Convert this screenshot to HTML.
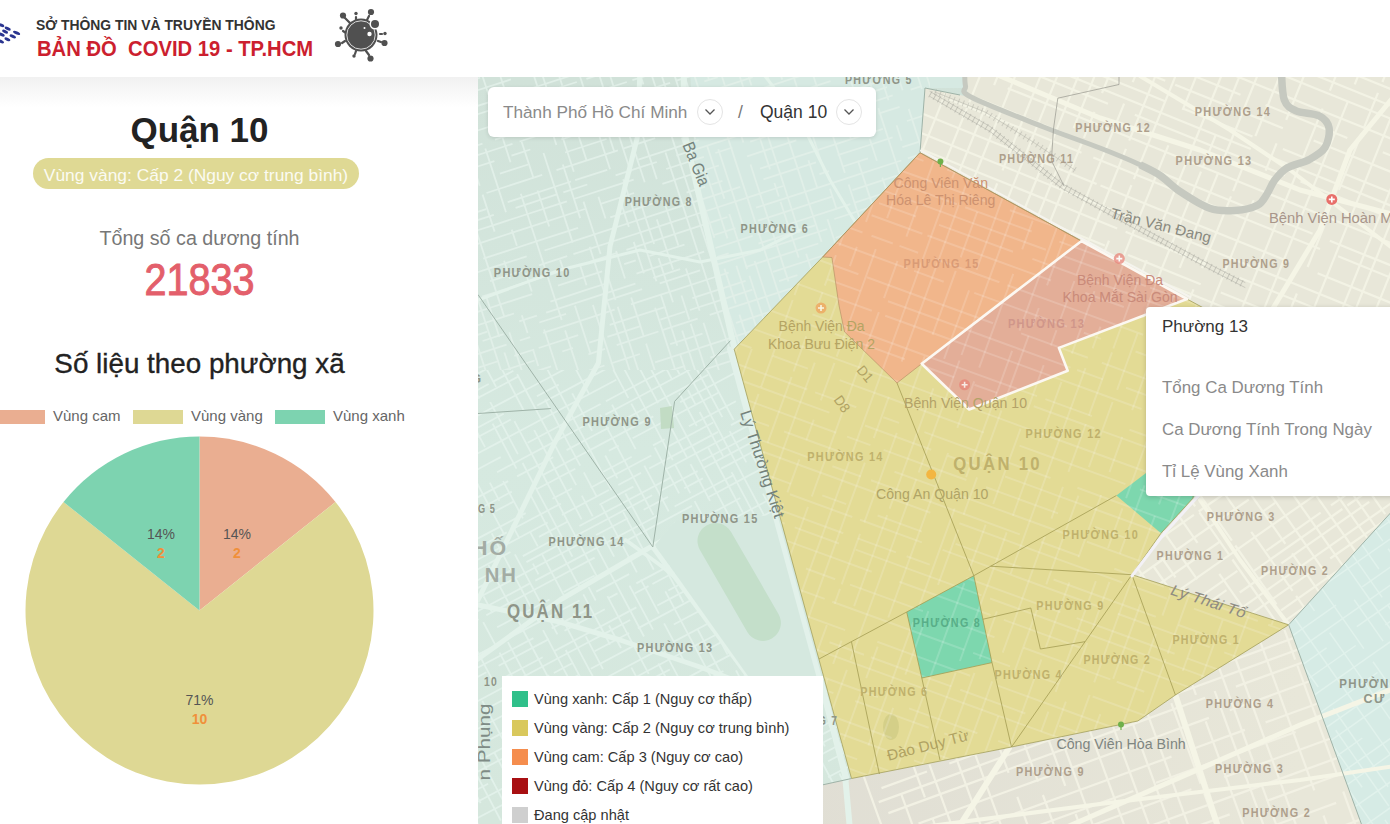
<!DOCTYPE html>
<html lang="vi">
<head>
<meta charset="utf-8">
<title>Bản đồ COVID 19 - TP.HCM</title>
<style>
*{box-sizing:border-box;margin:0;padding:0}
html,body{width:1390px;height:824px;overflow:hidden;background:#fff;font-family:"Liberation Sans",Arial,sans-serif}
.abs{position:absolute;white-space:nowrap}
#header{position:absolute;left:0;top:0;width:1390px;height:77px;background:#fff;z-index:5}
#shade{position:absolute;left:0;top:77px;width:478px;height:30px;background:linear-gradient(#f1f1f1,#fff)}
.t1{left:36px;top:17px;font-size:14.5px;transform:scaleX(.958);transform-origin:0 0;font-weight:bold;color:#333;letter-spacing:0}
.t2{left:37px;top:36px;font-size:21.6px;transform:scaleX(.937);transform-origin:0 0;font-weight:bold;color:#cc1f2f}
.c{left:0;width:399px;text-align:center}
#q10{top:110px;font-size:35px;font-weight:bold;color:#222;line-height:40px}
#pill{position:absolute;left:33px;top:158px;width:326px;height:31px;border-radius:16px;background:#dfd994;color:#fbfbf2;font-size:17.4px;line-height:35px;text-align:center}
#tong{top:226px;font-size:19.7px;color:#777;line-height:24px}
#num{top:255px;font-size:41px;color:#e35f6b;line-height:44px;font-weight:normal;-webkit-text-stroke:.9px #e35f6b;transform:scale(.965,1.1);transform-origin:50% 0}
#sl{top:348px;font-size:27.8px;color:#222;line-height:32px;-webkit-text-stroke:.35px #222}
.lg{position:absolute;top:410px;height:14px;width:50px}
.lgt{top:407px;font-size:15px;color:#666;line-height:18px}
#search{position:absolute;left:488px;top:87px;width:388px;height:50px;background:#fff;border-radius:6px;box-shadow:0 1px 4px rgba(0,0,0,.12)}
#s1{left:15px;top:15.4px;font-size:17.2px;color:#8a8a8a;line-height:20px}
#s2{left:272px;top:15px;font-size:17.5px;color:#333;line-height:20px}
#slash{left:250px;top:15px;font-size:17.5px;color:#777;line-height:20px}
.circ{position:absolute;top:12px;width:26px;height:26px;border:1px solid #e4e4e4;border-radius:50%;display:flex;align-items:center;justify-content:center}
#popup{position:absolute;left:1146px;top:307px;width:260px;height:189px;background:#fff;border-radius:4px;box-shadow:0 1px 5px rgba(0,0,0,.18)}
#p1{left:16px;top:10px;font-size:17px;color:#333;line-height:20px}
.pg{left:16px;font-size:16.9px;color:#8a8a8a;line-height:20px}
#legend{position:absolute;left:502px;top:676px;width:321px;height:160px;background:#fff}
.lr{position:absolute;left:10px;height:16px;font-size:14.6px;color:#333;line-height:16px;white-space:nowrap}
.lr i{display:inline-block;width:16px;height:16px;vertical-align:top;margin-right:6px}
</style>
</head>
<body>
<div id="header">
  <svg class="abs" style="left:0;top:0" width="24" height="50" viewBox="0 0 24 50"><g fill="#2b3590"><ellipse cx="1.3" cy="25.2" rx="3.2" ry="1.55" transform="rotate(24 1.3 25.2)"/><ellipse cx="7.7" cy="28.6" rx="3.3" ry="1.55" transform="rotate(24 7.7 28.6)"/><ellipse cx="16.6" cy="32.9" rx="3.8" ry="1.55" transform="rotate(24 16.6 32.9)"/><ellipse cx="5.1" cy="31.6" rx="3.2" ry="1.55" transform="rotate(24 5.1 31.6)"/><ellipse cx="12.8" cy="36.3" rx="3.4" ry="1.55" transform="rotate(24 12.8 36.3)"/><ellipse cx="1.7" cy="34.6" rx="3.2" ry="1.55" transform="rotate(24 1.7 34.6)"/><ellipse cx="7.4" cy="39.3" rx="3.2" ry="1.55" transform="rotate(24 7.4 39.3)"/><ellipse cx="0.9" cy="41.4" rx="3.3" ry="1.55" transform="rotate(24 0.9 41.4)"/><ellipse cx="-4" cy="29" rx="3.2" ry="1.55" transform="rotate(24 -4 29)"/><ellipse cx="-4" cy="37" rx="3.2" ry="1.55" transform="rotate(24 -4 37)"/></g></svg>
  <div class="abs t1">SỞ THÔNG TIN VÀ TRUYỀN THÔNG</div>
  <div class="abs t2">BẢN ĐỒ&nbsp; COVID 19 - TP.HCM</div>
  <svg class="abs" style="left:331px;top:6px" width="60" height="58" viewBox="331 6 60 58">
    <g stroke="#505050" stroke-width="2.2" stroke-linecap="round" fill="#505050">
      <line x1="352" y1="25" x2="343" y2="16"/><circle cx="343" cy="15.5" r="3.1" stroke="none"/>
      <line x1="356" y1="21" x2="356" y2="17"/><circle cx="356" cy="13.5" r="1.7" stroke="none"/>
      <line x1="367" y1="20" x2="369" y2="16"/><circle cx="371" cy="12" r="3.1" stroke="none"/>
      <line x1="346" y1="33" x2="343" y2="31"/><circle cx="341" cy="28" r="1.7" stroke="none"/>
      <line x1="345" y1="41" x2="342" y2="43"/><circle cx="338" cy="44" r="3.1" stroke="none"/>
      <line x1="356" y1="51" x2="355" y2="54"/><circle cx="354" cy="56" r="1.7" stroke="none"/>
      <line x1="366" y1="51" x2="369" y2="55"/><circle cx="370.5" cy="58.5" r="3.1" stroke="none"/>
      <line x1="378" y1="41" x2="381" y2="42"/><circle cx="384.5" cy="43" r="3.1" stroke="none"/>
      <line x1="380" y1="34" x2="382" y2="34"/><circle cx="385" cy="33.5" r="1.7" stroke="none"/>
    </g>
    <circle cx="361" cy="35" r="16.5" fill="#505050"/>
    <circle cx="361" cy="35" r="14.2" fill="none" stroke="#d8d8d8" stroke-width="1"/>
    <circle cx="375" cy="24" r="5.5" fill="#fff"/>
    <circle cx="375" cy="24" r="4" fill="#505050"/>
    <circle cx="369.5" cy="34" r="2.2" fill="#fff"/>
    <circle cx="364.5" cy="28" r="1" fill="#fff"/>
  </svg>
</div>
<div id="shade"></div>

<div class="abs c" id="q10">Quận 10</div>
<div id="pill">Vùng vàng: Cấp 2 (Nguy cơ trung bình)</div>
<div class="abs c" id="tong">Tổng số ca dương tính</div>
<div class="abs c" id="num">21833</div>
<div class="abs c" id="sl">Số liệu theo phường xã</div>

<div class="lg" style="left:-5px;background:#eaae91"></div>
<div class="abs lgt" style="left:53px">Vùng cam</div>
<div class="lg" style="left:133px;background:#ded894"></div>
<div class="abs lgt" style="left:191px">Vùng vàng</div>
<div class="lg" style="left:275px;background:#7dd3b0"></div>
<div class="abs lgt" style="left:333px">Vùng xanh</div>

<svg class="abs" style="left:0;top:430px" width="400" height="370" viewBox="0 428.5 400 370">
  <!-- pie center (199.5,609) r=174 -->
  <path d="M199.5 609 L199.5 435 A174 174 0 0 1 335.5 500.5 Z" fill="#eaae91"/>
  <path d="M199.5 609 L335.5 500.5 A174 174 0 1 1 63.5 500.5 Z" fill="#ded894"/>
  <path d="M199.5 609 L63.5 500.5 A174 174 0 0 1 199.5 435 Z" fill="#7dd3b0"/>
  <g font-family="Liberation Sans, Arial, sans-serif" font-size="14" text-anchor="middle">
    <text x="161" y="537" fill="#555">14%</text>
    <text x="161" y="556" fill="#f0903a" font-weight="bold">2</text>
    <text x="237" y="537" fill="#555">14%</text>
    <text x="237" y="556" fill="#f0903a" font-weight="bold">2</text>
    <text x="199.5" y="703" fill="#555">71%</text>
    <text x="199.5" y="722" fill="#f0903a" font-weight="bold">10</text>
  </g>
</svg>

<svg id="mapsvg" class="abs" style="left:478px;top:77px" width="912" height="747" viewBox="478 77 912 747">
<defs>
<clipPath id="cT"><path d="M470.0,70.0 L964.0,70.0 L966.0,88.0 L969.0,97.0 L960.0,95.0 L925.0,88.0 L920.0,152.7 L822.7,257.0 L734.2,349.2 L851.5,778.5 L822.9,784.8 L760.0,830.0 L470.0,830.0 Z"/><path d="M1288.7,624.8 L1395.0,508.0 L1395.0,830.0 L1363.6,830.0 Z"/></clipPath>
<clipPath id="cQ"><path d="M920.0,152.7 L1081.5,241.0 L1187.0,299.0 L1210.0,311.5 L1203.0,420.0 L1192.9,498.3 L1161.0,533.2 L1131.9,574.7 L1288.7,624.8 L1175.4,695.0 L1137.8,721.0 L1011.5,747.0 L851.5,778.5 L734.2,349.2 L822.7,257.0 Z"/></clipPath>
</defs>
<rect x="470" y="70" width="930" height="760" fill="#e8e7d9"/>
<linearGradient id="gB" x1="800" y1="0" x2="1300" y2="0" gradientUnits="userSpaceOnUse"><stop offset="0" stop-color="#e0ded4"/><stop offset="1" stop-color="#e8e7d9"/></linearGradient>
<path d="M851.5,778.5 L1011.5,747.0 L1137.8,721.0 L1175.4,695.0 L1288.7,624.8 L1363.6,830.0 L760.0,830.0 L822.9,784.8 Z" fill="url(#gB)"/>
<linearGradient id="gT" x1="0" y1="80" x2="0" y2="820" gradientUnits="userSpaceOnUse"><stop offset="0" stop-color="#d1e2d9"/><stop offset="0.5" stop-color="#d6e9e0"/><stop offset="1" stop-color="#d5e7dd"/></linearGradient>
<path d="M470.0,70.0 L964.0,70.0 L966.0,88.0 L969.0,97.0 L960.0,95.0 L925.0,88.0 L920.0,152.7 L822.7,257.0 L734.2,349.2 L851.5,778.5 L822.9,784.8 L760.0,830.0 L470.0,830.0 Z" fill="url(#gT)"/>
<path d="M1288.7,624.8 L1395.0,508.0 L1395.0,830.0 L1363.6,830.0 Z" fill="#d6ebe5"/>
<path d="M690.0,70.0 L964.0,70.0 L966.0,88.0 L925.0,88.0 L920.0,152.7 L822.7,257.0 L734.2,349.2 L715.0,280.0 L695.0,160.0 Z" fill="#d7ebe4" fill-opacity="0.75"/>
<clipPath id="cB"><rect x="470" y="70" width="930" height="760"/></clipPath>
<clipPath id="cBe"><path clip-rule="evenodd" d="M470,70 H1400 V830 H470 Z M470.0,70.0 L964.0,70.0 L966.0,88.0 L969.0,97.0 L960.0,95.0 L925.0,88.0 L920.0,152.7 L822.7,257.0 L734.2,349.2 L851.5,778.5 L822.9,784.8 L760.0,830.0 L470.0,830.0 Z M1288.7,624.8 L1395.0,508.0 L1395.0,830.0 L1363.6,830.0 Z"/></clipPath>
<clipPath id="cTN"><path d="M470.0,70.0 L964.0,70.0 L966.0,88.0 L969.0,97.0 L960.0,95.0 L925.0,88.0 L920.0,152.7 L822.7,257.0 L734.2,349.2 L851.5,778.5 L822.9,784.8 L760.0,830.0 L470.0,830.0 Z"/></clipPath>
<clipPath id="cTNW"><rect x="470" y="70" width="460" height="300"/></clipPath>
<clipPath id="cTSW"><rect x="470" y="370" width="400" height="460"/></clipPath>
<g clip-path="url(#cTN)">
<path d="M258.9,11.7L312.4,-5.6M333.5,-12.5L371.0,-24.7M392.3,-31.6L431.8,-44.4M431.8,-44.4L445.8,-49.0M452.7,-51.2L500.7,-66.8M500.7,-66.8L512.2,-70.6M512.2,-70.6L567.6,-88.6M567.6,-88.6L606.4,-101.2M610.7,-102.6L645.3,-113.8M655.6,-117.2L676.6,-124.0M696.3,-130.4L726.8,-140.3M726.8,-140.3L761.0,-151.4M761.0,-151.4L794.3,-162.2M794.3,-162.2L825.5,-172.4M863.5,-184.7L920.3,-203.2M253.7,27.5L274.2,20.8M280.4,18.8L326.3,3.9M359.1,-6.8L387.0,-15.8M387.0,-15.8L436.8,-32.0M447.8,-35.6L500.6,-52.7M537.9,-64.9L566.4,-74.1M591.7,-82.3L638.2,-97.5M645.0,-99.7L670.4,-107.9M670.4,-107.9L715.9,-122.7M728.2,-126.7L742.5,-131.3M773.6,-141.4L791.5,-147.3M810.6,-153.5L829.2,-159.5M829.2,-159.5L845.0,-164.6M845.0,-164.6L860.0,-169.5M281.6,28.3L329.3,12.8M363.4,1.8L382.9,-4.6M416.0,-15.3L456.0,-28.3M493.7,-40.6L513.3,-47.0M543.6,-56.8L568.8,-65.0M575.1,-67.0L588.9,-71.5M601.0,-75.4L639.1,-87.8M658.4,-94.1L713.5,-112.0M737.0,-119.6L787.7,-136.1M796.8,-139.1L849.5,-156.2M849.5,-156.2L870.9,-163.1M256.9,52.6L311.6,34.8M311.6,34.8L349.8,22.4M357.2,20.0L368.5,16.4M368.5,16.4L389.4,9.6M389.4,9.6L411.1,2.5M411.1,2.5L449.0,-9.8M458.8,-13.0L502.5,-27.2M514.2,-31.0L550.3,-42.7M550.3,-42.7L589.0,-55.3M624.2,-66.7L643.4,-73.0M656.4,-77.2L687.1,-87.2M697.0,-90.4L724.0,-99.2M732.3,-101.9L759.1,-110.6M759.1,-110.6L815.2,-128.8M815.2,-128.8L857.6,-142.6M866.2,-145.4L877.4,-149.0M290.2,55.8L300.7,52.4M300.7,52.4L333.1,41.8M333.1,41.8L357.8,33.8M357.8,33.8L370.9,29.6M399.9,20.1L452.2,3.1M452.2,3.1L495.2,-10.8M495.2,-10.8L548.2,-28.1M575.5,-36.9L627.8,-53.9M627.8,-53.9L657.2,-63.5M657.2,-63.5L707.8,-79.9M733.0,-88.1L760.7,-97.1M785.3,-105.1L798.6,-109.4M798.6,-109.4L855.4,-127.8M855.4,-127.8L899.5,-142.2M274.1,73.9L323.4,57.8M352.9,48.3L363.9,44.7M363.9,44.7L396.2,34.2M424.0,25.2L457.1,14.4M457.1,14.4L510.4,-2.9M514.6,-4.3L538.4,-12.0M538.4,-12.0L557.6,-18.2M592.4,-29.5L633.3,-42.8M667.6,-54.0L692.7,-62.1M692.7,-62.1L711.6,-68.3M743.0,-78.5L796.0,-95.7M796.0,-95.7L823.8,-104.7M838.4,-109.5L854.4,-114.7M288.9,84.5L343.6,66.7M353.2,63.6L384.1,53.5M395.2,49.9L424.4,40.4M424.4,40.4L457.4,29.7M490.0,19.1L546.2,0.9M552.5,-1.2L563.6,-4.8M563.6,-4.8L575.0,-8.5M575.0,-8.5L611.7,-20.4M642.6,-30.5L653.0,-33.8M672.4,-40.1L683.1,-43.6M683.1,-43.6L703.9,-50.4M709.3,-52.1L748.7,-64.9M774.1,-73.2L814.7,-86.4M814.7,-86.4L869.8,-104.3M869.8,-104.3L888.8,-110.5M282.0,94.2L325.5,80.0M338.6,75.8L364.5,67.3M364.5,67.3L398.8,56.2M398.8,56.2L444.3,41.4M475.2,31.4L527.8,14.3M563.5,2.7L607.4,-11.6M626.7,-17.8L666.0,-30.6M666.0,-30.6L693.4,-39.5M727.3,-50.5L774.7,-65.9M774.7,-65.9L806.3,-76.2M806.3,-76.2L825.5,-82.4M825.5,-82.4L874.0,-98.2M874.0,-98.2L917.6,-112.4M306.1,103.0L341.1,91.6M341.1,91.6L365.9,83.5M365.9,83.5L416.1,67.2M422.7,65.1L453.2,55.2M483.3,45.4L516.0,34.8M547.5,24.5L560.1,20.5M560.1,20.5L577.8,14.7M608.6,4.7L624.8,-0.6M646.3,-7.6L690.2,-21.8M690.2,-21.8L732.5,-35.6M732.5,-35.6L765.4,-46.3M765.4,-46.3L779.0,-50.7M800.8,-57.8L824.2,-65.4M824.2,-65.4L864.0,-78.3M284.5,122.7L312.1,113.7M312.1,113.7L364.5,96.7M397.4,86.0L453.0,67.9M476.4,60.3L495.5,54.1M516.5,47.3L554.8,34.8M591.8,22.8L625.8,11.8M657.1,1.6L693.3,-10.2M720.8,-19.1L733.4,-23.2M751.4,-29.1L806.4,-46.9M806.4,-46.9L828.7,-54.2M836.9,-56.8L867.0,-66.6M867.0,-66.6L919.3,-83.6M298.8,127.2L352.4,109.8M382.8,99.9L393.4,96.4M405.0,92.7L447.2,79.0M463.2,73.8L502.1,61.1M531.0,51.7L546.3,46.8M558.7,42.7L577.6,36.6M596.4,30.5L623.8,21.6M645.7,14.5L662.8,8.9M688.2,0.6L728.1,-12.3M761.0,-23.0L799.6,-35.6M799.6,-35.6L820.2,-42.2M820.2,-42.2L868.3,-57.9M868.3,-57.9L892.8,-65.8M316.1,131.0L367.8,114.2M379.8,110.3L423.9,96.0M431.0,93.7L480.1,77.7M510.9,67.7L526.4,62.6M553.7,53.8L564.0,50.4M591.2,41.6L644.1,24.4M644.1,24.4L659.1,19.5M688.8,9.9L722.2,-1.0M722.2,-1.0L740.7,-7.0M748.2,-9.4L759.5,-13.1M780.9,-20.0L817.5,-31.9M827.6,-35.2L846.8,-41.4M846.8,-41.4L903.4,-59.8M903.4,-59.8L917.4,-64.4M310.6,144.5L335.7,136.3M357.1,129.4L387.1,119.6M387.1,119.6L397.2,116.3M397.2,116.3L446.9,100.2M466.3,93.9L510.9,79.4M521.4,76.0L538.8,70.4M543.1,69.0L595.1,52.1M595.1,52.1L638.1,38.1M638.1,38.1L677.5,25.3M701.9,17.4L735.4,6.5M735.4,6.5L783.1,-9.0M818.2,-20.4L863.1,-35.0M863.1,-35.0L911.3,-50.7M312.6,159.5L358.6,144.6M358.6,144.6L387.4,135.2M387.4,135.2L400.3,131.1M420.1,124.6L430.1,121.3M455.8,113.0L495.0,100.3M531.1,88.5L572.3,75.1M598.7,66.6L635.3,54.7M652.5,49.1L709.5,30.6M709.5,30.6L752.4,16.6M752.4,16.6L808.5,-1.6M833.4,-9.7L878.0,-24.2M895.6,-29.9L907.5,-33.7M298.1,172.5L350.7,155.4M371.9,148.6L427.4,130.5M465.3,118.2L505.1,105.3M505.1,105.3L518.3,101.0M548.1,91.3L559.7,87.5M559.7,87.5L576.8,82.0M586.4,78.9L619.5,68.1M619.5,68.1L631.8,64.1M631.8,64.1L661.3,54.5M685.6,46.6L712.5,37.9M738.7,29.4L774.9,17.6M803.2,8.4L826.8,0.7M839.0,-3.2L850.6,-7.0M880.2,-16.6L908.3,-25.7M908.3,-25.7L953.4,-40.4M296.2,189.5L348.8,172.4M368.9,165.8L424.7,147.7M446.4,140.6L500.5,123.1M500.5,123.1L532.3,112.7M532.3,112.7L580.6,97.0M580.6,97.0L595.6,92.2M595.6,92.2L626.8,82.0M632.4,80.2L667.0,69.0M686.0,62.8L727.2,49.4M740.0,45.2L777.2,33.2M807.7,23.3L842.4,12.0M842.4,12.0L897.2,-5.8M897.2,-5.8L918.1,-12.6M321.5,196.0L348.1,187.4M375.4,178.5L411.7,166.7M437.2,158.4L482.5,143.7M494.9,139.7L551.0,121.5M551.0,121.5L602.3,104.8M608.2,102.9L630.6,95.6M655.7,87.4L670.1,82.8M676.4,80.7L690.0,76.3M690.0,76.3L725.7,64.7M725.7,64.7L752.9,55.8M764.0,52.3L789.8,43.9M789.8,43.9L839.2,27.8M847.1,25.2L895.1,9.6M895.1,9.6L941.2,-5.3M331.4,202.6L358.5,193.8M358.5,193.8L415.0,175.4M437.6,168.1L482.6,153.5M482.6,153.5L512.5,143.8M519.6,141.5L570.7,124.8M577.4,122.7L613.7,110.9M641.0,102.0L664.7,94.3M664.7,94.3L677.8,90.0M704.3,81.4L717.7,77.1M746.3,67.8L788.8,54.0M797.5,51.2L824.0,42.5M824.0,42.5L851.0,33.8M879.1,24.7L915.6,12.8M915.6,12.8L969.9,-4.8M334.5,213.1L358.5,205.3M376.0,199.6L430.0,182.1M430.0,182.1L451.3,175.1M467.6,169.8L494.4,161.1M511.5,155.6L530.3,149.5M561.4,139.4L596.6,127.9M596.6,127.9L632.9,116.2M662.6,106.5L714.0,89.8M718.6,88.3L752.6,77.2M775.9,69.7L831.3,51.7M831.3,51.7L879.1,36.2M901.6,28.8L948.6,13.6M342.4,224.9L356.0,220.5M356.0,220.5L372.3,215.2M372.3,215.2L412.7,202.0M424.0,198.3L469.9,183.4M499.9,173.7L528.2,164.5M565.1,152.5L606.6,139.0M628.8,131.8L672.6,117.6M672.6,117.6L725.6,100.3M757.7,89.9L798.9,76.5M798.9,76.5L846.8,61.0M846.8,61.0L898.5,44.2M898.5,44.2L938.5,31.2M328.6,244.3L358.1,234.7M387.3,225.2L444.0,206.8M453.5,203.7L472.7,197.5M486.5,193.0L542.2,174.9M556.5,170.2L571.5,165.4M571.5,165.4L617.9,150.3M623.8,148.4L655.2,138.2M690.1,126.8L701.4,123.2M711.5,119.9L731.3,113.5M759.7,104.2L797.5,92.0M807.6,88.7L830.5,81.2M860.2,71.6L884.6,63.7M916.3,53.3L948.7,42.8M330.3,259.8L365.9,248.2M365.9,248.2L398.3,237.7M403.8,235.9L458.4,218.1M458.4,218.1L486.2,209.1M507.7,202.1L530.2,194.8M530.2,194.8L571.0,181.5M575.2,180.2L607.2,169.8M638.3,159.7L681.7,145.6M681.7,145.6L698.7,140.1M713.5,135.3L735.4,128.2M735.4,128.2L769.4,117.1M769.4,117.1L826.1,98.7M848.3,91.5L864.9,86.1M864.9,86.1L874.5,82.9M874.5,82.9L924.3,66.8M924.3,66.8L937.7,62.4M338.0,265.5L369.8,255.2M369.8,255.2L407.2,243.1M407.2,243.1L431.2,235.3M431.2,235.3L460.5,225.7M460.5,225.7L474.3,221.2M474.3,221.2L493.8,214.9M515.6,207.9L532.6,202.3M532.6,202.3L556.9,194.4M563.3,192.3L587.3,184.5M615.6,175.3L642.2,166.7M642.2,166.7L656.8,162.0M676.4,155.6L731.9,137.6M731.9,137.6L772.5,124.4M789.2,118.9L832.5,104.9M855.6,97.4L886.9,87.2M924.6,74.9L972.2,59.5M337.0,276.0L372.2,264.5M387.6,259.6L415.7,250.4M415.7,250.4L437.4,243.3M466.3,234.0L491.4,225.8M491.4,225.8L527.7,214.0M527.7,214.0L553.0,205.8M553.0,205.8L566.9,201.3M573.9,199.0L615.7,185.4M615.7,185.4L633.7,179.6M666.2,169.0L703.9,156.8M715.4,153.0L732.4,147.5M750.2,141.7L763.1,137.5M763.1,137.5L792.9,127.8M818.9,119.4L864.9,104.5M864.9,104.5L892.7,95.4M910.7,89.6L920.9,86.3M948.7,77.2L1004.9,59.0M349.9,285.4L360.3,282.0M375.8,277.0L416.2,263.8M433.0,258.4L466.7,247.4M466.7,247.4L515.4,231.6M515.4,231.6L532.5,226.1M532.5,226.1L584.9,209.0M600.8,203.9L634.1,193.0M662.4,183.9L718.8,165.5M747.1,156.3L796.3,140.3M832.5,128.6L871.8,115.8M878.5,113.7L899.6,106.8M927.3,97.8L952.4,89.6M952.4,89.6L979.1,80.9M336.7,306.2L389.2,289.2M412.2,281.7L448.4,270.0M483.3,258.6L540.0,240.2M540.0,240.2L578.1,227.8M610.2,217.4L633.4,209.8M633.4,209.8L654.4,203.0M686.6,192.6L705.0,186.6M711.4,184.5L722.4,180.9M760.0,168.7L814.2,151.1M814.2,151.1L838.3,143.3M838.3,143.3L882.9,128.8M907.0,121.0L954.7,105.4M340.5,316.8L368.4,307.8M378.1,304.6L412.3,293.5M435.6,285.9L460.9,277.7M460.9,277.7L472.2,274.0M472.2,274.0L488.6,268.7M488.6,268.7L526.7,256.3M544.5,250.5L583.7,237.8M583.7,237.8L629.3,223.0M629.3,223.0L661.9,212.4M661.9,212.4L711.3,196.3M711.3,196.3L740.2,186.9M763.4,179.4L816.0,162.3M837.7,155.2L867.8,145.5M867.8,145.5L892.6,137.4M921.2,128.1L973.5,111.1M367.5,321.1L391.5,313.3M397.7,311.2L413.1,306.2M434.1,299.4L462.5,290.2M490.1,281.2L524.6,270.0M538.9,265.4L567.2,256.2M573.4,254.2L626.2,237.0M626.2,237.0L667.4,223.6M667.4,223.6L696.9,214.0M696.9,214.0L717.0,207.5M717.0,207.5L753.5,195.6M753.5,195.6L767.7,191.0M767.7,191.0L783.1,186.0M819.4,174.2L829.0,171.1M843.0,166.5L868.0,158.4M902.4,147.2L950.7,131.6M344.4,341.5L355.4,337.9M355.4,337.9L379.6,330.0M415.3,318.4L471.3,300.2M482.2,296.7L505.7,289.0M505.7,289.0L557.9,272.1M590.4,261.5L616.7,253.0M626.4,249.8L677.8,233.1M677.8,233.1L696.9,226.9M696.9,226.9L715.5,220.9M715.5,220.9L727.4,217.0M756.1,207.7L780.4,199.8M780.4,199.8L831.3,183.3M831.3,183.3L847.2,178.1M847.2,178.1L901.3,160.5M907.8,158.4L928.0,151.8M956.1,142.7L975.0,136.6M376.7,344.6L404.0,335.8M404.0,335.8L455.5,319.0M467.2,315.2L491.0,307.5M491.0,307.5L532.2,294.1M558.0,285.7L571.7,281.2M571.7,281.2L602.2,271.3M624.2,264.2L635.8,260.4M649.4,256.0L670.8,249.0M670.8,249.0L684.5,244.6M714.2,235.0L735.4,228.1M757.9,220.7L776.3,214.8M776.3,214.8L832.8,196.4M852.4,190.1L897.6,175.4M933.2,163.8L966.5,153.0M364.3,362.1L405.1,348.8M405.1,348.8L439.2,337.8M472.0,327.1L514.0,313.5M550.4,301.6L568.2,295.9M568.2,295.9L585.5,290.2M585.5,290.2L606.2,283.5M636.5,273.7L683.4,258.4M683.4,258.4L704.2,251.7M715.5,248.0L752.6,235.9M757.6,234.3L795.5,222.0M795.5,222.0L832.3,210.1M832.3,210.1L850.3,204.2M854.8,202.7L887.9,192.0M906.8,185.8L928.8,178.7M928.8,178.7L941.8,174.5M941.8,174.5L978.3,162.6M359.0,373.4L383.3,365.5M397.9,360.8L436.9,348.1M449.8,343.9L487.3,331.7M519.2,321.4L536.9,315.6M546.2,312.6L588.5,298.9M588.5,298.9L635.4,283.6M653.3,277.8L680.1,269.1M717.2,257.1L728.7,253.3M758.5,243.6L815.0,225.3M834.3,219.0L879.3,204.4M891.3,200.5L943.2,183.6M960.4,178.0L984.1,170.3M393.6,369.9L439.4,355.0M439.4,355.0L459.9,348.4M482.6,341.0L503.6,334.2M539.3,322.5L566.1,313.8M603.5,301.7L642.1,289.1M659.7,283.4L700.1,270.3M715.6,265.2L758.2,251.4M758.2,251.4L795.8,239.2M795.8,239.2L827.3,229.0M860.0,218.4L887.6,209.4M887.6,209.4L907.3,203.0M917.4,199.7L953.1,188.1M963.9,184.6L983.6,178.2M396.9,380.4L438.7,366.8M438.7,366.8L458.0,360.6M464.3,358.5L506.6,344.7M519.8,340.5L530.2,337.1M543.0,332.9L571.2,323.8M571.2,323.8L614.7,309.6M630.9,304.4L647.7,298.9M647.7,298.9L674.3,290.3M674.3,290.3L718.2,276.0M718.2,276.0L728.7,272.6M745.7,267.1L759.2,262.7M759.2,262.7L784.1,254.6M784.1,254.6L818.3,243.5M835.6,237.8L856.5,231.1M865.4,228.2L903.3,215.9M917.8,211.2L947.4,201.5M955.9,198.8L999.0,184.8M368.7,403.2L388.0,397.0M416.2,387.8L445.0,378.4M478.4,367.6L498.7,361.0M514.3,355.9L534.1,349.5M538.7,348.0L578.2,335.2M609.7,324.9L665.6,306.8M692.4,298.1L745.6,280.8M773.0,271.9L814.2,258.5M814.2,258.5L865.0,242.0M890.5,233.7L904.2,229.2M921.5,223.6L933.9,219.6M948.9,214.7L982.0,203.9M384.5,409.3L401.9,403.6M401.9,403.6L422.9,396.8M438.4,391.8L468.0,382.1M491.7,374.4L534.6,360.5M562.3,351.5L573.0,348.0M589.2,342.7L601.7,338.7M607.4,336.8L640.5,326.1M660.3,319.6L685.3,311.5M689.9,310.0L716.0,301.6M716.0,301.6L752.4,289.7M779.0,281.1L797.4,275.1M822.3,267.0L877.2,249.2M900.7,241.5L955.0,223.9M955.0,223.9L994.4,211.1M385.5,420.2L408.2,412.8M408.2,412.8L459.5,396.1M494.5,384.8L505.8,381.1M527.0,374.2L551.1,366.4M588.4,354.3L605.0,348.9M616.7,345.1L658.5,331.5M662.4,330.2L697.7,318.7M709.7,314.8L742.7,304.1M742.7,304.1L778.3,292.6M778.3,292.6L814.5,280.8M814.5,280.8L870.0,262.7M885.7,257.7L937.4,240.9M965.7,231.7L1008.3,217.8M405.9,430.0L423.0,424.5M423.0,424.5L455.9,413.8M472.3,408.5L495.4,401.0M495.4,401.0L530.3,389.6M542.7,385.6L567.6,377.5M589.0,370.5L604.5,365.5M610.7,363.5L625.1,358.8M625.1,358.8L639.9,354.0M670.2,344.2L702.5,333.7M736.0,322.8L786.9,306.3M799.4,302.2L833.0,291.3M833.0,291.3L861.2,282.1M861.2,282.1L882.7,275.1M882.7,275.1L907.7,267.0M937.5,257.3L987.1,241.2M987.1,241.2L1023.6,229.3M410.1,441.9L457.7,426.5M474.4,421.0L515.7,407.6M525.9,404.3L536.0,401.0M572.1,389.3L627.7,371.2M655.1,362.3L684.5,352.8M684.5,352.8L712.9,343.6M712.9,343.6L769.4,325.2M797.6,316.0L812.8,311.1M826.4,306.7L870.7,292.3M870.7,292.3L885.9,287.3M890.6,285.8L925.9,274.3M942.5,268.9L966.7,261.1M966.7,261.1L1016.1,245.0M411.5,454.7L467.6,436.4M495.2,427.5L530.7,416.0M530.7,416.0L547.2,410.6M554.6,408.2L608.5,390.7M629.1,384.0L644.3,379.0M648.8,377.6L685.2,365.8M710.4,357.6L732.9,350.2M753.2,343.6L780.1,334.9M785.7,333.1L798.3,329.0M798.3,329.0L822.5,321.1M832.6,317.9L865.1,307.3M865.1,307.3L884.2,301.1M884.2,301.1L916.7,290.5M948.2,280.3L976.5,271.1M999.1,263.7L1039.9,250.5M421.0,461.6L471.6,445.1M471.6,445.1L502.2,435.2M502.2,435.2L546.2,420.9M550.9,419.4L568.5,413.7M574.8,411.6L601.4,403.0M601.4,403.0L625.6,395.1M629.8,393.7L649.3,387.4M649.3,387.4L659.3,384.1M690.9,373.9L738.1,358.6M738.1,358.6L766.6,349.3M766.6,349.3L815.4,333.4M815.4,333.4L871.8,315.1M908.2,303.3L936.8,294.0M936.8,294.0L958.2,287.0M958.2,287.0L968.9,283.6M980.5,279.8L1008.4,270.7M403.6,482.3L443.4,469.3M456.8,465.0L509.3,447.9M516.4,445.6L541.8,437.4M541.8,437.4L561.4,431.0M561.4,431.0L596.8,419.5M596.8,419.5L614.8,413.6M623.5,410.8L649.7,402.3M653.8,401.0L687.2,390.1M702.0,385.3L737.1,373.9M737.1,373.9L756.3,367.7M756.3,367.7L781.1,359.6M781.1,359.6L795.7,354.9M795.7,354.9L825.7,345.1M825.7,345.1L845.7,338.6M873.6,329.5L891.6,323.7M918.6,314.9L973.2,297.2M983.2,293.9L1009.7,285.3M1009.7,285.3L1026.3,279.9M417.4,488.7L437.0,482.3M437.0,482.3L488.7,465.5M488.7,465.5L528.1,452.7M551.4,445.2L566.3,440.3M566.3,440.3L608.6,426.6M635.2,417.9L664.7,408.4M676.4,404.6L714.4,392.2M735.9,385.2L746.9,381.7M746.9,381.7L777.7,371.7M801.8,363.8L855.6,346.3M875.5,339.9L932.2,321.4M932.2,321.4L956.6,313.5M956.6,313.5L1013.2,295.1M433.1,492.2L466.0,481.5M498.5,470.9L538.9,457.8M538.9,457.8L587.9,441.9M587.9,441.9L621.7,430.9M621.7,430.9L634.3,426.8M634.3,426.8L677.6,412.7M709.1,402.5L740.2,392.4M773.6,381.5L792.5,375.4M818.3,367.0L831.3,362.8M862.1,352.8L894.9,342.1M926.1,332.0L976.3,315.7M976.3,315.7L1011.9,304.1M1011.9,304.1L1059.3,288.7M399.3,511.5L425.2,503.0M425.2,503.0L474.4,487.1M484.4,483.8L512.4,474.7M512.4,474.7L551.3,462.1M551.3,462.1L564.2,457.9M564.2,457.9L583.5,451.6M583.5,451.6L634.7,435.0M634.7,435.0L653.6,428.8M653.6,428.8L683.6,419.1M699.0,414.1L723.5,406.1M723.5,406.1L746.3,398.7M746.3,398.7L788.8,384.9M797.0,382.2L839.5,368.4M847.8,365.8L862.8,360.9M862.8,360.9L901.3,348.4M911.8,344.9L968.6,326.5M968.6,326.5L1013.2,312.0M406.7,520.3L446.3,507.4M478.1,497.1L507.1,487.7M528.3,480.8L582.5,463.2M610.4,454.1L631.1,447.4M644.7,443.0L695.7,426.4M728.7,415.6L770.4,402.1M806.2,390.5L834.2,381.4M834.2,381.4L872.3,369.0M878.3,367.1L907.7,357.5M926.6,351.4L981.5,333.5M1009.1,324.6L1050.6,311.1M437.8,518.8L459.2,511.8M474.7,506.8L523.3,491.0M523.3,491.0L560.9,478.8M568.1,476.5L620.2,459.5M636.5,454.2L663.8,445.4M663.8,445.4L705.1,431.9M739.7,420.7L794.3,402.9M819.8,394.7L851.6,384.3M871.4,377.9L895.9,369.9M895.9,369.9L934.2,357.5M934.2,357.5L990.1,339.3M990.1,339.3L1018.4,330.1M1018.4,330.1L1058.9,317.0M411.2,544.2L442.7,534.0M468.9,525.5L488.8,519.0M488.8,519.0L508.3,512.7M517.0,509.9L545.3,500.7M545.3,500.7L558.7,496.3M584.8,487.8L623.9,475.1M623.9,475.1L645.5,468.1M645.5,468.1L689.7,453.7M689.7,453.7L704.9,448.8M709.3,447.4L759.7,431.0M759.7,431.0L811.8,414.1M827.6,408.9L862.6,397.6M870.2,395.1L917.2,379.8M938.4,372.9L953.9,367.9M962.1,365.2L975.8,360.8M989.7,356.3L1036.2,341.2M419.2,549.5L450.2,539.4M469.8,533.1L519.7,516.9M552.6,506.2L569.5,500.7M569.5,500.7L604.0,489.5M628.7,481.4L679.3,465.0M679.3,465.0L708.5,455.5M717.6,452.6L766.0,436.8M766.0,436.8L809.4,422.7M831.4,415.6L842.3,412.1M856.4,407.5L911.8,389.5M911.8,389.5L961.6,373.3M979.7,367.4L992.9,363.1M1000.5,360.6L1053.7,343.3M448.7,553.5L503.2,535.8M524.1,529.0L576.6,511.9M590.7,507.3L635.4,492.8M651.8,487.5L681.7,477.8M697.8,472.6L727.7,462.8M733.2,461.0L782.5,445.0M804.4,437.9L839.9,426.4M851.3,422.7L865.6,418.0M880.1,413.3L912.7,402.7M942.1,393.2L974.8,382.5M992.5,376.8L1048.0,358.8M433.7,574.8L471.6,562.5M485.7,557.9L524.2,545.4M538.8,540.6L572.0,529.9M601.6,520.2L613.6,516.3M626.1,512.3L648.4,505.0M648.4,505.0L678.2,495.4M678.2,495.4L706.8,486.1M733.9,477.3L747.5,472.9M747.5,472.9L796.5,456.9M811.2,452.1L859.7,436.4M859.7,436.4L899.7,423.4M929.7,413.7L941.5,409.8M941.5,409.8L977.2,398.2M977.2,398.2L1017.1,385.2M446.1,585.3L455.9,582.1M455.9,582.1L485.3,572.5M485.3,572.5L541.6,554.2M541.6,554.2L554.6,550.0M554.6,550.0L585.1,540.1M585.1,540.1L612.6,531.2M631.3,525.1L646.4,520.2M675.4,510.8L688.3,506.6M720.7,496.0L761.9,482.7M769.5,480.2L784.7,475.2M821.2,463.4L857.3,451.7M857.3,451.7L876.9,445.3M899.0,438.1L948.4,422.0M982.2,411.1L1014.1,400.7M1032.7,394.7L1060.2,385.7M447.6,600.9L489.9,587.2M520.3,577.3L534.8,572.6M534.8,572.6L552.3,566.9M563.0,563.4L589.0,555.0M604.7,549.9L642.4,537.6M659.5,532.1L696.3,520.1M696.3,520.1L722.8,511.5M743.1,504.9L799.2,486.7M826.9,477.7L847.5,471.0M876.4,461.6L913.2,449.6M919.2,447.7L967.9,431.8M996.3,422.6L1026.4,412.9M1026.4,412.9L1062.5,401.1M450.8,615.8L483.5,605.2M513.1,595.6L527.4,590.9M560.2,580.3L571.4,576.6M571.4,576.6L607.9,564.8M623.2,559.8L639.9,554.4M639.9,554.4L685.7,539.5M685.7,539.5L699.9,534.9M699.9,534.9L719.8,528.4M741.9,521.3L780.4,508.7M810.4,499.0L847.6,486.9M847.6,486.9L901.1,469.5M901.1,469.5L927.9,460.8M927.9,460.8L971.6,446.6M1004.7,435.9L1048.8,421.5M1061.2,417.5L1071.6,414.1M446.1,627.5L461.8,622.4M475.0,618.1L498.0,610.6M519.3,603.7L570.3,587.1M603.6,576.3L653.7,560.0M653.7,560.0L689.1,548.5M689.1,548.5L724.0,537.2M724.0,537.2L777.2,519.9M777.2,519.9L799.1,512.8M835.0,501.1L861.7,492.5M861.7,492.5L882.4,485.8M898.8,480.4L943.0,466.0M943.0,466.0L976.6,455.1M992.3,450.0L1012.9,443.3M1012.9,443.3L1027.6,438.5M1027.6,438.5L1068.4,425.3M460.4,631.2L475.6,626.2M475.6,626.2L499.8,618.4M499.8,618.4L512.3,614.3M512.3,614.3L525.0,610.2M548.3,602.6L604.6,584.3M604.6,584.3L654.8,568.0M654.8,568.0L689.1,556.9M710.9,549.8L729.2,543.8M745.1,538.7L778.4,527.9M806.3,518.8L835.7,509.2M842.2,507.1L874.8,496.5M911.9,484.5L948.1,472.7M962.2,468.1L987.7,459.9M987.7,459.9L1041.9,442.3M1041.9,442.3L1096.5,424.5" stroke="#e1efe8" stroke-width="1.8" fill="none" clip-path="url(#cTNW)"/>
<path d="M857.0,-166.6L870.4,-125.4M871.7,-121.2L880.6,-93.9M890.9,-62.3L904.6,-20.0M904.6,-20.0L916.3,16.1M916.3,16.1L921.7,32.5M924.7,41.9L941.8,94.5M952.1,126.3L956.4,139.3M956.4,139.3L964.7,164.9M975.3,197.5L978.7,207.9M990.1,243.1L1001.0,276.8M1013.2,314.4L1031.0,368.9M1036.9,387.2L1042.1,403.1M1050.2,428.2L1055.9,445.5M842.8,-182.4L858.5,-134.1M864.4,-116.0L876.7,-78.1M882.2,-61.2L885.7,-50.2M885.7,-50.2L903.8,5.3M903.8,5.3L917.1,46.4M922.4,62.6L936.1,105.0M936.1,105.0L941.0,119.9M946.3,136.1L957.3,170.0M957.3,170.0L968.1,203.2M978.5,235.2L988.2,265.2M991.9,276.6L1001.6,306.4M1011.4,336.6L1016.1,351.0M1019.3,360.9L1033.2,403.5M1037.5,416.8L1045.9,442.7M838.1,-168.8L844.4,-149.4M851.0,-129.2L868.9,-74.1M880.8,-37.6L886.4,-20.1M886.4,-20.1L895.1,6.7M904.7,36.1L921.9,89.0M926.1,102.0L941.1,148.2M945.0,160.2L948.3,170.2M956.4,195.2L974.7,251.4M974.7,251.4L985.5,284.9M990.4,299.8L1005.6,346.7M1005.6,346.7L1018.6,386.6M1025.7,408.5L1036.2,440.7M1036.2,440.7L1043.3,462.7M816.6,-174.3L824.2,-150.9M824.2,-150.9L831.6,-128.2M831.6,-128.2L842.7,-94.2M842.7,-94.2L856.7,-51.2M861.1,-37.6L868.1,-16.0M868.1,-16.0L881.9,26.5M893.0,60.7L902.6,90.2M908.7,108.9L926.9,165.0M935.1,190.2L952.4,243.4M952.4,243.4L967.2,289.1M975.0,313.1L992.0,365.4M992.0,365.4L1004.1,402.5M1009.4,418.9L1023.9,463.4M810.1,-141.0L825.5,-93.5M825.5,-93.5L842.7,-40.7M852.7,-9.9L861.6,17.6M866.8,33.5L874.7,57.9M874.7,57.9L888.5,100.2M896.6,125.3L901.6,140.7M910.7,168.5L919.8,196.8M925.6,214.5L933.7,239.4M933.7,239.4L939.0,255.6M943.7,270.2L957.5,312.7M957.5,312.7L970.8,353.6M970.8,353.6L979.5,380.5M986.2,401.0L996.1,431.6M790.4,-162.6L798.5,-137.5M798.5,-137.5L801.7,-127.6M806.1,-114.2L812.3,-95.1M816.0,-83.8L833.2,-30.6M842.3,-2.9L847.8,14.3M855.8,38.9L871.9,88.5M878.3,108.1L894.6,158.2M894.6,158.2L901.2,178.5M910.9,208.4L920.1,236.7M920.1,236.7L933.4,277.8M933.4,277.8L945.1,313.6M945.1,313.6L953.6,339.8M953.6,339.8L961.7,364.6M966.9,380.8L974.7,404.9M978.5,416.4L990.0,451.8M774.2,-155.3L791.7,-101.3M797.3,-84.2L813.9,-33.1M813.9,-33.1L821.9,-8.4M830.3,17.4L846.4,67.0M846.4,67.0L861.6,113.8M869.7,138.7L876.9,160.8M882.3,177.6L891.4,205.4M901.6,236.8L907.3,254.4M911.4,266.9L929.5,322.6M931.3,328.2L947.3,377.5M947.3,377.5L963.1,426.0M972.5,455.0L980.3,479.0M756.1,-152.6L772.8,-101.2M777.5,-86.9L780.8,-76.7M783.8,-67.4L798.0,-23.8M801.3,-13.5L807.3,4.8M818.1,38.1L830.6,76.5M839.4,103.7L850.8,138.7M857.9,160.6L871.1,201.1M871.1,201.1L881.9,234.6M881.9,234.6L892.3,266.4M892.3,266.4L901.4,294.3M908.3,315.8L922.5,359.3M934.0,394.8L944.7,427.7M944.7,427.7L958.4,470.0M743.4,-139.4L752.8,-110.6M752.8,-110.6L767.5,-65.2M767.5,-65.2L772.6,-49.5M775.0,-42.0L779.4,-28.5M780.8,-24.4L787.7,-3.1M796.6,24.2L809.2,63.0M809.2,63.0L827.1,118.2M827.1,118.2L844.9,172.9M848.6,184.5L866.0,238.0M869.6,248.9L884.3,294.4M891.6,316.8L899.6,341.3M901.8,348.1L914.3,386.5M914.3,386.5L932.6,442.9M932.6,442.9L950.1,496.8M727.4,-126.9L740.8,-85.6M744.6,-73.9L755.1,-41.5M755.1,-41.5L771.0,7.3M771.0,7.3L779.3,33.0M790.2,66.3L808.5,122.9M811.9,133.3L824.7,172.5M829.9,188.7L836.6,209.2M844.6,234.0L849.7,249.5M861.5,285.9L876.1,330.9M882.0,349.0L886.7,363.4M886.7,363.4L899.5,402.9M906.9,425.5L919.2,463.3M713.2,-132.6L731.7,-75.7M738.6,-54.6L748.7,-23.3M754.4,-5.8L760.7,13.5M766.0,29.9L774.5,56.0M774.5,56.0L782.2,79.6M790.7,106.0L800.0,134.4M808.4,160.3L812.6,173.3M812.6,173.3L817.3,187.7M827.5,219.2L845.9,275.8M845.9,275.8L851.6,293.4M856.0,306.9L872.1,356.4M875.5,366.9L888.5,406.8M888.5,406.8L900.7,444.4M912.6,481.0L922.8,512.3M702.5,-124.5L711.2,-97.9M711.2,-97.9L725.9,-52.6M732.9,-30.8L747.3,13.2M755.9,39.7L768.5,78.5M768.5,78.5L777.1,104.9M778.6,109.6L795.4,161.4M795.4,161.4L804.5,189.5M804.5,189.5L821.6,241.9M832.1,274.4L841.7,303.9M845.8,316.6L855.3,345.8M857.1,351.3L862.0,366.4M865.0,375.6L870.0,390.9M870.0,390.9L878.9,418.5M886.8,442.9L904.4,496.7M690.6,-101.9L708.1,-48.1M713.4,-31.7L719.4,-13.2M719.4,-13.2L734.3,32.7M744.3,63.6L751.5,85.5M762.8,120.3L767.5,135.0M767.5,135.0L773.5,153.3M773.5,153.3L789.6,202.7M789.6,202.7L799.4,233.0M806.1,253.7L814.8,280.3M816.9,286.8L834.2,340.0M841.7,363.1L857.8,412.6M857.8,412.6L869.3,448.3M880.0,481.1L888.8,508.3M681.3,-103.7L692.5,-69.1M692.5,-69.1L710.9,-12.4M716.7,5.3L732.1,52.8M732.1,52.8L743.3,87.3M743.3,87.3L756.9,129.0M756.9,129.0L770.0,169.4M774.4,183.0L778.8,196.5M780.5,201.7L798.7,257.6M806.6,282.1L811.8,298.0M811.8,298.0L823.1,332.8M833.5,364.9L849.9,415.3M849.9,415.3L856.4,435.4M865.0,461.9L872.5,484.8M665.4,-97.3L680.1,-52.1M689.8,-22.5L699.6,7.7M701.0,12.2L713.7,51.3M716.0,58.3L726.7,91.1M731.5,106.1L743.4,142.5M750.5,164.5L768.8,220.9M768.8,220.9L776.6,244.6M776.6,244.6L784.5,269.1M784.5,269.1L788.5,281.4M800.1,317.1L813.4,358.0M813.4,358.0L819.7,377.3M831.6,413.9L835.7,426.6M841.7,445.1L857.5,493.6M857.5,493.6L876.0,550.6M653.9,-89.9L661.9,-65.4M673.8,-28.7L690.5,22.7M690.5,22.7L701.0,55.0M704.7,66.4L708.8,79.1M715.4,99.3L732.3,151.4M732.3,151.4L743.4,185.4M743.4,185.4L753.7,217.1M753.7,217.1L767.7,260.2M767.7,260.2L783.9,310.0M783.9,310.0L796.1,347.6M802.5,367.5L812.6,398.3M816.0,409.0L825.5,438.1M833.7,463.3L841.8,488.4M841.8,488.4L855.5,530.4M633.1,-113.0L651.0,-57.8M651.0,-57.8L664.2,-17.3M664.2,-17.3L669.5,-1.0M672.6,8.6L680.7,33.5M683.8,43.1L690.5,63.7M690.5,63.7L701.1,96.3M701.1,96.3L706.6,113.4M718.3,149.3L730.8,187.8M730.8,187.8L742.5,223.7M754.6,261.0L765.3,294.1M765.3,294.1L770.7,310.5M778.0,333.1L784.9,354.4M784.9,354.4L792.1,376.3M795.1,385.7L802.4,408.2M802.4,408.2L819.1,459.4M819.1,459.4L828.7,489.2M624.0,-110.1L633.8,-79.9M633.8,-79.9L639.7,-61.7M651.1,-26.8L654.3,-16.9M654.3,-16.9L659.5,-0.7M663.1,10.2L673.0,40.6M673.0,40.6L689.0,90.0M691.2,96.8L697.0,114.7M707.1,145.7L724.4,198.7M729.3,214.0L747.2,269.1M749.4,275.7L756.6,297.8M756.6,297.8L763.7,319.9M763.7,319.9L768.6,335.0M768.6,335.0L774.3,352.6M783.8,381.8L800.5,433.1M812.7,470.6L822.1,499.4M822.1,499.4L839.3,552.4M616.1,-104.5L629.9,-61.9M629.9,-61.9L637.0,-40.1M637.0,-40.1L647.5,-7.9M649.6,-1.2L652.8,8.6M664.5,44.4L678.0,86.2M678.0,86.2L695.3,139.3M704.3,166.9L717.5,207.5M717.5,207.5L722.0,221.5M722.0,221.5L727.5,238.4M736.4,265.8L751.0,310.7M751.0,310.7L758.9,335.1M768.2,363.8L772.1,375.5M772.1,375.5L780.0,400.0M784.7,414.5L798.9,458.0M801.6,466.4L805.7,479.1M813.9,504.2L832.2,560.8M604.9,-99.3L613.3,-73.4M619.2,-55.1L626.4,-32.9M629.2,-24.5L646.6,29.1M646.6,29.1L664.9,85.4M664.9,85.4L679.4,130.0M681.8,137.5L700.1,193.8M700.1,193.8L714.4,237.7M724.4,268.6L735.8,303.6M739.4,314.6L757.4,370.1M757.4,370.1L761.9,384.0M771.5,413.5L780.0,439.7M782.8,448.2L788.6,466.2M794.6,484.6L800.6,503.0M592.9,-105.8L603.3,-73.8M612.7,-44.9L627.7,1.2M627.7,1.2L645.5,55.9M651.4,74.2L660.9,103.4M671.7,136.6L675.4,148.1M675.4,148.1L688.9,189.7M688.9,189.7L693.0,202.1M693.0,202.1L710.9,257.4M710.9,257.4L723.0,294.5M723.0,294.5L733.5,327.0M733.5,327.0L745.6,364.0M751.3,381.6L764.1,421.0M775.8,457.0L790.8,503.3M587.8,-86.5L599.0,-52.0M599.0,-52.0L603.3,-39.0M606.5,-29.0L619.2,10.0M626.7,33.0L643.4,84.4M647.1,95.9L659.4,133.8M665.5,152.5L671.3,170.5M671.3,170.5L679.8,196.4M679.8,196.4L690.5,229.5M690.5,229.5L707.9,283.0M707.9,283.0L711.3,293.5M711.3,293.5L716.0,308.0M716.0,308.0L731.3,355.0M740.5,383.3L752.3,419.6M760.5,444.8L770.6,476.1M770.6,476.1L784.5,518.6M576.9,-66.8L588.3,-31.8M591.2,-23.0L597.3,-4.2M597.3,-4.2L601.3,8.3M601.3,8.3L606.3,23.7M614.5,48.8L618.0,59.7M628.1,90.8L637.2,118.6M639.1,124.5L656.8,179.1M665.5,205.8L678.4,245.6M685.9,268.5L699.6,310.7M703.5,322.8L720.9,376.3M727.6,396.8L737.7,428.0M737.7,428.0L754.0,478.2M754.0,478.2L766.8,517.5M769.0,524.5L781.0,561.3M555.8,-91.2L564.8,-63.5M564.8,-63.5L575.6,-30.4M575.6,-30.4L579.6,-18.2M583.8,-5.3L594.3,27.3M606.1,63.4L614.3,88.7M618.2,100.7L629.0,134.1M629.0,134.1L644.7,182.3M656.8,219.4L673.1,269.6M681.5,295.5L689.3,319.6M690.7,323.8L708.6,379.0M708.6,379.0L718.6,409.7M718.6,409.7L729.1,441.9M729.1,441.9L733.7,456.1M733.7,456.1L739.5,474.0M747.6,499.1L763.8,548.9M554.8,-61.7L563.6,-34.4M573.8,-3.2L592.0,52.8M598.3,72.1L606.2,96.6M606.2,96.6L615.4,125.0M615.4,125.0L630.8,172.3M640.5,202.2L654.1,244.0M658.6,258.0L663.8,273.9M663.8,273.9L673.0,302.3M682.2,330.6L700.6,387.0M709.5,414.5L716.1,434.9M716.1,434.9L730.7,479.9M730.7,479.9L742.8,517.1M543.0,-67.8L560.9,-12.7M567.5,7.6L581.0,49.2M581.0,49.2L589.1,74.1M600.3,108.6L614.4,152.2M623.2,179.2L639.5,229.3M639.5,229.3L656.4,281.3M660.9,295.0L677.3,345.7M680.0,353.8L685.4,370.4M685.4,370.4L701.2,419.0M710.7,448.2L716.8,467.1M716.8,467.1L720.0,477.2M729.6,506.7L740.5,540.2M532.5,-69.6L547.7,-22.8M557.2,6.5L569.6,44.5M569.6,44.5L584.1,89.1M594.4,121.0L610.1,169.3M619.4,197.7L628.9,226.9M633.7,241.9L643.9,273.3M655.1,307.8L667.7,346.4M667.7,346.4L678.8,380.8M682.0,390.6L695.1,430.8M700.2,446.4L711.2,480.3M719.6,506.3L734.8,553.1M515.9,-57.3L523.9,-32.7M531.5,-9.2L538.0,10.7M538.0,10.7L552.1,54.3M557.9,72.0L562.3,85.7M569.8,108.6L586.5,160.1M598.4,196.8L605.5,218.5M616.1,251.1L625.0,278.5M631.2,297.5L643.7,336.1M646.1,343.6L658.4,381.5M658.4,381.5L670.2,417.7M681.0,450.9L690.7,480.9M701.8,515.0L707.0,530.9M496.1,-67.5L502.9,-46.5M510.3,-23.6L518.1,0.2M518.1,0.2L534.6,51.1M534.6,51.1L544.0,80.0M544.0,80.0L556.0,116.8M556.0,116.8L573.8,171.7M583.5,201.6L600.6,254.0M605.6,269.6L609.2,280.6M609.2,280.6L615.5,299.9M617.7,306.8L628.7,340.8M628.7,340.8L645.8,393.4M645.8,393.4L650.5,407.7M650.5,407.7L667.0,458.6M667.0,458.6L684.0,511.0M684.0,511.0L697.7,553.0M497.7,-35.9L500.8,-26.1M508.4,-2.8L519.4,31.0M526.3,52.2L534.2,76.7M534.2,76.7L537.8,87.6M546.3,113.7L556.4,145.0M562.8,164.5L580.2,218.1M589.6,246.9L598.6,274.7M598.6,274.7L609.8,309.1M609.8,309.1L622.5,348.4M622.5,348.4L631.7,376.6M631.7,376.6L650.0,433.1M650.0,433.1L667.2,485.8M672.2,501.2L689.0,553.1M689.0,553.1L701.3,590.7M472.2,-66.7L483.4,-32.2M491.4,-7.6L496.9,9.4M506.7,39.6L518.8,76.7M530.9,114.2L534.4,124.7M543.5,153.0L555.6,190.1M555.6,190.1L572.7,242.6M579.6,263.8L586.5,285.2M592.9,305.0L605.7,344.4M605.7,344.4L616.6,377.8M624.0,400.6L629.7,418.1M629.7,418.1L638.8,446.2M649.4,478.7L665.4,527.9M665.4,527.9L679.4,571.1M462.6,-40.0L465.9,-30.0M474.6,-3.3L483.2,23.3M483.2,23.3L497.7,68.1M497.7,68.1L505.3,91.5M505.3,91.5L517.1,127.7M521.6,141.7L526.1,155.4M526.1,155.4L533.5,178.0M537.5,190.5L549.2,226.5M560.1,259.9L564.4,273.2M574.9,305.6L590.3,352.9M596.5,372.0L614.9,428.7M614.9,428.7L622.9,453.4M622.9,453.4L631.1,478.6M642.3,513.1L647.4,528.6M647.4,528.6L657.4,559.6M657.4,559.6L667.9,591.8M441.0,-51.8L444.4,-41.1M452.4,-16.6L457.2,-1.8M462.7,15.0L466.6,27.1M474.8,52.5L481.4,72.8M481.4,72.8L488.6,94.7M494.3,112.3L510.5,162.2M520.8,193.8L525.3,207.8M525.3,207.8L537.0,243.8M537.0,243.8L548.0,277.7M548.0,277.7L561.7,319.9M565.1,330.4L582.3,383.1M586.2,395.2L590.1,407.2M590.1,407.2L605.4,454.2M616.2,487.5L621.0,502.5M628.0,523.9L635.0,545.4M641.7,566.0L656.9,612.8M423.3,-42.2L428.0,-27.8M428.0,-27.8L445.4,25.8M452.6,47.7L469.1,98.7M474.2,114.2L477.3,123.9M485.3,148.5L496.1,181.6M496.1,181.6L506.0,212.3M511.7,229.6L516.9,245.8M525.8,273.3L531.8,291.5M544.1,329.5L558.0,372.1M566.4,398.0L571.2,412.8M581.4,444.3L595.4,487.4M595.4,487.4L607.2,523.6M617.7,556.1L628.8,590.1M408.2,-34.4L423.9,13.9M432.0,38.8L448.1,88.4M448.1,88.4L460.8,127.5M463.8,136.8L479.7,185.8M482.6,194.6L494.6,231.6M504.1,260.7L510.0,278.8M521.8,315.3L527.6,333.0M533.2,350.3L538.3,366.0M543.0,380.6L554.6,416.2M562.9,441.7L571.8,469.0M582.5,502.0L597.0,546.7M601.2,559.4L612.1,593.2M396.0,-16.6L399.1,-7.0M411.4,30.9L422.9,66.4M425.4,74.1L440.7,121.0M440.7,121.0L448.6,145.3M450.6,151.6L458.4,175.6M464.7,194.7L467.9,204.7M471.7,216.5L487.7,265.6M487.7,265.6L504.1,316.1M509.3,332.3L526.3,384.4M526.3,384.4L539.3,424.6M539.3,424.6L556.9,478.7M561.0,491.2L575.4,535.7M575.4,535.7L582.0,555.9M591.7,585.8L607.2,633.4M379.0,-33.6L382.8,-21.8M389.1,-2.5L395.1,15.9M395.1,15.9L401.0,34.2M401.0,34.2L419.5,91.2M421.0,95.8L425.2,108.6M430.4,124.6L445.5,171.1M449.6,183.7L455.2,200.9M455.2,200.9L470.1,246.8M470.1,246.8L476.6,266.8M486.2,296.5L499.3,336.7M504.4,352.5L520.1,400.6M528.5,426.6L542.5,469.7M549.9,492.4L567.3,545.9M576.9,575.4L591.1,619.3M377.6,-9.3L386.5,18.0M397.8,52.9L405.0,75.1M409.7,89.4L414.5,104.2M422.6,129.0L435.5,168.9M435.5,168.9L441.0,185.7M451.4,217.9L462.6,252.4M462.6,252.4L472.9,283.8M474.5,288.8L490.6,338.3M490.6,338.3L504.7,381.8M512.9,407.2L526.5,449.0M532.0,465.7L548.8,517.5M556.8,542.2L560.6,554.0M562.4,559.3L570.2,583.3M570.2,583.3L582.2,620.3M356.7,-26.2L360.8,-13.5M364.9,-0.9L380.1,45.8M388.4,71.5L395.8,94.3M398.3,102.0L405.9,125.2M405.9,125.2L419.3,166.5M427.5,191.9L444.7,244.7M444.7,244.7L455.9,279.2M457.7,284.8L461.9,297.6M461.9,297.6L477.1,344.3M477.1,344.3L491.3,388.2M499.0,411.8L502.2,421.8M510.4,446.8L513.6,456.6M518.7,472.5L535.3,523.4M538.8,534.2L552.4,576.1M349.2,12.5L361.8,51.4M365.3,62.1L379.4,105.6M388.5,133.5L394.8,153.0M405.6,186.0L413.1,209.2M413.1,209.2L418.4,225.5M418.4,225.5L422.2,237.0M424.2,243.3L430.3,262.2M440.6,293.8L456.3,342.0M456.3,342.0L463.2,363.2M463.2,363.2L472.8,393.0M472.8,393.0L487.1,436.9M491.4,450.3L501.3,480.5M510.6,509.3L527.1,560.0M527.1,560.0L530.9,571.8M530.9,571.8L545.9,617.8M338.7,13.4L347.9,41.8M351.4,52.5L358.4,74.0M365.9,97.1L372.9,118.7M378.9,137.1L385.4,157.1M385.4,157.1L393.4,181.8M397.3,193.8L406.9,223.4M406.9,223.4L411.1,236.1M411.1,236.1L415.4,249.4M415.4,249.4L418.9,260.3M423.9,275.6L437.4,317.1M440.9,328.0L456.8,376.7M456.8,376.7L460.7,388.9M465.7,404.3L474.4,431.0M474.4,431.0L492.1,485.3M492.1,485.3L500.3,510.6M502.2,516.6L506.4,529.4M506.4,529.4L522.8,580.0M526.5,591.4L542.9,641.9M309.7,-15.4L318.3,10.9M324.5,30.1L342.0,84.0M342.0,84.0L356.8,129.4M356.8,129.4L365.7,156.8M365.7,156.8L380.1,201.0M380.1,201.0L388.8,227.9M388.8,227.9L394.8,246.4M406.6,282.7L421.2,327.6M421.2,327.6L427.0,345.6M434.5,368.7L450.1,416.5M457.3,438.7L471.9,483.7M471.9,483.7L478.9,505.4M484.2,521.5L490.3,540.2M497.4,562.0L501.2,573.8M501.2,573.8L518.4,626.8M291.3,-9.1L296.8,8.0M307.5,40.7L311.4,53.0M321.1,82.7L333.9,122.0M342.4,148.1L356.4,191.4M360.7,204.5L373.5,244.0M373.5,244.0L378.1,258.2M378.1,258.2L387.7,287.6M392.6,302.6L396.7,315.4M396.7,315.4L408.5,351.6M419.4,385.1L435.2,434.0M436.9,438.9L449.0,476.4M457.0,500.9L461.6,515.2M461.6,515.2L477.9,565.2M488.2,597.0L492.8,611.0M285.4,8.0L294.2,35.1M294.2,35.1L309.3,81.5M309.3,81.5L316.1,102.3M326.6,134.6L335.9,163.3M342.7,184.3L349.5,205.2M349.5,205.2L358.8,233.9M368.4,263.4L385.3,315.3M388.9,326.4L399.7,359.7M411.6,396.4L421.5,426.7M424.9,437.4L431.4,457.2M439.4,481.8L456.1,533.2M463.4,555.8L481.3,610.8M271.4,24.6L280.9,53.9M280.9,53.9L287.8,75.1M291.7,87.0L299.9,112.3M299.9,112.3L306.9,133.9M309.4,141.4L324.8,188.9M336.6,225.3L344.9,250.7M348.1,260.7L362.8,306.0M373.5,338.7L391.2,393.3M393.5,400.2L409.7,450.2M409.7,450.2L421.6,487.0M431.6,517.6L440.2,544.1M452.1,580.7L462.4,612.4M250.5,21.3L265.1,66.1M265.1,66.1L276.1,100.2M287.8,136.2L293.0,152.0M293.0,152.0L299.2,171.2M309.1,201.8L313.4,215.0M313.4,215.0L327.6,258.6M327.6,258.6L343.8,308.4M349.5,326.0L354.1,340.1M354.1,340.1L369.2,386.6M373.6,400.3L391.6,455.7M394.8,465.4L401.4,485.8M401.4,485.8L417.0,533.9M425.8,561.0L438.2,599.0M438.2,599.0L443.8,616.2M443.8,616.2L448.5,630.6M235.7,36.6L252.0,86.8M252.0,86.8L265.4,128.1M265.4,128.1L283.5,183.8M283.5,183.8L288.9,200.3M295.1,219.5L306.6,255.0M317.8,289.3L330.8,329.3M330.8,329.3L349.1,385.9M353.6,399.5L371.9,455.8M377.3,472.7L383.1,490.4M383.1,490.4L393.3,521.7M393.3,521.7L411.3,577.2M411.3,577.2L419.2,601.4M419.2,601.4L437.6,658.2" stroke="#e1efe8" stroke-width="1.8" fill="none" clip-path="url(#cTNW)"/>
<path d="M232.3,458.9L271.3,438.2M271.3,438.2L288.3,429.1M296.6,424.8L315.3,414.8M315.3,414.8L329.9,407.0M340.2,401.5L362.1,389.9M392.2,373.9L427.9,354.9M440.2,348.4L455.5,340.2M455.5,340.2L500.1,316.5M500.1,316.5L545.4,292.4M545.4,292.4L596.1,265.5M596.1,265.5L616.3,254.7M616.3,254.7L646.6,238.6M646.6,238.6L680.4,220.7M695.5,212.6L723.3,197.9M730.5,194.0L775.6,170.1M775.6,170.1L827.9,142.2M240.1,468.3L254.9,460.5M254.9,460.5L283.3,445.4M293.3,440.1L325.2,423.1M343.3,413.4L378.9,394.5M386.6,390.5L417.1,374.2M428.1,368.4L445.5,359.1M451.4,356.0L489.0,336.0M489.0,336.0L515.0,322.2M515.0,322.2L565.0,295.6M573.1,291.3L617.5,267.7M617.5,267.7L654.5,248.0M671.2,239.1L718.4,214.1M718.4,214.1L762.6,190.5M793.3,174.2L818.7,160.7M251.9,471.4L287.4,452.5M287.4,452.5L305.5,442.9M305.5,442.9L340.0,424.6M355.0,416.6L395.9,394.8M408.8,388.0L424.9,379.4M424.9,379.4L438.7,372.1M444.4,369.0L481.7,349.2M502.5,338.2L513.0,332.6M527.5,324.9L540.4,318.0M575.6,299.3L589.8,291.7M601.9,285.3L637.1,266.6M655.6,256.8L680.6,243.5M680.6,243.5L689.7,238.6M709.0,228.4L760.6,200.9M779.2,191.0L817.6,170.6M255.1,482.7L296.6,460.7M321.8,447.2L368.2,422.6M390.4,410.8L414.9,397.8M427.6,391.0L445.4,381.6M450.1,379.0L476.5,365.0M504.2,350.3L539.5,331.5M567.6,316.6L584.8,307.4M606.0,296.2L629.5,283.7M646.9,274.4L661.7,266.5M661.7,266.5L675.5,259.2M675.5,259.2L694.0,249.4M709.9,240.9L720.2,235.5M735.2,227.5L763.5,212.4M763.5,212.4L816.0,184.5M255.2,491.9L278.3,479.7M278.3,479.7L311.2,462.2M314.9,460.2L334.7,449.7M334.7,449.7L350.1,441.5M365.4,433.3L389.5,420.5M389.5,420.5L407.8,410.8M407.8,410.8L446.0,390.5M446.0,390.5L477.8,373.6M477.8,373.6L506.1,358.5M529.3,346.2L575.2,321.8M575.2,321.8L589.2,314.4M609.7,303.5L654.4,279.7M667.4,272.8L718.7,245.5M725.0,242.1L736.1,236.2M762.8,222.0L776.3,214.8M776.3,214.8L823.4,189.8M248.5,511.7L284.8,492.4M284.8,492.4L325.2,470.9M353.0,456.1L366.7,448.8M401.8,430.1L431.5,414.4M460.0,399.2L488.7,384.0M493.1,381.6L513.4,370.8M546.7,353.1L566.5,342.6M566.5,342.6L613.0,317.9M648.1,299.2L690.5,276.6M702.4,270.3L731.6,254.8M731.6,254.8L764.1,237.5M779.6,229.3L809.4,213.4M266.0,510.7L282.7,501.8M304.9,489.9L327.3,478.0M327.3,478.0L358.1,461.7M388.1,445.7L406.4,436.0M406.4,436.0L443.9,416.0M477.9,397.9L487.7,392.7M487.7,392.7L502.9,384.7M502.9,384.7L518.5,376.4M538.0,366.0L587.7,339.6M606.7,329.5L642.3,310.5M662.7,299.7L672.0,294.8M699.7,280.1L723.5,267.4M728.6,264.6L768.4,243.5M801.0,226.2L842.5,204.1M273.0,524.3L318.6,500.1M318.6,500.1L359.2,478.5M359.2,478.5L394.1,459.9M401.9,455.8L442.8,434.1M448.1,431.2L485.3,411.5M485.3,411.5L516.7,394.8M516.7,394.8L564.2,369.5M593.6,353.9L624.5,337.4M641.2,328.6L691.2,302.0M725.0,284.0L748.8,271.4M748.8,271.4L797.9,245.2M797.9,245.2L823.3,231.7M278.0,533.9L321.4,510.7M321.4,510.7L350.0,495.5M371.5,484.1L413.4,461.8M423.8,456.3L439.1,448.2M452.1,441.3L503.7,413.8M536.9,396.2L558.7,384.6M593.2,366.2L606.0,359.4M613.6,355.4L625.4,349.1M635.7,343.6L651.5,335.2M677.3,321.5L688.3,315.7M709.8,304.3L757.6,278.8M757.6,278.8L797.7,257.5M797.7,257.5L841.7,234.1M255.1,555.5L291.3,536.3M311.4,525.6L354.7,502.5M380.7,488.7L408.4,474.0M419.7,468.0L440.9,456.7M462.1,445.5L510.9,419.5M537.2,405.5L550.3,398.5M550.3,398.5L566.3,390.1M566.3,390.1L617.7,362.7M646.9,347.2L665.4,337.3M672.3,333.7L700.6,318.7M726.5,304.9L760.7,286.7M786.8,272.8L806.0,262.6M821.1,254.6L830.0,249.9M830.0,249.9L842.7,243.1M275.7,560.8L303.1,546.2M306.7,544.3L338.5,527.4M346.8,523.0L395.7,497.1M410.7,489.1L452.7,466.7M452.7,466.7L466.3,459.5M466.3,459.5L500.0,441.6M500.0,441.6L550.4,414.8M550.4,414.8L585.7,396.0M585.7,396.0L616.3,379.7M645.8,364.1L682.0,344.8M686.1,342.6L729.8,319.4M747.0,310.2L768.5,298.8M784.8,290.1L830.5,265.9M282.0,573.4L314.6,556.1M314.6,556.1L355.3,534.4M355.3,534.4L403.4,508.8M424.6,497.6L441.8,488.4M459.1,479.2L490.0,462.8M490.0,462.8L500.7,457.1M527.7,442.7L556.8,427.3M556.8,427.3L572.7,418.8M572.7,418.8L600.6,404.0M605.9,401.2L632.5,387.0M632.5,387.0L673.8,365.1M690.8,356.0L701.3,350.4M701.3,350.4L729.9,335.3M729.9,335.3L765.7,316.2M797.1,299.5L811.7,291.7M811.7,291.7L824.3,285.0M824.3,285.0L859.1,266.6M289.9,582.3L301.4,576.2M301.4,576.2L338.4,556.5M345.6,552.7L372.9,538.2M372.9,538.2L420.2,513.1M424.9,510.6L470.3,486.4M497.1,472.2L527.9,455.8M527.9,455.8L543.3,447.6M543.3,447.6L583.9,426.0M605.4,414.6L627.3,403.0M627.3,403.0L678.5,375.7M678.5,375.7L709.2,359.4M709.2,359.4L729.0,348.9M736.2,345.0L776.8,323.4M797.1,312.6L813.9,303.7M819.2,300.9L829.3,295.6M829.3,295.6L869.9,274.0M313.3,584.8L328.4,576.7M328.4,576.7L365.3,557.1M373.3,552.8L392.7,542.5M421.3,527.3L461.5,505.9M467.5,502.7L508.2,481.1M517.1,476.4L553.2,457.2M566.6,450.1L595.3,434.8M595.3,434.8L608.9,427.6M619.9,421.7L658.3,401.3M658.3,401.3L678.8,390.4M678.8,390.4L708.1,374.8M720.4,368.3L753.0,350.9M753.0,350.9L788.4,332.1M816.8,317.0L851.2,298.7M307.7,600.1L328.5,589.1M359.9,572.4L388.3,557.3M420.1,540.3L433.8,533.1M457.0,520.7L495.2,500.5M495.2,500.5L511.8,491.6M543.2,474.9L572.7,459.2M572.7,459.2L602.1,443.6M602.1,443.6L653.3,416.4M680.2,402.1L704.3,389.3M704.3,389.3L746.8,366.6M746.8,366.6L794.2,341.4M828.0,323.5L843.7,315.1M849.6,312.0L884.1,293.6M316.4,606.3L343.7,591.8M353.3,586.7L387.7,568.4M392.7,565.8L415.0,553.9M415.0,553.9L444.7,538.1M444.7,538.1L472.4,523.4M495.4,511.2L513.5,501.6M536.6,489.2L575.3,468.7M608.9,450.8L618.6,445.6M632.6,438.2L676.6,414.8M676.6,414.8L718.3,392.7M750.8,375.4L765.5,367.5M765.5,367.5L776.6,361.7M804.0,347.1L846.8,324.3M846.8,324.3L866.6,313.8M866.6,313.8L898.2,297.0M297.2,634.6L315.7,624.7M347.6,607.7L393.1,583.6M393.1,583.6L429.8,564.0M456.8,549.7L474.0,540.5M474.0,540.5L525.7,513.1M552.5,498.8L572.0,488.5M603.3,471.8L631.7,456.7M653.0,445.4L664.7,439.2M688.9,426.3L735.9,401.3M767.8,384.3L781.3,377.2M795.4,369.6L811.7,361.0M836.1,348.0L862.5,334.0M323.1,630.0L374.5,602.7M391.4,593.7L417.8,579.6M434.5,570.7L451.2,561.9M476.7,548.3L506.7,532.4M514.8,528.0L560.8,503.6M590.7,487.7L626.8,468.5M626.8,468.5L651.3,455.5M668.0,446.6L699.7,429.8M699.7,429.8L713.2,422.5M745.5,405.4L795.2,378.9M795.2,378.9L842.1,354.0M868.4,340.0L882.8,332.4M321.2,642.9L353.0,626.0M374.6,614.6L421.5,589.6M438.9,580.3L464.0,567.0M476.5,560.4L522.4,536.0M522.4,536.0L547.7,522.5M562.0,514.9L608.9,490.0M618.3,485.0L641.0,472.9M649.2,468.5L668.3,458.4M668.3,458.4L718.1,431.9M731.0,425.1L765.7,406.6M772.1,403.2L806.2,385.1M820.9,377.2L848.1,362.8M859.9,356.5L876.5,347.7M882.3,344.6L927.1,320.8M315.2,655.8L357.5,633.3M357.5,633.3L409.0,606.0M429.7,594.9L457.6,580.1M474.6,571.1L510.4,552.0M538.9,536.9L567.4,521.7M599.4,504.7L633.4,486.6M665.7,469.5L695.7,453.5M695.7,453.5L725.2,437.8M725.2,437.8L766.3,415.9M781.5,407.9L824.4,385.1M824.4,385.1L859.8,366.2M859.8,366.2L891.9,349.2M317.8,665.1L367.4,638.7M373.6,635.5L391.6,625.9M420.8,610.4L467.4,585.6M467.4,585.6L489.1,574.0M522.8,556.1L548.7,542.3M548.7,542.3L559.8,536.4M579.4,526.0L628.4,500.0M628.4,500.0L670.4,477.6M701.7,461.0L750.9,434.8M768.0,425.7L801.1,408.1M812.3,402.2L855.8,379.1M876.9,367.8L886.6,362.7M319.5,672.2L368.1,646.3M368.1,646.3L399.3,629.8M412.3,622.8L453.5,600.9M471.2,591.5L510.5,570.6M526.4,562.1L574.0,536.8M574.0,536.8L604.3,520.7M604.3,520.7L652.2,495.3M660.3,491.0L673.7,483.8M673.7,483.8L697.6,471.1M702.5,468.5L753.1,441.6M776.8,429.0L813.1,409.7M823.3,404.3L857.0,386.4M862.9,383.2L879.5,374.4M352.3,664.7L388.5,645.5M388.5,645.5L418.0,629.8M424.2,626.5L460.5,607.2M460.5,607.2L499.3,586.6M499.3,586.6L512.5,579.6M512.5,579.6L552.4,558.3M552.4,558.3L572.3,547.8M572.3,547.8L582.2,542.5M596.2,535.0L627.9,518.2M643.7,509.8L667.9,496.9M684.3,488.2L702.8,478.4M721.2,468.6L773.8,440.6M773.8,440.6L789.2,432.4M789.2,432.4L804.5,424.3M839.7,405.6L863.5,392.9M884.9,381.6L919.6,363.1M338.2,685.4L356.2,675.8M383.4,661.4L414.4,644.8M425.9,638.7L472.1,614.2M472.1,614.2L506.8,595.8M506.8,595.8L529.9,583.4M535.3,580.6L571.3,561.4M571.3,561.4L610.6,540.5M610.6,540.5L657.4,515.7M674.6,506.5L694.9,495.7M694.9,495.7L734.2,474.8M762.5,459.8L811.6,433.7M822.1,428.1L851.6,412.4M851.6,412.4L871.1,402.0M895.7,388.9L917.5,377.3M343.4,691.2L380.4,671.5M380.4,671.5L411.8,654.8M411.8,654.8L450.0,634.5M450.0,634.5L478.7,619.2M486.3,615.2L534.3,589.7M534.3,589.7L571.9,569.7M571.9,569.7L594.6,557.6M615.0,546.7L644.5,531.1M644.5,531.1L691.9,505.9M707.3,497.7L747.2,476.4M747.2,476.4L781.1,458.4M812.9,441.5L862.4,415.2M896.9,396.9L909.9,389.9M344.5,708.5L355.3,702.7M355.3,702.7L384.3,687.3M401.4,678.2L422.5,667.0M443.7,655.7L462.0,646.0M497.2,627.3L549.5,599.5M563.6,592.0L577.9,584.4M577.9,584.4L594.6,575.5M627.2,558.2L660.7,540.3M660.7,540.3L679.0,530.6M700.9,519.0L740.3,498.0M759.8,487.7L793.4,469.8M806.9,462.6L835.5,447.4M842.1,443.9L853.6,437.8M853.6,437.8L873.4,427.3M873.4,427.3L887.3,419.9M887.3,419.9L897.4,414.5M897.4,414.5L929.7,397.3M343.7,725.9L354.8,720.0M359.7,717.4L406.8,692.4M431.8,679.1L482.4,652.2M482.4,652.2L535.1,624.1M535.1,624.1L561.1,610.3M561.1,610.3L579.5,600.5M596.2,591.6L629.1,574.1M663.2,556.0L715.8,528.1M715.8,528.1L746.5,511.7M746.5,511.7L797.2,484.8M828.8,467.9L842.5,460.7M854.0,454.6L879.2,441.2M913.1,423.2L928.5,415.0M353.2,733.9L406.0,705.9M406.0,705.9L430.1,693.0M430.1,693.0L458.8,677.8M458.8,677.8L508.6,651.3M508.6,651.3L533.4,638.1M551.7,628.4L586.1,610.1M608.0,598.5L617.5,593.4M636.3,583.4L666.4,567.4M666.4,567.4L685.5,557.2M712.3,543.0L733.7,531.6M757.0,519.2L781.3,506.3M815.6,488.0L867.3,460.6M867.3,460.6L919.1,433.0M919.1,433.0L943.8,419.9M359.9,739.5L391.1,723.0M413.8,710.9L446.7,693.4M473.9,679.0L486.4,672.3M498.6,665.8L548.9,639.1M564.5,630.8L604.8,609.3M634.6,593.5L648.5,586.1M652.4,584.0L685.8,566.3M706.4,555.4L736.0,539.6M736.0,539.6L754.4,529.8M765.8,523.7L811.4,499.5M811.4,499.5L825.3,492.1M860.2,473.5L911.8,446.1M932.3,435.2L943.2,429.4M364.2,752.2L398.0,734.2M416.8,724.2L467.6,697.2M502.1,678.8L542.7,657.2M554.3,651.1L599.2,627.2M599.2,627.2L614.4,619.1M614.4,619.1L636.4,607.4M668.3,590.5L717.6,564.2M725.7,559.9L746.3,549.0M746.3,549.0L797.7,521.6M797.7,521.6L840.2,499.0M840.2,499.0L870.0,483.2M898.9,467.8L935.2,448.6M935.2,448.6L988.0,420.5M383.2,751.3L405.9,739.2M425.6,728.8L466.6,707.0M466.6,707.0L495.7,691.5M495.7,691.5L532.2,672.0M532.2,672.0L571.2,651.3M571.2,651.3L590.7,641.0M590.7,641.0L599.8,636.1M599.8,636.1L609.3,631.1M609.3,631.1L630.2,620.0M657.3,605.5L672.2,597.6M672.2,597.6L684.7,591.0M700.8,582.4L734.8,564.3M734.8,564.3L759.5,551.2M759.5,551.2L769.6,545.8M785.7,537.3L821.5,518.2M821.5,518.2L869.5,492.7M893.4,480.0L932.7,459.1M388.9,760.7L421.1,743.6M431.1,738.3L454.4,725.9M482.4,711.0L530.8,685.3M530.8,685.3L549.3,675.4M553.9,673.0L572.1,663.3M594.6,651.3L629.1,633.0M637.8,628.4L668.8,611.9M668.8,611.9L716.1,586.7M733.9,577.2L781.2,552.1M803.9,540.0L817.3,532.9M817.3,532.9L855.9,512.4M860.9,509.8L911.2,483.0M933.2,471.3L967.7,453.0M385.9,777.6L413.6,762.9M413.6,762.9L463.8,736.2M477.9,728.7L521.0,705.8M552.9,688.8L578.2,675.4M590.8,668.7L639.3,642.9M673.8,624.5L718.9,600.5M718.9,600.5L735.7,591.6M739.8,589.4L763.4,576.9M796.8,559.2L812.5,550.8M816.7,548.5L832.3,540.2M832.3,540.2L859.0,526.1M888.6,510.3L928.1,489.3M955.4,474.8L994.4,454.1M402.4,786.1L413.9,780.0M413.9,780.0L451.8,759.8M479.9,744.9L529.9,718.3M529.9,718.3L559.8,702.4M559.8,702.4L572.2,695.8M588.6,687.1L620.3,670.2M620.3,670.2L658.2,650.1M673.5,641.9L714.7,620.0M724.9,614.6L759.2,596.4M787.9,581.1L827.8,559.9M827.8,559.9L870.4,537.3M895.2,524.1L917.0,512.5M952.0,493.9L966.1,486.4M394.2,805.7L433.2,784.9M467.4,766.8L479.8,760.2M479.8,760.2L521.6,737.9M533.7,731.5L558.5,718.3M558.5,718.3L587.6,702.8M621.5,684.8L651.7,668.8M651.7,668.8L687.0,650.0M687.0,650.0L723.4,630.7M734.1,624.9L755.1,613.8M777.5,601.9L804.7,587.4M808.9,585.2L861.3,557.3M871.5,551.9L909.5,531.7M917.7,527.3L968.2,500.5M968.2,500.5L992.8,487.4M403.4,811.2L424.6,799.9M424.6,799.9L444.2,789.5M474.7,773.3L506.9,756.2M512.4,753.2L561.5,727.1M582.5,715.9L631.1,690.1M638.0,686.4L655.9,676.9M655.9,676.9L669.8,669.5M698.5,654.2L725.1,640.1M725.1,640.1L735.8,634.4M751.2,626.2L789.8,605.7M814.4,592.6L862.9,566.8M862.9,566.8L907.6,543.1M907.6,543.1L958.9,515.8M963.1,513.6L1007.5,490.0M413.2,823.5L427.9,815.7M427.9,815.7L436.9,810.9M462.7,797.2L479.1,788.5M479.1,788.5L488.1,783.7M504.2,775.2L540.7,755.7M540.7,755.7L579.5,735.1M610.1,718.8L621.3,712.9M626.5,710.2L669.3,687.4M686.8,678.1L736.9,651.4M761.2,638.5L800.8,617.4M828.9,602.5L852.7,589.8M852.7,589.8L894.8,567.5M910.9,558.9L937.9,544.6M959.4,533.1L1000.3,511.4M423.6,830.5L460.7,810.8M460.7,810.8L498.8,790.5M498.8,790.5L544.8,766.0M544.8,766.0L573.2,750.9M582.1,746.2L613.5,729.5M628.4,721.6L678.4,695.0M678.4,695.0L723.4,671.0M745.4,659.4L792.1,634.6M814.2,622.8L831.5,613.6M831.5,613.6L865.6,595.4M896.5,579.0L917.3,568.0M933.8,559.2L982.3,533.4M415.0,851.4L449.7,832.9M458.1,828.4L505.6,803.2M505.6,803.2L557.3,775.7M565.4,771.4L603.1,751.3M603.1,751.3L623.9,740.3M623.9,740.3L654.0,724.3M688.8,705.8L728.5,684.7M728.5,684.7L771.5,661.8M771.5,661.8L789.7,652.1M789.7,652.1L802.9,645.1M802.9,645.1L842.1,624.2M864.2,612.5L915.5,585.2M915.5,585.2L937.4,573.6M937.4,573.6L980.8,550.5M431.4,854.1L477.2,829.7M510.8,811.9L533.1,800.0M546.0,793.1L589.6,769.9M598.2,765.4L642.8,741.7M642.8,741.7L658.4,733.4M663.8,730.5L709.9,706.0M709.9,706.0L720.5,700.3M720.5,700.3L740.2,689.8M740.2,689.8L755.8,681.6M755.8,681.6L777.7,669.9M798.7,658.8L842.6,635.4M871.0,620.3L915.2,596.8M915.2,596.8L926.3,590.9M936.8,585.3L989.6,557.3M430.0,867.0L447.2,857.9M447.2,857.9L460.5,850.8M480.9,839.9L531.8,812.8M531.8,812.8L543.7,806.5M560.9,797.4L604.0,774.5M629.6,760.9L651.2,749.4M651.2,749.4L676.1,736.2M706.7,719.9L752.6,695.5M768.0,687.3L786.1,677.7M802.8,668.8L817.0,661.2M817.0,661.2L845.5,646.1M857.3,639.8L873.2,631.3M889.9,622.5L933.8,599.1M944.1,593.6L960.4,585.0M960.4,585.0L976.3,576.5M982.5,573.2L1015.3,555.8M455.5,865.1L475.0,854.7M503.1,839.7L550.3,814.7M550.3,814.7L589.2,794.0M606.2,784.9L656.0,758.5M672.6,749.6L711.8,728.8M744.1,711.6L767.6,699.1M767.6,699.1L809.4,676.9M842.0,659.6L881.7,638.5M881.7,638.5L913.7,621.5M913.7,621.5L946.1,604.2M946.1,604.2L990.3,580.7M447.6,878.9L471.6,866.1M484.2,859.4L506.4,847.6M506.4,847.6L532.9,833.5M541.2,829.1L557.1,820.7M557.1,820.7L583.9,806.4M616.3,789.1L629.1,782.4M659.4,766.2L698.6,745.4M698.6,745.4L714.2,737.1M744.8,720.8L796.4,693.4M796.4,693.4L848.0,666.0M872.7,652.8L922.7,626.2M945.7,614.0L968.4,601.9M999.9,585.2L1028.0,570.2M445.1,894.1L489.4,870.5M508.1,860.6L541.6,842.8M573.7,825.7L610.1,806.3M642.7,789.0L685.4,766.3M704.8,756.0L744.1,735.1M762.1,725.5L772.0,720.3M794.6,708.3L826.7,691.2M826.7,691.2L863.7,671.5M863.7,671.5L902.2,651.1M928.9,636.9L945.5,628.0M945.5,628.0L981.5,608.9M1006.5,595.6L1034.9,580.5M463.5,902.1L511.6,876.5M545.6,858.4L595.4,832.0M595.4,832.0L608.0,825.3M608.0,825.3L641.7,807.3M671.2,791.6L705.7,773.3M705.7,773.3L739.5,755.3M772.8,737.6L791.4,727.8M802.1,722.0L814.0,715.7M830.5,707.0L844.0,699.8M844.0,699.8L877.6,681.9M877.6,681.9L893.3,673.5M920.4,659.2L956.2,640.1M970.4,632.5L1019.2,606.6M471.5,912.6L511.6,891.3M529.7,881.7L553.8,868.8M572.6,858.9L609.7,839.1M642.0,821.9L664.2,810.2M664.2,810.2L709.2,786.2M709.2,786.2L725.0,777.8M725.0,777.8L741.9,768.8M764.3,756.9L786.1,745.3M794.5,740.9L838.9,717.3M852.6,710.0L905.2,682.0M931.0,668.3L967.7,648.8M991.1,636.3L1007.2,627.8M1007.2,627.8L1053.3,603.2M463.8,925.0L479.7,916.5M479.7,916.5L489.2,911.5M489.2,911.5L539.8,884.6M539.8,884.6L558.6,874.6M558.6,874.6L572.8,867.0M600.1,852.6L628.4,837.5M651.4,825.3L677.4,811.4M677.4,811.4L722.5,787.4M752.2,771.7L770.4,762.0M805.4,743.4L855.9,716.5M887.6,699.7L922.7,681.0M942.5,670.5L980.5,650.3M994.5,642.8L1037.0,620.3M460.7,935.3L512.6,907.8M544.1,891.0L585.6,868.9M597.7,862.5L623.6,848.7M633.1,843.7L685.6,815.7M715.8,799.7L759.8,776.3M787.1,761.8L831.7,738.0M846.5,730.2L872.6,716.3M893.9,705.0L922.9,689.6M922.9,689.6L974.9,661.9M1006.7,645.0L1026.0,634.8M1026.0,634.8L1036.8,629.0M1036.8,629.0L1071.5,610.5M483.4,934.2L512.5,918.8M529.8,909.5L568.0,889.2M568.0,889.2L615.4,864.0M615.4,864.0L644.9,848.3M644.9,848.3L664.2,838.1M693.8,822.3L717.0,810.0M722.2,807.3L732.4,801.8M732.4,801.8L743.6,795.8M743.6,795.8L772.1,780.7M787.5,772.5L829.4,750.2M829.4,750.2L867.1,730.2M879.2,723.8L912.5,706.0M932.2,695.6L983.9,668.1M1013.3,652.4L1043.2,636.6M491.9,940.1L532.7,918.4M541.9,913.5L589.2,888.4M589.2,888.4L618.1,873.0M628.3,867.6L662.0,849.7M667.3,846.8L704.8,826.9M704.8,826.9L717.0,820.4M717.0,820.4L727.4,814.9M735.2,810.7L764.6,795.1M783.5,785.0L802.0,775.2M828.1,761.3L853.1,748.1M879.1,734.2L919.3,712.9M919.3,712.9L972.0,684.8M994.4,672.9L1029.0,654.5M1046.9,645.0L1075.0,630.1M493.6,955.2L542.0,929.4M542.0,929.4L564.6,917.4M584.9,906.6L633.8,880.6M649.3,872.4L679.9,856.1M711.0,839.6L757.5,814.8M786.2,799.6L804.2,790.0M828.1,777.3L851.7,764.8M881.2,749.1L923.3,726.7M923.3,726.7L970.6,701.5M1001.1,685.3L1046.0,661.4M504.0,962.2L554.1,935.6M578.3,922.7L627.1,896.7M627.1,896.7L643.4,888.1M652.7,883.2L695.8,860.2M695.8,860.2L745.9,833.6M772.2,819.6L782.1,814.3M800.4,804.6L833.1,787.2M854.6,775.8L888.4,757.8M888.4,757.8L899.3,752.0M899.3,752.0L909.9,746.4M932.5,734.4L941.4,729.6M941.4,729.6L966.8,716.1M999.0,699.0L1036.7,678.9M1036.7,678.9L1054.8,669.3M496.6,976.3L521.3,963.2M525.4,961.0L556.6,944.4M567.8,938.4L614.5,913.6M614.5,913.6L633.6,903.5M633.6,903.5L677.7,880.0M683.8,876.8L696.0,870.3M696.0,870.3L736.7,848.6M760.4,836.0L812.2,808.5M816.9,806.0L834.8,796.5M857.7,784.3L878.6,773.2M878.6,773.2L889.7,767.3M889.7,767.3L904.2,759.6M931.9,744.9L941.3,739.8M963.9,727.8L1010.4,703.1M1018.4,698.9L1054.2,679.8M495.1,988.3L533.0,968.1M565.0,951.1L581.6,942.3M581.6,942.3L627.6,917.8M627.6,917.8L663.2,898.9M679.7,890.1L696.8,881.1M696.8,881.1L706.0,876.2M731.5,862.6L767.7,843.3M767.7,843.3L810.3,820.7M810.3,820.7L842.4,803.6M873.3,787.2L888.6,779.0M900.8,772.6L949.5,746.7M962.3,739.9L978.9,731.0M978.9,731.0L998.7,720.5M1024.7,706.7L1065.0,685.3M507.6,996.4L557.4,969.9M557.4,969.9L569.5,963.5M595.6,949.6L631.3,930.6M662.4,914.1L676.7,906.5M689.2,899.8L725.6,880.5M725.6,880.5L775.4,854.0M780.2,851.4L797.3,842.3M827.7,826.2L854.4,811.9M874.1,801.5L922.7,775.7M938.3,767.4L956.3,757.8M988.9,740.5L1002.2,733.4M1033.6,716.7L1083.1,690.4M514.0,1004.9L552.8,984.3M552.8,984.3L602.1,958.1M602.1,958.1L652.6,931.2M671.2,921.3L717.8,896.6M717.8,896.6L762.7,872.7M767.9,869.9L799.8,852.9M799.8,852.9L829.5,837.1M859.0,821.4L879.3,810.7M910.6,794.0L962.2,766.6M962.2,766.6L971.7,761.6M971.7,761.6L1011.2,740.5M1011.2,740.5L1058.8,715.2M1075.6,706.3L1088.6,699.4M533.3,1010.2L558.0,997.1M572.2,989.5L610.6,969.1M614.2,967.2L642.3,952.2M663.8,940.8L694.9,924.3M694.9,924.3L710.0,916.3M710.0,916.3L762.3,888.5M762.3,888.5L793.7,871.8M827.8,853.6L858.1,837.5M858.1,837.5L894.6,818.1M913.7,808.0L938.4,794.8M945.7,790.9L974.3,775.7M985.8,769.6L1030.2,746.0M1047.8,736.6L1062.4,728.9M527.9,1021.5L543.8,1013.0M571.9,998.1L606.8,979.5M606.8,979.5L638.6,962.6M638.6,962.6L667.0,947.5M680.0,940.6L728.7,914.7M728.7,914.7L770.5,892.5M770.5,892.5L808.5,872.3M840.7,855.2L886.9,830.6M886.9,830.6L938.7,803.1M938.7,803.1L954.2,794.8M954.2,794.8L993.3,774.1M993.3,774.1L1023.1,758.2M1036.7,750.9L1073.4,731.5M1078.2,728.9L1129.0,701.9M517.9,1037.0L561.9,1013.6M583.1,1002.4L611.8,987.1M641.9,971.1L694.2,943.3M694.2,943.3L718.0,930.6M746.4,915.5L796.1,889.1M796.1,889.1L807.5,883.0M807.5,883.0L822.8,874.9M850.9,859.9L893.3,837.4M916.4,825.1L949.7,807.4M982.6,789.9L1024.7,767.5M1030.0,764.7L1065.4,745.9M1087.5,734.1L1130.1,711.5M544.4,1040.4L572.7,1025.3M572.7,1025.3L625.2,997.4M653.8,982.2L686.0,965.1M712.5,951.0L727.8,942.8M727.8,942.8L773.7,918.5M773.7,918.5L825.0,891.2M853.5,876.0L903.3,849.5M919.3,841.0L930.6,835.0M930.6,835.0L940.3,829.8M940.3,829.8L972.4,812.8M972.4,812.8L1013.1,791.2M1013.1,791.2L1051.8,770.6M1051.8,770.6L1064.4,763.9M1089.1,750.7L1141.0,723.1" stroke="#e2f1ea" stroke-width="1.8" fill="none" clip-path="url(#cTSW)"/>
<path d="M791.4,182.9L811.4,220.5M811.4,220.5L822.5,241.3M836.8,268.2L856.9,306.1M870.4,331.3L884.4,357.7M884.4,357.7L891.9,371.7M909.0,403.9L922.1,428.6M937.5,457.6L957.1,494.4M968.3,515.4L988.5,553.6M1001.4,577.8L1009.0,592.1M1012.3,598.2L1021.8,616.1M1021.8,616.1L1036.0,642.8M1036.0,642.8L1051.0,670.9M1051.0,670.9L1076.1,718.3M1076.1,718.3L1083.4,732.1M771.0,166.2L796.3,213.6M801.4,223.3L816.7,252.1M832.1,281.0L848.6,312.0M864.3,341.5L871.1,354.3M873.4,358.7L895.5,400.2M906.2,420.5L913.1,433.4M926.6,458.7L943.8,491.2M953.9,510.1L968.9,538.2M972.3,544.8L988.2,574.5M1004.7,605.6L1031.4,655.9M1035.7,664.0L1056.9,703.8M1059.1,708.0L1080.4,747.9M764.2,181.2L782.3,215.2M782.3,215.2L793.2,235.7M798.3,245.2L817.7,281.8M823.9,293.5L837.7,319.4M844.9,332.9L872.6,385.1M879.3,397.6L906.0,447.8M912.1,459.3L917.6,469.7M922.8,479.5L932.9,498.5M932.9,498.5L943.8,519.0M955.9,541.8L982.2,591.1M996.9,618.8L1010.3,643.9M1022.2,666.4L1049.0,716.8M1049.0,716.8L1065.6,748.1M1065.6,748.1L1078.9,773.1M759.4,203.1L771.5,225.8M771.5,225.8L790.6,261.7M808.2,294.9L823.9,324.5M830.2,336.3L837.3,349.7M850.9,375.3L858.9,390.3M868.4,408.1L885.8,440.9M901.0,469.4L911.7,489.6M920.8,506.6L928.5,521.1M932.8,529.3L954.6,570.2M967.7,594.9L977.6,613.6M977.6,613.6L997.7,651.4M1015.4,684.6L1035.5,722.4M1038.2,727.4L1052.4,754.2M744.1,215.3L750.3,226.9M750.3,226.9L776.9,277.0M780.4,283.6L805.5,330.7M823.9,365.4L849.1,412.8M849.1,412.8L875.7,462.7M891.0,491.5L902.8,513.8M911.1,529.4L929.7,564.2M939.1,582.0L962.2,625.5M973.0,645.8L984.7,667.7M984.7,667.7L995.2,687.5M995.2,687.5L1015.1,724.9M1033.8,760.1L1044.0,779.3M727.9,225.6L752.7,272.2M762.1,289.9L774.9,314.0M774.9,314.0L780.3,324.1M798.4,358.0L822.0,402.5M822.0,402.5L849.4,454.0M865.4,484.1L880.5,512.5M880.5,512.5L886.8,524.4M898.4,546.3L921.8,590.2M935.2,615.3L962.6,666.9M967.8,676.8L973.2,686.9M973.2,686.9L989.1,716.8M999.8,736.8L1007.3,751.0M1013.1,762.0L1023.8,782.1M703.0,202.1L728.1,249.2M730.4,253.7L751.0,292.3M751.0,292.3L770.9,329.8M770.9,329.8L785.6,357.4M800.0,384.5L819.4,421.0M819.4,421.0L828.4,437.9M842.0,463.4L855.7,489.2M855.7,489.2L871.5,518.9M871.5,518.9L884.3,543.1M900.2,573.0L912.2,595.5M924.9,619.3L932.7,634.0M932.7,634.0L943.8,655.0M943.8,655.0L961.0,687.4M971.7,707.5L992.4,746.4M1005.1,770.1L1018.4,795.3M707.4,231.9L712.7,241.7M715.7,247.4L723.5,262.0M740.6,294.3L752.6,316.8M762.5,335.5L781.4,371.0M789.2,385.7L813.9,432.2M821.8,446.9L845.7,491.9M845.7,491.9L860.5,519.8M867.5,533.0L893.3,581.5M898.6,591.4L921.9,635.2M938.1,665.7L948.1,684.5M960.0,706.9L967.3,720.7M967.3,720.7L982.3,748.9M982.3,748.9L1005.0,791.5M681.2,220.6L699.8,255.5M710.8,276.2L733.1,318.2M744.0,338.7L751.8,353.3M751.8,353.3L771.2,389.8M771.2,389.8L777.8,402.2M777.8,402.2L784.6,415.0M790.4,425.9L816.2,474.5M826.1,493.1L841.8,522.7M844.8,528.3L865.1,566.5M865.1,566.5L878.3,591.3M878.3,591.3L890.9,615.1M900.5,633.1L928.0,684.8M928.0,684.8L947.6,721.6M957.1,739.5L962.1,748.9M970.4,764.4L980.8,784.0M678.7,252.9L704.9,302.2M709.8,311.4L737.1,362.8M744.8,377.2L768.8,422.4M786.8,456.2L808.0,496.0M808.0,496.0L816.2,511.6M816.2,511.6L833.7,544.3M833.7,544.3L845.4,566.5M852.3,579.4L861.0,595.8M861.0,595.8L868.5,609.9M881.1,633.5L890.6,651.4M896.7,663.0L906.9,682.1M921.3,709.2L941.5,747.1M958.5,779.2L976.4,812.7M667.0,253.9L690.9,298.8M707.1,329.2L721.7,356.6M739.5,390.2L754.8,419.0M757.5,424.1L783.0,472.0M796.9,498.1L816.6,535.3M816.6,535.3L843.3,585.4M843.3,585.4L859.8,616.5M859.8,616.5L871.7,638.9M884.4,662.7L889.8,672.8M889.8,672.8L902.1,696.0M908.9,708.8L921.2,731.9M936.6,760.9L941.6,770.3M947.7,781.7L974.9,832.8M642.1,248.0L655.8,273.8M661.7,284.8L682.9,324.8M693.4,344.5L711.5,378.5M711.5,378.5L733.6,420.0M751.5,453.8L778.4,504.3M778.4,504.3L799.9,544.7M807.8,559.7L832.7,606.5M847.2,633.8L861.0,659.7M863.2,663.8L885.0,704.9M895.3,724.1L917.0,765.0M917.0,765.0L943.9,815.5M943.9,815.5L954.0,834.7M634.9,253.0L661.3,302.6M661.3,302.6L680.0,337.7M680.0,337.7L688.8,354.3M695.7,367.3L722.3,417.2M729.7,431.1L746.3,462.3M762.9,493.6L770.1,507.1M788.8,542.4L793.8,551.7M802.6,568.2L827.9,615.9M839.4,637.6L863.0,681.9M863.0,681.9L887.2,727.4M898.3,748.2L903.4,757.9M903.4,757.9L908.7,767.9M917.9,785.1L937.1,821.3M625.1,254.1L630.8,264.8M630.8,264.8L655.0,310.3M655.0,310.3L667.3,333.4M685.4,367.5L709.3,412.4M709.3,412.4L723.7,439.6M723.7,439.6L744.3,478.3M744.3,478.3L761.0,509.7M761.0,509.7L777.4,540.6M787.4,559.3L793.0,569.9M793.0,569.9L805.6,593.5M820.9,622.3L837.9,654.3M855.4,687.2L882.1,737.4M893.2,758.3L897.9,767.2M916.5,802.1L933.1,833.5M612.0,247.2L618.1,258.8M632.8,286.3L660.7,338.8M660.7,338.8L679.6,374.3M687.9,390.0L695.6,404.6M699.6,412.0L723.3,456.6M731.5,472.1L756.2,518.5M772.8,549.8L794.4,590.3M794.4,590.3L813.0,625.4M813.0,625.4L838.9,674.0M838.9,674.0L856.7,707.5M856.7,707.5L867.2,727.2M867.2,727.2L892.6,775.0M892.6,775.0L899.9,788.7M899.9,788.7L913.5,814.3M615.8,273.7L625.8,292.5M625.8,292.5L635.6,310.9M645.7,329.9L661.1,358.9M661.1,358.9L672.4,380.1M679.2,393.0L696.8,426.1M708.2,447.5L732.2,492.5M732.2,492.5L742.9,512.7M746.3,519.2L762.1,548.8M762.1,548.8L766.8,557.7M766.8,557.7L793.1,607.2M800.4,620.9L821.1,659.8M827.5,671.8L846.7,707.9M851.4,716.8L860.7,734.4M877.3,765.5L886.7,783.2M886.7,783.2L903.9,815.4M912.7,832.1L936.7,877.2M593.6,261.2L608.0,288.4M616.7,304.7L622.1,314.9M637.6,344.0L662.8,391.4M662.8,391.4L673.4,411.3M673.4,411.3L686.5,436.0M686.5,436.0L702.3,465.6M702.3,465.6L716.4,492.1M716.4,492.1L732.0,521.5M732.0,521.5L740.9,538.3M740.9,538.3L750.6,556.4M758.8,572.0L779.2,610.2M785.7,622.5L812.3,672.5M822.2,691.2L830.0,705.8M835.6,716.3L862.4,766.8M876.5,793.2L894.7,827.6M894.7,827.6L919.4,873.9M585.2,266.1L595.5,285.5M595.5,285.5L613.7,319.7M613.7,319.7L623.4,338.0M630.8,351.9L658.1,403.2M671.8,429.0L687.0,457.6M690.5,464.2L700.5,483.0M700.5,483.0L710.0,500.8M717.6,515.1L725.4,529.8M735.6,548.9L761.8,598.3M761.8,598.3L776.7,626.3M782.6,637.4L795.6,661.8M813.9,696.1L820.3,708.3M828.9,724.4L846.9,758.2M849.1,762.4L866.8,795.7M882.6,825.4L903.0,863.8M588.5,301.7L598.4,320.3M607.3,337.0L624.4,369.3M624.4,369.3L632.1,383.7M632.1,383.7L643.7,405.4M643.7,405.4L667.1,449.4M667.1,449.4L672.8,460.2M675.2,464.8L690.3,493.2M694.6,501.2L700.7,512.6M700.7,512.6L716.3,542.0M720.7,550.3L732.0,571.5M747.3,600.4L773.7,650.0M773.7,650.0L780.2,662.1M780.2,662.1L804.9,708.7M820.0,737.0L824.9,746.4M839.4,773.5L854.2,801.3M872.4,835.7L896.2,880.4M573.5,294.8L594.9,335.1M604.2,352.5L628.3,397.8M631.3,403.6L639.6,419.2M654.7,447.5L660.9,459.1M660.9,459.1L679.1,493.4M697.0,527.0L724.9,579.5M736.3,600.9L746.4,620.0M749.6,625.9L775.1,673.9M780.4,683.9L789.2,700.4M807.0,734.0L816.7,752.1M819.5,757.5L840.8,797.5M856.5,827.1L883.3,877.4M555.5,298.6L567.7,321.4M567.7,321.4L595.8,374.3M612.0,404.7L617.5,415.2M617.5,415.2L630.3,439.2M630.3,439.2L635.6,449.2M644.3,465.6L660.9,496.7M660.9,496.7L668.7,511.3M674.6,522.5L681.7,535.8M681.7,535.8L698.5,567.4M705.8,581.1L716.7,601.6M724.0,615.4L743.4,651.9M756.9,677.2L783.0,726.4M783.0,726.4L789.6,738.8M805.4,768.4L811.7,780.3M811.7,780.3L819.0,794.0M821.0,797.8L845.9,844.6M855.7,863.1L874.2,897.9M533.1,288.6L547.1,314.9M564.0,346.8L574.0,365.7M574.0,365.7L589.1,394.1M600.1,414.7L610.8,434.8M610.8,434.8L629.5,470.1M629.5,470.1L653.4,514.9M669.1,544.5L681.4,567.5M681.4,567.5L699.5,601.6M710.2,621.7L727.6,654.6M736.0,670.4L754.5,705.0M769.8,733.9L782.5,757.8M784.6,761.7L806.8,803.5M823.5,834.8L840.3,866.5M521.9,298.8L530.3,314.6M537.2,327.6L553.8,358.7M572.2,393.4L592.1,430.9M605.2,455.5L617.4,478.4M625.4,493.5L651.1,541.8M651.1,541.8L666.6,570.9M666.6,570.9L683.4,602.5M697.2,628.5L722.2,675.5M722.2,675.5L733.8,697.3M737.8,704.9L748.3,724.6M766.5,758.8L788.1,799.5M801.6,824.7L822.6,864.3M828.7,875.8L845.0,906.4M521.6,321.0L541.5,358.5M545.6,366.1L568.0,408.3M568.0,408.3L589.8,449.3M589.8,449.3L611.5,490.2M623.2,512.2L638.7,541.3M638.7,541.3L646.0,555.0M646.0,555.0L653.8,569.6M665.3,591.3L692.1,641.7M692.1,641.7L714.7,684.1M714.7,684.1L737.1,726.2M739.7,731.2L758.2,766.0M767.8,784.0L790.5,826.8M790.5,826.8L798.2,841.3M798.2,841.3L808.4,860.4M503.5,321.4L529.2,369.6M545.0,399.4L572.8,451.8M572.8,451.8L580.2,465.7M583.8,472.3L596.6,496.4M601.1,505.0L616.7,534.2M616.7,534.2L636.9,572.3M640.8,579.6L648.2,593.4M648.2,593.4L658.9,613.7M664.1,623.4L685.2,663.1M695.0,681.6L710.0,709.8M715.5,720.0L736.2,759.0M736.2,759.0L745.8,777.1M752.4,789.5L765.1,813.3M765.1,813.3L770.5,823.6M781.4,844.1L797.1,873.5M503.3,348.1L513.1,366.5M517.1,374.1L524.2,387.5M524.2,387.5L549.7,435.4M549.7,435.4L566.2,466.4M566.2,466.4L576.2,485.2M581.8,495.7L592.7,516.4M603.1,535.9L614.1,556.6M629.5,585.6L653.0,629.7M664.4,651.1L671.6,664.7M671.6,664.7L690.9,700.9M707.0,731.2L726.0,767.0M726.0,767.0L737.0,787.7M752.0,815.9L774.3,857.9M783.7,875.5L792.5,892.0M482.0,331.8L507.0,378.9M507.0,378.9L523.8,410.5M534.2,430.1L555.4,470.0M555.4,470.0L581.6,519.3M591.3,537.4L616.0,583.9M616.0,583.9L644.0,636.5M658.3,663.5L681.8,707.6M683.8,711.4L696.4,735.1M696.4,735.1L718.9,777.5M735.2,808.0L741.9,820.6M741.9,820.6L759.6,853.9M759.6,853.9L771.2,875.7M779.0,890.5L794.0,918.7M464.5,327.3L483.8,363.8M483.8,363.8L496.1,386.9M514.4,421.2L538.7,467.0M538.7,467.0L557.0,501.3M557.0,501.3L572.8,531.1M572.8,531.1L598.2,578.9M607.4,596.1L627.6,634.1M627.6,634.1L648.7,673.8M655.3,686.2L678.0,729.0M678.0,729.0L694.9,760.8M698.0,766.6L714.9,798.3M714.9,798.3L739.9,845.4M739.9,845.4L754.6,872.9M754.6,872.9L779.9,920.6M456.2,338.1L472.4,368.5M490.2,402.2L517.9,454.2M522.6,463.0L531.9,480.6M531.9,480.6L544.3,503.9M544.3,503.9L572.4,556.7M588.6,587.1L595.7,600.5M609.0,625.5L621.0,648.0M631.4,667.6L654.7,711.5M665.9,732.5L688.4,774.8M698.9,794.5L704.4,805.0M708.4,812.5L717.3,829.2M717.3,829.2L722.4,838.9M725.6,844.8L730.5,854.1M730.5,854.1L747.0,885.1M747.0,885.1L766.5,921.8M449.3,342.4L470.0,381.2M470.0,381.2L479.2,398.6M492.6,423.7L510.7,457.8M510.7,457.8L516.5,468.7M529.8,493.7L551.9,535.3M551.9,535.3L575.5,579.7M575.5,579.7L580.2,588.5M583.3,594.3L590.9,608.6M590.9,608.6L604.7,634.5M604.7,634.5L610.0,644.6M628.4,679.1L641.6,704.1M641.6,704.1L666.7,751.3M666.7,751.3L679.0,774.4M693.9,802.5L711.1,834.7M729.0,868.3L739.6,888.4M739.6,888.4L752.7,912.9M752.7,912.9L775.1,955.1M439.3,361.0L457.6,395.5M457.6,395.5L479.9,437.6M479.9,437.6L485.0,447.1M503.1,481.2L522.9,518.3M529.8,531.4L537.8,546.4M542.1,554.4L563.8,595.3M573.4,613.3L579.4,624.6M585.7,636.4L603.0,669.1M608.6,679.5L621.5,703.8M621.5,703.8L649.5,756.4M663.9,783.5L669.9,794.8M684.9,823.1L706.7,864.1M706.7,864.1L723.0,894.7M725.7,899.8L745.9,937.8M421.6,354.3L432.3,374.6M432.3,374.6L439.1,387.4M454.0,415.3L476.3,457.3M489.8,482.6L499.4,500.8M512.1,524.6L519.4,538.4M532.9,563.7L538.5,574.3M554.1,603.6L577.5,647.6M577.5,647.6L584.8,661.3M584.8,661.3L602.8,695.2M607.7,704.4L620.9,729.3M623.1,733.4L644.3,773.3M647.7,779.6L670.8,823.0M670.8,823.0L677.8,836.3M682.3,844.7L695.0,868.6M701.7,881.2L714.4,905.0M728.4,931.4L737.8,949.1M413.1,362.9L421.4,378.5M421.4,378.5L445.0,422.9M457.9,447.2L472.9,475.5M476.1,481.4L504.2,534.4M514.9,554.4L536.1,594.2M536.1,594.2L557.4,634.3M565.7,650.0L573.0,663.7M573.0,663.7L596.3,707.5M608.1,729.6L618.6,749.4M623.6,758.9L636.0,782.2M638.1,786.2L652.1,812.5M652.1,812.5L671.6,849.1M671.6,849.1L687.2,878.5M693.4,890.1L700.4,903.2M700.4,903.2L708.9,919.2M708.9,919.2L714.2,929.3M714.2,929.3L724.7,949.0M414.0,387.4L434.1,425.1M445.0,445.6L467.7,488.3M467.7,488.3L482.4,516.0M491.7,533.4L511.2,570.2M511.2,570.2L534.0,613.0M534.0,613.0L539.2,622.9M543.0,630.1L570.0,680.8M580.3,700.0L595.5,728.7M608.7,753.6L628.1,789.9M638.2,809.0L662.8,855.3M672.5,873.4L683.9,895.0M692.4,910.9L701.5,928.0M701.5,928.0L707.8,939.8M391.7,383.0L405.3,408.7M405.3,408.7L427.6,450.7M440.2,474.3L451.3,495.3M454.9,502.0L471.6,533.4M471.6,533.4L482.3,553.5M488.4,564.9L509.1,603.9M509.1,603.9L533.9,650.5M533.9,650.5L557.4,694.7M564.5,708.1L590.1,756.2M590.1,756.2L611.6,796.7M614.6,802.2L634.2,839.3M650.5,869.9L659.4,886.7M663.2,893.7L686.1,936.9M690.9,945.8L704.0,970.4M374.6,391.3L385.1,411.1M399.4,438.1L404.9,448.3M414.1,465.8L431.5,498.4M448.8,531.0L454.8,542.2M454.8,542.2L463.0,557.7M466.6,564.5L477.7,585.4M483.6,596.4L492.4,612.9M507.9,642.1L533.7,690.7M548.5,718.4L568.8,756.7M568.8,756.7L595.0,806.0M600.9,817.0L615.0,843.6M618.0,849.3L629.7,871.2M643.8,897.6L654.0,916.9M660.7,929.4L679.8,965.4M363.0,396.0L368.5,406.4M381.1,430.1L398.7,463.3M398.7,463.3L416.3,496.3M416.3,496.3L441.3,543.3M457.6,574.0L466.2,590.1M483.2,622.2L495.6,645.4M499.5,652.7L517.7,687.0M517.7,687.0L524.2,699.2M526.9,704.3L541.6,731.9M553.4,754.1L574.1,793.0M584.3,812.2L611.8,864.0M611.8,864.0L618.9,877.3M618.9,877.3L634.4,906.5M634.4,906.5L642.5,921.6M660.8,956.2L684.1,999.9M355.4,422.0L375.7,460.4M390.1,487.3L406.4,518.0M410.5,525.8L437.1,575.8M442.7,586.4L466.4,630.8M466.4,630.8L476.6,650.0M476.6,650.0L495.6,685.8M505.8,705.0L521.3,734.1M525.2,741.5L549.2,786.7M557.2,801.7L566.4,818.9M578.2,841.1L604.4,890.5M619.0,917.8L644.0,964.9M334.6,423.0L357.5,466.0M361.4,473.4L376.1,501.0M382.0,512.1L391.6,530.3M409.8,564.4L437.8,617.1M453.9,647.4L465.5,669.2M482.3,700.8L502.8,739.4M502.8,739.4L510.0,752.9M515.6,763.4L537.6,804.9M546.8,822.1L568.1,862.1M568.1,862.1L586.3,896.5M586.3,896.5L595.2,913.2M600.3,922.7L611.5,943.8M611.5,943.8L630.1,978.7M320.9,426.4L340.8,463.9M340.8,463.9L352.0,484.9M365.2,509.6L376.8,531.6M376.8,531.6L385.1,547.1M385.1,547.1L412.3,598.2M412.3,598.2L417.2,607.6M420.7,614.0L442.3,654.7M456.4,681.3L478.0,721.8M494.3,752.5L521.3,803.3M521.3,803.3L532.4,824.2M532.4,824.2L549.8,856.9M549.8,856.9L568.9,892.9M568.9,892.9L586.2,925.4M588.4,929.4L595.7,943.2M602.7,956.3L628.8,1005.5M306.2,430.4L321.4,459.0M325.5,466.7L337.1,488.5M337.1,488.5L356.7,525.4M356.7,525.4L365.1,541.1M365.1,541.1L389.3,586.6M407.4,620.7L423.3,650.6M437.4,677.2L445.7,692.8M445.7,692.8L454.6,709.5M454.6,709.5L474.3,746.5M474.3,746.5L499.9,794.6M499.9,794.6L518.2,829.2M533.1,857.1L556.8,901.7M559.1,906.1L570.5,927.5M583.4,951.7L608.2,998.3M292.9,429.3L315.0,471.0M324.6,489.0L344.8,527.0M344.8,527.0L372.2,578.5M382.0,596.9L389.8,611.7M401.8,634.2L417.4,663.6M430.3,687.9L454.9,734.2M463.6,750.5L481.7,784.4M481.7,784.4L500.8,820.5M509.8,837.3L520.7,857.8M532.0,879.0L546.2,905.8M551.3,915.3L561.0,933.7M564.9,941.0L574.9,959.7M574.9,959.7L583.7,976.2M583.7,976.2L601.4,1009.7M293.6,451.3L304.6,472.0M320.5,501.9L339.0,536.8M352.5,562.1L377.3,608.8M386.8,626.6L404.9,660.6M420.0,689.0L438.5,723.9M443.0,732.4L466.6,776.7M466.6,776.7L480.6,803.1M498.9,837.5L504.5,848.1M504.5,848.1L521.2,879.3M521.2,879.3L530.7,897.2M541.9,918.4L567.2,966.0M567.2,966.0L575.0,980.5M575.0,980.5L581.8,993.4M581.8,993.4L609.3,1045.0M278.3,449.0L290.2,471.4M294.5,479.3L316.5,520.9M320.3,527.9L326.6,539.8M329.8,545.8L338.1,561.5M353.6,590.6L377.0,634.7M377.0,634.7L400.4,678.6M400.4,678.6L417.9,711.6M417.9,711.6L426.2,727.1M442.0,756.7L457.9,786.7M457.9,786.7L480.7,829.6M495.1,856.7L503.7,872.9M503.7,872.9L526.5,915.8M530.7,923.7L550.4,960.7M565.8,989.6L586.3,1028.2M259.9,436.9L285.4,484.6M285.4,484.6L296.4,505.3M300.3,512.7L319.4,548.7M326.0,561.2L343.6,594.1M343.6,594.1L359.2,623.6M375.9,654.8L395.0,690.8M395.0,690.8L416.5,731.3M432.7,761.8L443.3,781.7M456.2,805.9L484.2,858.6M484.2,858.6L503.0,894.0M509.7,906.5L528.6,942.1M528.6,942.1L553.5,989.0M553.5,989.0L580.4,1039.5M256.8,471.8L270.6,497.7M270.6,497.7L290.7,535.4M290.7,535.4L309.1,570.0M320.6,591.7L332.0,613.1M347.3,641.9L360.5,666.7M360.5,666.7L385.9,714.6M385.9,714.6L394.2,730.0M396.3,734.1L423.9,785.9M423.9,785.9L436.1,808.8M436.1,808.8L459.7,853.3M459.7,853.3L481.2,893.7M481.2,893.7L488.3,907.1M492.4,914.7L508.4,944.8M520.1,966.9L542.7,1009.4M228.3,456.7L242.6,483.6M242.6,483.6L248.4,494.5M251.4,500.1L269.2,533.7M278.9,551.8L284.4,562.1M299.3,590.3L310.2,610.8M320.5,630.2L334.9,657.2M338.8,664.5L352.1,689.6M352.1,689.6L364.4,712.6M368.9,721.2L388.9,758.7M388.9,758.7L415.4,808.7M420.5,818.1L430.4,836.7M443.7,861.9L459.8,892.2M459.8,892.2L468.0,907.4M472.6,916.2L487.2,943.5M495.3,958.8L510.9,988.1M519.2,1003.8L529.1,1022.4M232.5,488.4L250.2,521.5M250.2,521.5L260.2,540.3M270.4,559.5L288.3,593.2M292.8,601.8L297.7,611.0M297.7,611.0L320.1,653.1M333.7,678.7L359.1,726.5M377.4,760.8L404.1,811.1M404.1,811.1L414.3,830.2M422.7,845.9L429.8,859.3M429.8,859.3L446.9,891.5M456.6,909.7L462.1,920.1M462.1,920.1L483.8,960.8M490.4,973.4L515.2,1020.0M515.2,1020.0L541.0,1068.5M222.6,497.3L236.7,523.8M240.2,530.4L265.4,577.8M282.1,609.2L306.4,654.9M317.6,676.1L335.6,709.9M345.2,727.9L357.0,750.1M357.0,750.1L369.2,773.1M386.5,805.5L413.7,856.7M413.7,856.7L422.5,873.4M425.7,879.3L437.9,902.3M437.9,902.3L460.3,944.4M476.7,975.3L502.8,1024.3M505.8,1029.9L532.8,1080.7M191.0,479.4L214.5,523.6M214.5,523.6L231.6,555.7M231.6,555.7L237.4,566.6M248.9,588.3L273.9,635.3M278.7,644.4L300.9,686.0M316.7,715.7L340.8,761.2M349.7,777.9L356.4,790.4M362.4,801.8L383.1,840.7M397.3,867.5L405.9,883.6M405.9,883.6L424.5,918.5M424.5,918.5L452.1,970.5M452.1,970.5L471.6,1007.1M471.6,1007.1L486.3,1034.7M496.9,1054.6L520.9,1099.9" stroke="#e2f1ea" stroke-width="1.8" fill="none" clip-path="url(#cTSW)"/>
</g>
<g clip-path="url(#cT)">
<path d="M1075.3,669.9L1152.0,616.2M1184.4,593.5L1202.1,581.1M1202.1,581.1L1274.3,530.5M1274.3,530.5L1372.6,461.7M1385.8,452.4L1460.2,400.4M1110.6,661.3L1198.6,599.6M1198.6,599.6L1233.3,575.4M1233.3,575.4L1291.6,534.6M1308.3,522.9L1359.1,487.3M1379.0,473.3L1424.9,441.2M1116.9,685.0L1166.4,650.3M1166.4,650.3L1264.3,581.7M1295.5,559.9L1313.4,547.4M1321.8,541.5L1415.0,476.3M1415.0,476.3L1490.3,423.5M1111.8,715.9L1137.8,697.8M1154.9,685.8L1240.1,626.1M1240.1,626.1L1289.4,591.6M1289.4,591.6L1320.4,569.9M1320.4,569.9L1365.8,538.1M1378.2,529.4L1462.2,470.6M1131.5,720.1L1153.9,704.4M1153.9,704.4L1235.5,647.2M1242.2,642.6L1298.9,602.8M1327.0,583.2L1419.4,518.5M1419.4,518.5L1459.3,490.6M1135.5,745.6L1192.9,705.5M1224.9,683.0L1244.8,669.1M1273.0,649.4L1336.0,605.2M1362.2,586.9L1427.2,541.4M1427.2,541.4L1464.6,515.2M1160.0,746.4L1207.5,713.1M1229.0,698.1L1303.2,646.1M1303.2,646.1L1345.1,616.8M1345.1,616.8L1427.0,559.4M1427.0,559.4L1516.5,496.7M1160.0,764.5L1218.8,723.3M1229.5,715.9L1326.6,647.9M1356.8,626.7L1429.3,576.0M1442.0,567.1L1507.9,520.9M1157.7,784.2L1188.2,762.8M1188.2,762.8L1264.3,709.6M1292.2,690.0L1355.7,645.5M1385.4,624.8L1412.3,605.9M1425.7,596.5L1502.5,542.7M1195.1,778.5L1243.7,744.4M1243.7,744.4L1260.5,732.7M1260.5,732.7L1289.6,712.3M1289.6,712.3L1374.7,652.7M1374.7,652.7L1438.5,608.1M1438.5,608.1L1516.4,553.5M1192.6,801.9L1218.5,783.8M1218.5,783.8L1273.2,745.5M1297.3,728.6L1377.5,672.5M1406.2,652.3L1503.5,584.2M1193.5,820.5L1220.5,801.6M1253.3,778.6L1274.6,763.7M1274.6,763.7L1348.1,712.2M1348.1,712.2L1372.6,695.1M1372.6,695.1L1405.8,671.8M1405.8,671.8L1487.2,614.8M1487.2,614.8L1547.5,572.6M1197.3,834.0L1284.6,772.8M1300.2,761.9L1351.0,726.4M1351.0,726.4L1397.8,693.5M1397.8,693.5L1455.3,653.3M1472.5,641.2L1527.3,602.9M1215.2,841.0L1307.4,776.5M1307.4,776.5L1344.0,750.8M1344.0,750.8L1362.3,738.0M1392.1,717.1L1422.4,696.0M1422.4,696.0L1520.2,627.5M1520.2,627.5L1574.2,589.7M1236.7,846.1L1285.0,812.3M1285.0,812.3L1334.6,777.5M1334.6,777.5L1413.1,722.6M1444.5,700.6L1497.8,663.3M1529.8,640.9L1592.9,596.7M1225.5,869.8L1304.2,814.7M1304.2,814.7L1374.5,765.5M1374.5,765.5L1446.8,714.9M1475.5,694.7L1528.7,657.5M1235.2,890.6L1324.1,828.4M1324.1,828.4L1362.6,801.4M1362.6,801.4L1454.5,737.1M1477.2,721.1L1513.3,695.9M1544.6,674.0L1642.5,605.4M1256.3,901.6L1307.8,865.6M1307.8,865.6L1390.8,807.4M1390.8,807.4L1445.7,769.0M1445.7,769.0L1495.1,734.4M1495.1,734.4L1582.6,673.1M1264.2,913.8L1360.8,846.1M1383.7,830.1L1408.0,813.1M1417.9,806.1L1489.4,756.1M1512.1,740.2L1534.4,724.6M1534.4,724.6L1608.3,672.8M1275.6,922.3L1307.1,900.2M1334.1,881.3L1427.2,816.1M1445.8,803.1L1516.2,753.8M1516.2,753.8L1578.4,710.3M1578.4,710.3L1658.0,654.5M1291.3,935.7L1374.1,877.7M1400.0,859.5L1434.6,835.3M1449.5,824.9L1508.5,783.6M1508.5,783.6L1572.9,738.5M1586.9,728.7L1657.0,679.6M1279.9,962.4L1366.3,901.9M1366.3,901.9L1451.5,842.2M1451.5,842.2L1502.1,806.8M1532.5,785.5L1584.6,749.0M1606.3,733.8L1626.4,719.8M1303.6,971.7L1336.1,949.0M1363.5,929.7L1387.4,913.1M1400.9,903.6L1495.3,837.5M1495.3,837.5L1590.9,770.6M1608.9,757.9L1637.2,738.1" stroke="#e1f2ec" stroke-width="1.5" fill="none" clip-path="url(#cB)"/>
<path d="M1387.8,445.8L1423.2,496.4M1433.9,511.7L1483.1,582.0M1498.5,604.0L1510.6,621.2M1519.8,634.4L1539.4,662.4M1539.4,662.4L1568.7,704.2M1568.7,704.2L1635.0,798.9M1374.6,464.2L1387.7,482.8M1402.9,504.6L1431.4,545.2M1440.1,557.6L1466.4,595.2M1466.4,595.2L1497.8,640.0M1513.3,662.3L1579.2,756.3M1582.4,760.9L1649.7,857.1M1354.1,471.5L1379.0,507.2M1387.6,519.4L1425.5,573.5M1442.2,597.4L1495.5,673.5M1515.1,701.6L1554.8,758.2M1554.8,758.2L1593.5,813.5M1342.7,483.9L1382.8,541.1M1388.1,548.7L1412.9,584.1M1422.8,598.2L1465.2,658.8M1465.2,658.8L1499.6,707.9M1512.5,726.3L1578.6,820.7M1331.7,501.5L1356.2,536.6M1360.5,542.6L1378.9,569.0M1394.1,590.7L1458.3,682.3M1474.8,705.8L1540.2,799.3M1540.2,799.3L1560.4,828.2M1305.9,488.4L1318.0,505.7M1318.0,505.7L1382.2,597.4M1387.6,605.0L1421.3,653.2M1433.2,670.1L1486.5,746.3M1489.6,750.8L1502.9,769.6M1518.9,792.6L1583.4,884.7M1297.4,496.2L1332.7,546.7M1337.4,553.4L1373.8,605.3M1373.8,605.3L1398.9,641.1M1398.9,641.1L1460.6,729.3M1467.6,739.2L1489.6,770.7M1489.6,770.7L1548.4,854.7M1291.7,510.5L1304.4,528.7M1312.8,540.7L1331.4,567.2M1354.2,599.8L1383.1,641.1M1396.4,660.2L1435.0,715.2M1435.0,715.2L1475.3,772.8M1479.2,778.4L1527.0,846.6M1272.6,518.4L1310.6,572.6M1310.6,572.6L1363.8,648.6M1373.0,661.8L1394.3,692.2M1394.3,692.2L1428.9,741.5M1435.7,751.4L1473.3,805.0M1473.3,805.0L1520.9,873.1M1251.3,520.6L1314.5,610.9M1329.7,632.7L1349.7,661.1M1349.7,661.1L1400.8,734.2M1413.5,752.3L1473.5,837.9M1473.5,837.9L1523.0,908.6M1254.3,560.5L1295.3,619.0M1295.3,619.0L1352.5,700.8M1352.5,700.8L1376.6,735.1M1376.6,735.1L1408.1,780.1M1408.1,780.1L1462.4,857.7M1462.4,857.7L1480.2,883.0M1239.7,574.8L1297.8,657.9M1297.8,657.9L1318.2,687.0M1333.1,708.3L1388.1,786.8M1410.0,818.0L1434.6,853.2M1445.9,869.4L1467.8,900.7M1211.7,553.1L1262.1,625.1M1262.1,625.1L1317.9,704.8M1335.7,730.3L1353.8,756.1M1353.8,756.1L1388.8,806.0M1399.0,820.6L1421.6,852.9M1421.6,852.9L1454.5,899.9M1220.9,585.7L1256.0,635.7M1256.0,635.7L1301.5,700.7M1318.9,725.6L1362.1,787.3M1384.9,819.9L1416.4,864.8M1416.4,864.8L1451.8,915.4M1190.3,563.4L1204.2,583.3M1224.0,611.6L1261.1,664.6M1261.1,664.6L1280.8,692.7M1280.8,692.7L1301.9,722.8M1301.9,722.8L1324.6,755.2M1324.6,755.2L1371.3,821.9M1371.3,821.9L1406.4,872.0M1406.4,872.0L1420.8,892.6M1187.2,589.1L1254.2,684.8M1269.2,706.2L1314.3,770.7M1319.7,778.3L1355.7,829.8M1370.6,851.1L1405.5,900.9M1170.2,604.8L1198.8,645.6M1220.8,677.1L1257.8,729.9M1257.8,729.9L1273.5,752.4M1273.5,752.4L1336.3,842.0M1344.9,854.3L1393.7,923.9M1139.4,597.4L1157.4,623.2M1157.4,623.2L1191.9,672.5M1191.9,672.5L1229.2,725.7M1229.2,725.7L1253.2,760.0M1253.2,760.0L1291.9,815.2M1298.3,824.3L1314.5,847.5M1336.5,879.0L1403.7,974.9M1143.6,630.9L1197.7,708.2M1197.7,708.2L1264.8,803.9M1264.8,803.9L1320.1,882.9M1325.9,891.2L1361.3,941.8M1120.6,619.3L1174.0,695.6M1178.1,701.3L1189.6,717.8M1193.9,723.9L1247.8,800.9M1252.3,807.4L1292.3,864.5M1294.7,867.9L1309.9,889.7M1320.9,905.3L1339.1,931.4M1111.1,645.8L1140.1,687.2M1146.1,695.8L1179.8,743.9M1179.8,743.9L1246.8,839.7M1262.4,862.0L1317.7,940.9M1317.7,940.9L1372.7,1019.4M1094.0,641.0L1159.3,734.4M1159.3,734.4L1221.6,823.3M1240.0,849.6L1296.7,930.5M1305.9,943.7L1343.7,997.7M1080.0,639.0L1148.8,737.2M1159.5,752.6L1204.8,817.2M1204.8,817.2L1256.3,890.8M1256.3,890.8L1268.9,908.7M1276.6,919.8L1308.8,965.7M1308.8,965.7L1348.8,1022.8M1077.4,660.3L1125.1,728.5M1125.1,728.5L1150.6,764.8M1153.1,768.4L1218.1,861.4M1218.1,861.4L1276.6,944.8M1291.8,966.6L1328.1,1018.4M1063.5,679.2L1109.2,744.4M1123.6,765.0L1186.3,854.6M1193.5,864.8L1258.5,957.7M1270.3,974.6L1334.4,1066.1" stroke="#e1f2ec" stroke-width="1.5" fill="none" clip-path="url(#cB)"/>
</g>
<clipPath id="rN"><rect x="470" y="70" width="930" height="420"/></clipPath>
<clipPath id="rSE"><rect x="1130" y="490" width="270" height="140"/></clipPath>
<clipPath id="rS"><path d="M470,630 H1400 V830 H470 Z M470,490 H1130 V630 H470 Z"/></clipPath>
<g clip-path="url(#rN)">
<path d="M988.2,-206.8L1065.6,-175.5M1076.5,-171.1L1168.6,-133.9M1168.6,-133.9L1234.6,-107.2M1234.6,-107.2L1275.0,-90.9M1291.1,-84.4L1364.0,-54.9M1394.2,-42.7L1434.2,-26.5M1439.4,-24.5L1550.4,20.4M1550.4,20.4L1650.1,60.7M970.5,-201.5L1035.2,-175.4M1070.6,-161.0L1123.4,-139.7M1154.4,-127.2L1184.5,-115.0M1184.5,-115.0L1245.0,-90.6M1245.0,-90.6L1295.4,-70.2M1305.3,-66.2L1327.3,-57.3M1327.3,-57.3L1367.6,-41.0M1367.6,-41.0L1405.5,-25.7M1405.5,-25.7L1506.9,15.2M1506.9,15.2L1596.2,51.3M954.6,-184.2L1017.3,-158.9M1017.3,-158.9L1054.5,-143.9M1054.5,-143.9L1155.3,-103.1M1171.2,-96.7L1231.6,-72.3M1268.5,-57.4L1322.9,-35.4M1329.8,-32.7L1414.9,1.7M1414.9,1.7L1479.4,27.8M1501.5,36.7L1589.4,72.2M965.9,-158.8L1001.2,-144.5M1016.5,-138.4L1121.0,-96.1M1144.7,-86.6L1191.7,-67.6M1197.6,-65.2L1291.5,-27.2M1291.5,-27.2L1344.8,-5.7M1344.8,-5.7L1426.1,27.1M1426.1,27.1L1533.5,70.5M955.2,-135.7L1055.6,-95.1M1071.9,-88.6L1113.3,-71.8M1113.3,-71.8L1146.9,-58.3M1177.5,-45.9L1267.8,-9.4M1299.5,3.4L1322.8,12.8M1336.2,18.2L1393.7,41.4M1399.7,43.9L1449.6,64.0M1449.6,64.0L1559.3,108.4M935.8,-123.9L1043.3,-80.5M1043.3,-80.5L1129.4,-45.7M1140.2,-41.4L1236.4,-2.5M1236.4,-2.5L1336.7,38.0M1336.7,38.0L1394.8,61.5M1394.8,61.5L1492.1,100.8M1513.6,109.5L1557.7,127.3M947.7,-107.1L1054.7,-63.9M1078.2,-54.4L1156.5,-22.8M1156.5,-22.8L1229.2,6.6M1246.5,13.6L1353.9,57.0M1353.9,57.0L1384.8,69.5M1391.7,72.3L1412.5,80.7M1421.0,84.1L1519.9,124.1M1519.9,124.1L1550.2,136.3M934.7,-95.3L973.6,-79.5M983.4,-75.6L1037.0,-53.9M1037.0,-53.9L1106.6,-25.8M1134.0,-14.7L1233.6,25.5M1233.6,25.5L1325.4,62.6M1344.6,70.4L1369.0,80.2M1369.0,80.2L1403.8,94.3M1403.8,94.3L1445.8,111.3M1445.8,111.3L1493.4,130.5M1510.1,137.2L1557.4,156.3M929.2,-80.8L998.7,-52.7M998.7,-52.7L1026.4,-41.6M1026.4,-41.6L1092.1,-15.0M1092.1,-15.0L1200.3,28.7M1227.3,39.6L1294.6,66.8M1294.6,66.8L1319.1,76.7M1319.1,76.7L1428.2,120.8M1442.5,126.6L1553.2,171.3M936.3,-64.9L1025.3,-29.0M1049.7,-19.1L1070.1,-10.9M1070.1,-10.9L1129.7,13.2M1129.7,13.2L1184.3,35.3M1195.6,39.8L1218.6,49.1M1230.6,54.0L1314.4,87.9M1314.4,87.9L1400.1,122.5M1411.7,127.1L1465.9,149.1M1490.7,159.1L1598.6,202.7M925.8,-49.3L1026.9,-8.5M1026.9,-8.5L1103.5,22.5M1103.5,22.5L1184.0,55.0M1184.0,55.0L1267.4,88.7M1267.4,88.7L1308.7,105.4M1308.7,105.4L1363.0,127.3M1363.0,127.3L1458.0,165.7M1458.0,165.7L1568.3,210.2M907.8,-39.7L939.8,-26.8M939.8,-26.8L965.7,-16.3M1001.0,-2.1L1088.3,33.2M1095.6,36.2L1202.8,79.5M1202.8,79.5L1240.5,94.7M1265.6,104.9L1347.3,137.9M1382.8,152.2L1431.2,171.8M1463.1,184.7L1495.9,197.9M1495.9,197.9L1533.0,212.9M901.7,-25.8L1007.4,16.9M1025.7,24.3L1101.5,54.9M1111.0,58.8L1165.2,80.7M1175.2,84.7L1282.9,128.2M1313.6,140.6L1418.8,183.1M1418.8,183.1L1439.1,191.3M1439.1,191.3L1461.3,200.3M1461.3,200.3L1544.8,234.0M883.9,-12.3L931.1,6.7M964.7,20.3L1017.6,41.7M1047.7,53.8L1142.5,92.1M1142.5,92.1L1165.6,101.5M1182.7,108.4L1252.5,136.6M1282.9,148.9L1379.7,188.0M1379.7,188.0L1480.2,228.6M909.2,11.1L997.0,46.5M997.0,46.5L1033.0,61.1M1064.0,73.6L1138.7,103.8M1138.7,103.8L1201.0,128.9M1201.0,128.9L1250.8,149.1M1266.3,155.3L1312.5,174.0M1312.5,174.0L1413.6,214.8M1419.5,217.2L1485.5,243.9M1485.5,243.9L1521.7,258.5M889.9,15.7L971.6,48.7M971.6,48.7L1004.8,62.1M1039.5,76.2L1108.0,103.8M1134.8,114.7L1220.8,149.4M1220.8,149.4L1246.6,159.8M1246.6,159.8L1285.0,175.3M1300.5,181.6L1368.4,209.0M1368.4,209.0L1403.1,223.0M1403.1,223.0L1467.4,249.0M896.5,43.3L978.0,76.2M1007.7,88.2L1110.0,129.5M1110.0,129.5L1212.7,171.1M1212.7,171.1L1267.4,193.2M1267.4,193.2L1372.8,235.8M1372.8,235.8L1392.4,243.7M1416.6,253.4L1491.5,283.7M861.1,51.3L966.0,93.7M966.0,93.7L1066.3,134.2M1103.3,149.2L1173.3,177.5M1173.3,177.5L1260.4,212.7M1260.4,212.7L1312.6,233.7M1329.8,240.7L1364.9,254.9M1364.9,254.9L1459.0,292.9M1467.1,296.2L1488.1,304.7M875.5,69.5L913.6,84.8M948.3,98.9L1015.3,125.9M1015.3,125.9L1081.5,152.7M1093.3,157.4L1151.1,180.8M1151.1,180.8L1241.2,217.2M1241.2,217.2L1320.0,249.0M1338.1,256.3L1391.7,278.0M1404.3,283.1L1472.7,310.7M863.9,89.9L956.8,127.5M956.8,127.5L1043.1,162.3M1043.1,162.3L1096.6,184.0M1100.5,185.5L1180.6,217.9M1180.6,217.9L1252.6,247.0M1252.6,247.0L1289.4,261.8M1317.6,273.2L1411.5,311.2M1417.0,313.4L1469.9,334.8M852.3,105.2L907.0,127.3M907.0,127.3L981.0,157.2M981.0,157.2L1079.8,197.1M1079.8,197.1L1133.1,218.6M1162.9,230.7L1254.9,267.9M1254.9,267.9L1291.9,282.8M1291.9,282.8L1393.0,323.7M1407.0,329.3L1484.3,360.5M854.9,122.4L900.9,141.0M911.5,145.2L976.1,171.4M976.1,171.4L1014.9,187.0M1014.9,187.0L1064.5,207.1M1064.5,207.1L1117.2,228.4M1125.6,231.8L1149.5,241.4M1149.5,241.4L1206.4,264.4M1239.5,277.8L1318.8,309.8M1346.7,321.1L1420.3,350.8M1440.8,359.1L1548.5,402.6M835.4,136.7L886.1,157.1M886.1,157.1L963.6,188.5M984.5,196.9L1023.7,212.7M1023.7,212.7L1044.1,221.0M1044.1,221.0L1104.8,245.5M1128.1,254.9L1200.7,284.3M1220.8,292.4L1254.6,306.0M1254.6,306.0L1303.5,325.8M1314.4,330.2L1337.4,339.5M1346.2,343.0L1422.6,373.9M1422.6,373.9L1461.6,389.7M832.1,149.1L921.2,185.1M948.3,196.0L1016.8,223.7M1028.6,228.4L1102.7,258.4M1113.2,262.6L1185.2,291.7M1185.2,291.7L1252.0,318.7M1252.0,318.7L1271.4,326.6M1285.7,332.3L1389.0,374.1M1418.9,386.1L1440.6,394.9M830.2,172.6L865.6,186.9M865.6,186.9L891.5,197.4M891.5,197.4L982.0,234.0M982.0,234.0L1049.8,261.4M1064.9,267.4L1145.0,299.8M1145.0,299.8L1199.6,321.9M1199.6,321.9L1223.1,331.4M1229.8,334.1L1278.5,353.8M1278.5,353.8L1366.9,389.5M1380.9,395.1L1409.8,406.8M1409.8,406.8L1469.4,430.9M815.4,192.5L898.0,225.9M898.0,225.9L960.5,251.1M960.5,251.1L1012.8,272.3M1033.0,280.4L1079.8,299.3M1089.7,303.3L1192.9,345.0M1203.3,349.2L1224.8,357.9M1257.5,371.1L1307.3,391.2M1307.3,391.2L1347.2,407.4M1347.2,407.4L1407.5,431.7M1407.5,431.7L1475.0,459.0M823.1,217.1L905.7,250.5M920.4,256.4L1021.6,297.3M1021.6,297.3L1053.7,310.3M1053.7,310.3L1143.8,346.7M1143.8,346.7L1251.8,390.3M1251.8,390.3L1293.1,407.0M1293.1,407.0L1342.0,426.8M1378.3,441.4L1412.4,455.2M796.5,222.6L888.6,259.9M888.6,259.9L976.2,295.2M976.2,295.2L1075.6,335.4M1075.6,335.4L1170.4,373.7M1170.4,373.7L1235.3,399.9M1235.3,399.9L1301.5,426.7M1301.5,426.7L1380.8,458.7M785.6,234.9L839.9,256.8M843.8,258.4L870.9,269.3M900.1,281.1L923.1,290.4M923.1,290.4L952.0,302.1M952.0,302.1L998.0,320.7M1025.4,331.8L1082.3,354.7M1110.3,366.1L1139.6,377.9M1166.8,388.9L1262.7,427.6M1262.7,427.6L1305.1,444.8M1305.1,444.8L1352.6,464.0M1352.6,464.0L1449.6,503.2M784.5,261.4L861.6,292.6M861.6,292.6L906.0,310.5M906.0,310.5L924.9,318.2M934.2,321.9L984.8,342.4M989.3,344.2L1082.3,381.8M1105.2,391.0L1175.1,419.2M1175.1,419.2L1272.2,458.5M1272.2,458.5L1306.4,472.3M1306.4,472.3L1334.0,483.4M1334.0,483.4L1381.1,502.5M794.4,283.7L892.2,323.2M892.2,323.2L978.4,358.0M992.8,363.9L1039.6,382.8M1072.5,396.0L1183.3,440.8M1219.3,455.4L1322.9,497.3M1349.8,508.1L1441.1,545.0M788.1,308.9L891.1,350.5M918.7,361.7L982.4,387.4M982.4,387.4L1016.4,401.1M1016.4,401.1L1046.1,413.1M1046.1,413.1L1131.6,447.7M1145.7,453.4L1177.3,466.2M1177.3,466.2L1254.3,497.3M1289.7,511.6L1397.8,555.2M771.7,320.0L827.2,342.5M856.0,354.1L891.8,368.5M921.0,380.3L960.4,396.3M994.5,410.0L1027.9,423.5M1042.0,429.2L1084.8,446.5M1106.5,455.3L1135.8,467.1M1135.8,467.1L1159.1,476.5M1169.5,480.8L1210.3,497.2M1223.8,502.7L1319.9,541.5M1319.9,541.5L1382.3,566.7M753.0,335.4L828.6,366.0M828.6,366.0L896.7,393.5M896.7,393.5L973.9,424.7M973.9,424.7L1017.0,442.1M1017.0,442.1L1126.1,486.2M1126.1,486.2L1228.5,527.6M1256.4,538.8L1299.6,556.2M1299.6,556.2L1357.4,579.6M745.3,348.2L844.1,388.1M844.1,388.1L920.9,419.2M934.4,424.6L1042.7,468.4M1064.4,477.1L1147.5,510.7M1147.5,510.7L1217.4,539.0M1217.4,539.0L1308.4,575.7M1326.5,583.0L1384.0,606.2M737.5,367.8L820.3,401.3M824.5,403.0L870.1,421.4M880.4,425.6L961.1,458.2M961.1,458.2L1066.0,500.6M1066.0,500.6L1164.0,540.2M1187.3,549.6L1288.7,590.5M1304.5,596.9L1357.8,618.4M748.6,385.1L855.8,428.4M865.8,432.4L915.3,452.5M915.3,452.5L954.9,468.4M954.9,468.4L989.4,482.4M989.4,482.4L1074.8,516.9M1074.8,516.9L1101.2,527.6M1101.2,527.6L1198.4,566.8M1230.8,579.9L1305.0,609.9M1322.0,616.8L1416.6,655.0M725.3,390.2L798.1,419.7M798.1,419.7L858.2,443.9M894.1,458.4L944.4,478.8M944.4,478.8L981.9,493.9M981.9,493.9L1017.1,508.1M1032.0,514.2L1061.3,526.0M1086.8,536.3L1156.2,564.3M1156.2,564.3L1219.0,589.7M1247.0,601.0L1302.8,623.6M1302.8,623.6L1411.8,667.6" stroke="#f3f3e5" stroke-width="2.2" fill="none" clip-path="url(#cBe)"/>
<path d="M749.6,388.1L758.0,367.4M758.0,367.4L772.4,331.7M782.7,306.3L803.1,255.7M803.1,255.7L819.3,215.7M819.3,215.7L838.8,167.5M838.8,167.5L881.2,62.5M881.2,62.5L923.3,-41.7M923.3,-41.7L932.6,-64.7M932.6,-64.7L962.2,-137.9M966.2,-148.0L1005.5,-245.3M785.9,375.4L829.4,267.8M829.4,267.8L863.1,184.5M863.1,184.5L880.2,142.0M880.2,142.0L899.4,94.4M899.4,94.4L942.7,-12.6M942.7,-12.6L955.5,-44.3M955.5,-44.3L988.0,-124.8M990.2,-130.1L1017.6,-198.0M801.6,392.9L824.5,336.3M824.5,336.3L866.3,232.8M872.8,216.6L902.1,144.1M911.7,120.5L939.5,51.6M950.1,25.4L977.4,-42.1M992.3,-79.1L1013.1,-130.6M1020.1,-147.8L1062.4,-252.5M819.6,405.1L830.7,377.6M830.7,377.6L844.6,343.2M844.6,343.2L865.2,292.3M871.5,276.6L886.1,240.4M894.8,218.8L932.2,126.4M932.2,126.4L947.2,89.2M947.2,89.2L956.6,65.8M969.3,34.5L1011.3,-69.4M1024.2,-101.4L1050.4,-166.2M1050.4,-166.2L1079.8,-238.9M844.2,411.9L878.9,326.0M878.9,326.0L899.7,274.6M899.7,274.6L937.9,180.1M937.9,180.1L980.7,74.1M988.9,53.7L1020.2,-23.7M1024.0,-33.1L1057.4,-115.8M1062.5,-128.5L1071.6,-150.9M1071.6,-150.9L1092.3,-202.1M865.5,403.6L879.7,368.3M882.5,361.3L907.6,299.2M913.8,284.0L948.8,197.3M948.8,197.3L987.5,101.5M994.1,85.1L1033.4,-12.1M1037.6,-22.6L1063.5,-86.6M1075.1,-115.3L1109.5,-200.5M871.4,431.9L881.4,407.3M881.4,407.3L894.8,374.1M894.8,374.1L926.5,295.7M934.7,275.3L964.8,200.8M972.9,180.9L981.5,159.5M981.5,159.5L989.1,140.6M989.1,140.6L1033.5,30.7M1033.5,30.7L1049.8,-9.5M1049.8,-9.5L1062.5,-41.0M1075.6,-73.5L1113.8,-167.9M891.9,444.1L929.5,351.1M929.5,351.1L957.6,281.4M970.5,249.4L997.2,183.3M1002.5,170.3L1015.9,137.0M1015.9,137.0L1042.5,71.2M1042.5,71.2L1080.6,-23.1M1080.6,-23.1L1095.3,-59.3M1108.6,-92.2L1144.6,-181.4M906.1,450.4L915.5,427.1M920.1,415.6L947.0,349.0M947.0,349.0L960.2,316.3M960.2,316.3L1000.1,217.6M1000.1,217.6L1027.4,150.2M1027.4,150.2L1035.7,129.6M1035.7,129.6L1068.9,47.4M1068.9,47.4L1107.3,-47.6M1109.7,-53.6L1123.9,-88.7M1123.9,-88.7L1166.5,-194.2M931.0,440.6L966.2,353.4M980.8,317.3L1023.5,211.5M1023.5,211.5L1064.8,109.3M1064.8,109.3L1096.7,30.3M1102.0,17.2L1118.4,-23.4M1132.4,-58.0L1151.1,-104.2M1156.9,-118.5L1168.2,-146.6M942.8,451.7L965.9,394.6M978.3,363.8L997.3,316.8M997.3,316.8L1037.7,216.9M1037.7,216.9L1059.2,163.6M1073.6,128.1L1100.3,61.9M1103.5,53.9L1120.0,13.2M1123.3,4.9L1132.7,-18.2M1132.7,-18.2L1170.9,-112.8M1178.9,-132.6L1216.4,-225.4M953.1,461.7L974.8,407.9M974.8,407.9L1004.1,335.3M1014.2,310.5L1023.5,287.5M1023.5,287.5L1061.2,194.0M1061.2,194.0L1082.2,142.0M1083.9,137.9L1094.4,111.8M1102.0,93.0L1138.7,2.3M1146.6,-17.2L1177.9,-94.7M1177.9,-94.7L1186.1,-115.2M1186.1,-115.2L1215.6,-188.0M984.6,448.8L1004.7,399.0M1013.7,376.7L1027.8,342.0M1041.6,307.6L1070.0,237.5M1070.0,237.5L1087.3,194.7M1087.3,194.7L1124.1,103.6M1132.7,82.2L1165.8,0.4M1165.8,0.4L1195.8,-74.0M1204.8,-96.2L1225.6,-147.6M1002.6,454.1L1031.9,381.8M1039.0,364.2L1051.3,333.7M1051.3,333.7L1060.5,310.9M1060.5,310.9L1079.5,263.8M1079.5,263.8L1091.7,233.5M1091.7,233.5L1126.0,148.8M1129.2,140.7L1150.7,87.7M1150.7,87.7L1168.0,44.9M1175.4,26.5L1213.2,-67.0M1227.4,-102.2L1253.9,-167.8M1012.4,479.8L1026.5,444.9M1034.7,424.5L1051.7,382.4M1059.3,363.6L1092.9,280.5M1092.9,280.5L1109.0,240.7M1122.1,208.4L1131.4,185.1M1133.9,179.1L1172.3,83.9M1172.3,83.9L1214.4,-20.2M1214.4,-20.2L1234.5,-69.9M1245.9,-98.0L1262.0,-138.0M1023.8,503.1L1044.2,452.7M1044.2,452.7L1057.2,420.6M1057.2,420.6L1099.4,316.2M1099.4,316.2L1140.7,213.7M1140.7,213.7L1168.4,145.3M1182.7,109.8L1224.7,6.0M1231.4,-10.6L1241.6,-35.9M1241.6,-35.9L1281.1,-133.7M1056.4,483.9L1070.3,449.6M1080.4,424.5L1089.5,402.1M1089.5,402.1L1108.8,354.3M1108.8,354.3L1133.3,293.6M1135.1,289.2L1146.8,260.2M1158.5,231.2L1195.8,139.0M1195.8,139.0L1214.8,92.0M1214.8,92.0L1249.7,5.5M1252.3,-0.9L1277.4,-62.9M1281.4,-72.9L1303.5,-127.7M1073.8,486.4L1108.9,399.5M1122.6,365.7L1160.4,272.2M1160.4,272.2L1201.0,171.6M1202.8,167.1L1215.9,134.6M1229.0,102.3L1267.6,6.8M1273.8,-8.6L1285.5,-37.4M1291.7,-52.9L1314.7,-109.9M1088.9,492.8L1114.4,429.6M1126.2,400.4L1146.6,349.8M1149.8,342.0L1168.3,296.2M1179.7,267.9L1200.5,216.5M1200.5,216.5L1218.3,172.4M1223.9,158.5L1246.1,103.5M1246.1,103.5L1261.1,66.5M1264.7,57.6L1281.7,15.6M1281.7,15.6L1324.1,-89.4M1103.5,511.9L1115.2,483.0M1127.1,453.7L1134.6,435.0M1134.6,435.0L1167.8,352.9M1167.8,352.9L1193.5,289.3M1202.0,268.2L1214.6,237.1M1214.6,237.1L1231.0,196.3M1233.1,191.1L1246.6,157.9M1255.4,136.1L1271.7,95.7M1271.7,95.7L1298.1,30.4M1301.3,22.5L1331.1,-51.3M1331.1,-51.3L1364.5,-133.9M1115.9,541.1L1134.9,494.2M1134.9,494.2L1156.5,440.6M1163.7,422.9L1202.4,327.0M1205.5,319.6L1231.6,254.8M1231.6,254.8L1253.7,200.1M1265.6,170.7L1276.6,143.4M1286.2,119.8L1325.5,22.5M1325.5,22.5L1345.2,-26.3M1351.6,-42.1L1363.6,-71.9M1147.1,543.1L1157.3,517.8M1157.3,517.8L1201.0,409.7M1201.0,409.7L1223.9,352.9M1223.9,352.9L1259.9,263.8M1259.9,263.8L1285.9,199.6M1285.9,199.6L1322.6,108.7M1329.9,90.6L1340.7,63.8M1353.3,32.8L1379.0,-30.8M1379.0,-30.8L1415.6,-121.6M1169.6,542.5L1202.8,460.5M1202.8,460.5L1240.3,367.7M1240.3,367.7L1273.4,285.7M1273.4,285.7L1317.8,175.7M1317.8,175.7L1347.6,102.1M1354.7,84.4L1390.9,-5.0M1404.5,-38.9L1439.3,-124.9M1193.7,549.0L1214.9,496.4M1225.4,470.6L1261.0,382.4M1261.0,382.4L1296.9,293.5M1307.6,267.0L1325.6,222.5M1338.8,189.8L1361.5,133.7M1363.7,128.3L1378.0,92.9M1382.4,82.0L1409.4,15.0M1412.1,8.3L1422.8,-18.2M1422.8,-18.2L1466.7,-126.7M1206.8,573.2L1243.7,482.0M1246.2,475.7L1272.9,409.8M1272.9,409.8L1292.0,362.4M1292.0,362.4L1311.9,313.1M1311.9,313.1L1347.1,226.1M1347.1,226.1L1391.5,116.2M1391.5,116.2L1406.3,79.5M1406.3,79.5L1434.2,10.4M1434.2,10.4L1450.3,-29.4M1450.3,-29.4L1468.5,-74.3M1237.7,567.5L1258.5,516.0M1264.8,500.4L1287.3,444.8M1293.0,430.7L1309.0,391.1M1319.5,364.9L1350.5,288.4M1350.5,288.4L1392.6,184.2M1392.6,184.2L1404.9,153.6M1413.5,132.4L1448.9,44.7M1448.9,44.7L1459.9,17.5M1470.2,-8.1L1507.1,-99.4M1248.6,574.1L1284.2,486.0M1292.8,464.8L1322.6,390.9M1322.6,390.9L1338.8,350.9M1340.6,346.5L1359.5,299.7M1359.5,299.7L1382.7,242.2M1382.7,242.2L1421.1,147.2M1421.1,147.2L1445.1,87.9M1445.1,87.9L1484.0,-8.5M1487.6,-17.4L1528.8,-119.3M1264.5,584.9L1275.8,557.0M1275.8,557.0L1312.7,465.6M1323.6,438.6L1358.8,351.6M1368.9,326.6L1412.8,217.9M1412.8,217.9L1427.2,182.4M1427.2,182.4L1458.8,104.1M1458.8,104.1L1492.6,20.5M1492.6,20.5L1536.7,-88.6M1285.2,568.0L1296.7,539.6M1306.5,515.3L1330.1,457.0M1338.3,436.5L1354.2,397.2M1365.3,369.6L1384.0,323.4M1394.1,298.6L1421.5,230.7M1421.5,230.7L1462.4,129.5M1462.4,129.5L1476.0,95.7M1479.1,88.0L1512.8,4.7M1301.6,582.7L1310.2,561.3M1310.2,561.3L1333.2,504.4M1333.2,504.4L1344.6,476.3M1355.3,449.7L1375.0,400.9M1382.0,383.7L1426.4,273.8M1426.4,273.8L1465.1,178.0M1465.1,178.0L1504.7,80.0M1510.1,66.6L1536.9,0.3M1322.6,605.0L1364.1,502.4M1364.1,502.4L1373.1,480.1M1373.1,480.1L1410.3,388.0M1416.9,371.7L1448.6,293.3M1448.6,293.3L1475.9,225.6M1481.0,213.2L1521.0,114.1M1529.0,94.4L1558.6,21.1M1348.1,598.5L1387.1,501.8M1395.4,481.3L1431.1,393.0M1431.1,393.0L1458.4,325.3M1458.4,325.3L1490.1,246.9M1490.1,246.9L1531.1,145.5M1531.1,145.5L1575.7,35.0" stroke="#f3f3e5" stroke-width="2.2" fill="none" clip-path="url(#cBe)"/>
</g><g clip-path="url(#rSE)">
<path d="M1009.4,500.4L1094.8,440.5M1123.8,420.2L1192.3,372.3M1223.7,350.3L1261.0,324.2M1276.8,313.1L1341.4,267.9M1006.2,524.8L1087.7,467.7M1087.7,467.7L1171.6,409.0M1185.5,399.2L1240.3,360.9M1272.3,338.5L1340.7,290.5M1003.4,543.3L1033.0,522.6M1038.3,518.8L1100.8,475.1M1100.8,475.1L1127.6,456.3M1127.6,456.3L1147.3,442.5M1174.7,423.3L1209.2,399.2M1228.9,385.4L1281.0,348.9M1299.2,336.2L1355.1,297.0M1005.7,556.5L1055.5,521.6M1055.5,521.6L1123.4,474.0M1140.8,461.9L1175.2,437.8M1175.2,437.8L1220.3,406.2M1227.4,401.2L1251.3,384.5M1251.3,384.5L1340.0,322.4M1015.5,563.5L1109.7,497.5M1118.0,491.8L1181.1,447.5M1181.1,447.5L1241.8,405.1M1254.1,396.5L1311.0,356.6M1334.3,340.3L1387.4,303.1M1041.3,557.9L1091.9,522.5M1091.9,522.5L1166.3,470.4M1166.3,470.4L1232.6,424.0M1236.4,421.3L1313.9,367.1M1320.5,362.5L1403.3,304.5M1038.9,571.0L1068.7,550.2M1068.7,550.2L1107.3,523.2M1107.3,523.2L1173.8,476.5M1189.2,465.8L1284.7,398.9M1284.7,398.9L1313.8,378.5M1325.2,370.6L1349.2,353.8M1349.2,353.8L1422.5,302.4M1061.7,577.6L1092.2,556.3M1122.3,535.2L1165.5,505.0M1192.3,486.2L1230.3,459.6M1230.3,459.6L1303.3,408.5M1320.2,396.6L1360.3,368.6M1048.4,601.7L1135.1,541.1M1151.2,529.8L1209.8,488.7M1221.6,480.5L1298.9,426.4M1298.9,426.4L1343.3,395.3M1348.2,391.8L1404.6,352.3M1056.8,610.9L1148.0,547.0M1148.0,547.0L1193.9,514.9M1198.7,511.5L1223.0,494.5M1243.4,480.2L1302.5,438.8M1331.7,418.4L1403.0,368.5M1067.6,626.3L1157.9,563.0M1157.9,563.0L1248.8,499.5M1277.1,479.6L1374.1,411.7M1068.7,647.5L1143.0,595.4M1143.0,595.4L1220.8,541.0M1252.7,518.7L1275.1,502.9M1306.3,481.1L1362.1,442.0M1377.0,431.6L1444.5,384.3M1089.7,652.8L1136.1,620.3M1168.5,597.7L1210.0,568.6M1210.0,568.6L1270.6,526.1M1270.6,526.1L1301.4,504.6M1301.4,504.6L1325.9,487.5M1347.2,472.5L1439.5,407.9M1091.5,673.1L1123.8,650.5M1139.7,639.4L1237.4,570.9M1266.4,550.7L1320.7,512.7M1331.0,505.4L1421.8,441.8M1108.5,672.7L1182.3,621.1M1182.3,621.1L1226.5,590.1M1254.1,570.8L1342.4,509.0M1347.3,505.5L1440.6,440.2M1098.8,691.2L1124.4,673.2M1124.4,673.2L1162.2,646.7M1162.2,646.7L1190.5,626.9M1190.5,626.9L1208.7,614.2M1239.7,592.5L1277.2,566.3M1281.4,563.3L1369.2,501.8M1379.9,494.3L1442.2,450.7M1108.1,701.3L1142.3,677.4M1168.1,659.3L1192.9,642.0M1213.6,627.4L1237.7,610.6M1237.7,610.6L1305.5,563.1M1305.5,563.1L1398.7,497.9M1398.7,497.9L1458.2,456.2M1131.4,697.8L1229.6,629.0M1229.6,629.0L1315.9,568.6M1330.2,558.5L1381.3,522.8M1381.3,522.8L1428.0,490.1M1428.0,490.1L1456.5,470.2M1152.5,700.3L1170.3,687.9M1199.7,667.3L1252.1,630.6M1281.1,610.3L1332.4,574.3M1332.4,574.3L1393.5,531.6M1399.7,527.2L1487.2,466.0M1158.8,709.2L1243.9,649.6M1243.9,649.6L1323.5,593.8M1323.5,593.8L1342.7,580.4M1356.0,571.1L1445.7,508.3M1139.3,742.4L1193.2,704.6M1193.2,704.6L1269.1,651.5M1301.4,628.8L1383.8,571.1M1413.1,550.6L1479.4,504.2M1167.3,736.7L1242.3,684.2M1256.1,674.6L1321.7,628.6M1321.7,628.6L1394.3,577.8M1394.3,577.8L1466.9,527.0M1466.9,527.0L1531.5,481.8M1175.8,742.3L1271.1,675.6M1271.1,675.6L1334.4,631.3M1334.4,631.3L1397.1,587.4M1397.1,587.4L1458.3,544.5M1458.3,544.5L1549.8,480.4M1174.1,762.5L1235.8,719.3M1249.9,709.4L1284.9,684.9M1294.8,678.0L1388.3,612.5M1417.4,592.1L1472.4,553.6M1472.4,553.6L1537.4,508.1M1174.0,777.2L1213.8,749.3M1228.4,739.0L1246.9,726.1M1246.9,726.1L1329.5,668.3M1357.5,648.7L1377.9,634.4M1377.9,634.4L1442.7,589.0M1442.7,589.0L1539.4,521.3M1196.5,783.5L1220.4,766.8M1227.0,762.1L1305.2,707.4M1318.9,697.8L1376.1,657.8M1376.1,657.8L1432.0,618.6M1432.0,618.6L1478.5,586.1M1478.5,586.1L1558.6,530.0M1185.1,805.1L1280.9,738.1M1296.8,726.9L1390.2,661.5M1412.9,645.6L1488.1,593.0M1494.7,588.4L1591.5,520.6M1210.1,807.6L1266.7,768.0M1266.7,768.0L1285.0,755.1M1296.8,746.9L1365.7,698.7M1365.7,698.7L1402.4,673.0M1412.8,665.6L1499.2,605.1M1499.2,605.1L1527.5,585.3M1199.0,831.8L1241.4,802.1M1241.4,802.1L1335.7,736.1M1362.0,717.7L1454.8,652.7M1463.7,646.5L1507.4,615.9M1215.0,844.9L1254.1,817.5M1254.1,817.5L1330.3,764.1M1350.2,750.2L1417.5,703.1M1417.5,703.1L1462.9,671.3M1483.1,657.1L1530.3,624.1" stroke="#f3f3e5" stroke-width="2.2" fill="none" clip-path="url(#cBe)"/>
<path d="M1287.0,299.8L1310.2,333.0M1310.2,333.0L1325.0,354.1M1325.0,354.1L1380.3,433.1M1396.7,456.5L1437.0,514.0M1437.0,514.0L1503.2,608.6M1503.2,608.6L1538.1,658.5M1287.4,337.1L1300.6,355.8M1300.6,355.8L1324.8,390.4M1339.4,411.3L1399.0,496.4M1399.0,496.4L1431.4,542.6M1431.4,542.6L1444.6,561.5M1444.6,561.5L1472.9,602.0M1472.9,602.0L1491.5,628.5M1494.0,632.0L1539.9,697.6M1267.1,345.4L1302.9,396.5M1302.9,396.5L1325.9,429.3M1325.9,429.3L1351.7,466.2M1351.7,466.2L1385.2,514.1M1398.2,532.6L1413.1,553.9M1426.6,573.2L1479.0,648.1M1253.1,351.8L1321.4,449.3M1334.9,468.7L1352.3,493.6M1352.3,493.6L1417.8,587.1M1417.8,587.1L1462.7,651.2M1226.1,336.6L1245.2,363.9M1245.2,363.9L1276.7,408.8M1276.7,408.8L1331.8,487.5M1331.8,487.5L1395.6,578.7M1395.6,578.7L1427.0,623.5M1437.4,638.3L1450.7,657.3M1232.3,375.7L1279.4,442.9M1279.4,442.9L1318.2,498.3M1318.2,498.3L1376.5,581.5M1379.2,585.4L1415.3,636.9M1426.4,652.8L1441.5,674.5M1195.6,355.5L1208.3,373.6M1208.3,373.6L1244.0,424.7M1265.7,455.7L1305.3,512.2M1305.3,512.2L1354.0,581.7M1354.0,581.7L1388.2,630.5M1410.4,662.3L1447.1,714.7M1202.4,397.2L1236.9,446.5M1236.9,446.5L1288.5,520.2M1288.5,520.2L1337.5,590.1M1337.5,590.1L1402.2,682.5M1407.5,690.0L1432.8,726.3M1171.7,381.4L1211.8,438.7M1232.9,468.9L1285.4,543.8M1292.1,553.4L1347.0,631.8M1364.5,656.7L1378.1,676.2M1378.1,676.2L1428.6,748.3M1170.9,417.1L1238.9,514.2M1251.2,531.8L1269.3,557.7M1269.3,557.7L1292.6,590.9M1296.1,595.9L1308.5,613.6M1314.8,622.6L1356.3,681.9M1356.3,681.9L1409.1,757.4M1138.5,407.3L1187.2,476.8M1187.2,476.8L1231.9,540.7M1235.3,545.5L1261.7,583.3M1261.7,583.3L1276.5,604.3M1291.2,625.4L1320.3,667.0M1320.3,667.0L1345.1,702.4M1352.6,713.1L1405.1,788.0M1140.0,427.5L1195.2,506.4M1199.4,512.4L1211.7,529.9M1211.7,529.9L1228.9,554.4M1232.4,559.5L1296.0,650.3M1296.0,650.3L1351.1,729.0M1351.1,729.0L1408.9,811.6M1124.0,437.7L1179.3,516.7M1179.3,516.7L1197.5,542.8M1219.3,573.9L1267.8,643.1M1278.7,658.7L1345.0,753.3M1105.6,448.7L1138.2,495.3M1146.0,506.5L1197.1,579.4M1210.8,599.0L1275.2,690.9M1275.2,690.9L1306.8,736.1M1319.4,754.0L1333.6,774.4M1087.4,451.5L1115.9,492.3M1115.9,492.3L1152.9,545.2M1159.5,554.5L1175.5,577.4M1182.6,587.5L1236.5,664.5M1236.5,664.5L1259.1,696.8M1267.0,708.1L1317.6,780.4M1085.7,469.4L1130.2,533.0M1152.9,565.5L1193.5,623.5M1210.0,646.9L1276.0,741.2M1276.0,741.2L1340.4,833.2M1070.7,472.8L1086.0,494.6M1086.0,494.6L1126.3,552.2M1134.9,564.4L1182.1,631.9M1182.1,631.9L1246.3,723.6M1267.1,753.2L1307.7,811.2M1054.2,487.9L1098.1,550.6M1107.4,563.9L1161.6,641.2M1164.4,645.3L1225.1,732.0M1242.7,757.0L1274.1,802.0M1044.9,504.6L1090.0,569.0M1103.8,588.7L1158.4,666.7M1158.4,666.7L1170.8,684.3M1170.8,684.3L1233.5,773.9M1239.1,781.9L1258.8,810.0M1023.8,511.6L1057.8,560.2M1066.5,572.6L1111.9,637.4M1122.4,652.4L1145.6,685.5M1151.2,693.5L1199.1,762.0M1204.5,769.7L1269.6,862.7M994.7,499.7L1026.9,545.6M1026.9,545.6L1082.5,625.0M1092.8,639.8L1120.1,678.7M1120.1,678.7L1149.7,721.0M1149.7,721.0L1216.4,816.3M987.1,526.1L1051.9,618.6M1063.9,635.7L1095.8,681.3M1117.8,712.7L1132.7,734.0M1155.3,766.3L1182.0,804.4M1182.0,804.4L1243.6,892.3M960.4,521.9L1006.7,588.1M1006.7,588.1L1070.1,678.6M1070.1,678.6L1109.3,734.5M1109.3,734.5L1175.8,829.6M1175.8,829.6L1201.9,866.8" stroke="#f3f3e5" stroke-width="2.2" fill="none" clip-path="url(#cBe)"/>
</g><g clip-path="url(#rS)">
<path d="M809.6,511.1L912.3,473.7M936.1,465.1L994.7,443.7M994.7,443.7L1025.7,432.4M1044.5,425.6L1084.1,411.2M1088.7,409.5L1115.6,399.8M1115.6,399.8L1173.9,378.5M1173.9,378.5L1261.7,346.6M1267.4,344.5L1359.8,310.9M804.5,535.2L914.5,495.1M943.9,484.4L997.4,465.0M997.4,465.0L1078.2,435.5M1084.9,433.1L1148.3,410.1M1148.3,410.1L1222.5,383.0M1248.0,373.7L1283.9,360.7M1298.6,355.3L1394.1,320.6M786.9,554.9L831.6,538.6M831.6,538.6L927.5,503.7M943.7,497.8L989.6,481.1M1019.7,470.1L1090.1,444.5M1097.5,441.8L1189.9,408.2M1189.9,408.2L1286.6,373.0M1308.8,364.9L1413.9,326.7M800.3,576.8L910.7,536.6M928.6,530.1L949.5,522.5M949.5,522.5L1032.9,492.1M1032.9,492.1L1127.3,457.7M1127.3,457.7L1196.8,432.5M1196.8,432.5L1285.9,400.0M1322.7,386.7L1376.9,366.9M807.6,593.3L914.1,554.5M914.1,554.5L953.2,540.3M974.8,532.4L1009.6,519.8M1009.6,519.8L1104.7,485.1M1122.8,478.6L1226.2,440.9M1241.6,435.3L1344.2,398.0M1344.2,398.0L1447.1,360.5M832.1,602.6L928.9,567.4M928.9,567.4L970.1,552.4M987.7,546.0L1079.0,512.8M1079.0,512.8L1149.5,487.1M1149.5,487.1L1178.4,476.6M1178.4,476.6L1228.5,458.4M1228.5,458.4L1325.8,423.0M1361.7,409.9L1387.9,400.4M821.4,626.9L892.9,600.9M911.9,594.0L998.2,562.5M1014.7,556.5L1107.3,522.8M1140.4,510.8L1178.3,497.0M1178.3,497.0L1213.4,484.2M1231.5,477.6L1257.9,468.0M1257.9,468.0L1321.9,444.7M1321.9,444.7L1391.3,419.5M830.2,643.8L933.5,606.2M966.9,594.0L1066.8,557.7M1096.9,546.7L1178.9,516.9M1178.9,516.9L1225.1,500.0M1240.7,494.4L1287.9,477.2M1287.9,477.2L1338.8,458.7M1356.7,452.2L1452.2,417.4M834.6,658.0L861.7,648.1M874.4,643.5L973.3,607.5M973.3,607.5L1002.5,596.9M1010.3,594.0L1082.3,567.8M1115.1,555.9L1158.3,540.2M1158.3,540.2L1200.3,524.9M1200.3,524.9L1278.7,496.3M1309.8,485.0L1354.5,468.8M1363.2,465.6L1460.7,430.1M855.5,668.4L901.8,651.5M936.5,638.9L1016.8,609.7M1053.6,596.3L1158.1,558.3M1162.5,556.7L1238.7,528.9M1267.2,518.5L1330.1,495.7M1330.1,495.7L1402.4,469.3M860.6,691.4L934.9,664.3M943.2,661.3L970.7,651.3M970.7,651.3L1008.9,637.4M1023.3,632.1L1100.4,604.1M1100.4,604.1L1199.9,567.9M1215.9,562.1L1295.9,532.9M1295.9,532.9L1401.6,494.4M883.6,710.4L914.5,699.1M944.5,688.2L1041.4,652.9M1058.5,646.7L1145.3,615.1M1145.3,615.1L1214.4,590.0M1231.9,583.6L1256.2,574.7M1274.4,568.1L1370.6,533.1M1370.6,533.1L1428.3,512.1M870.6,737.5L905.7,724.7M905.7,724.7L978.6,698.2M978.6,698.2L1047.8,673.0M1047.8,673.0L1106.8,651.6M1106.8,651.6L1211.9,613.3M1211.9,613.3L1292.8,583.8M1298.7,581.7L1396.4,546.1M1413.1,540.0L1437.3,531.2M890.5,757.5L975.9,726.4M975.9,726.4L1020.3,710.3M1044.5,701.5L1069.2,692.5M1069.2,692.5L1136.4,668.0M1136.4,668.0L1166.6,657.0M1186.3,649.9L1218.8,638.0M1218.8,638.0L1266.7,620.6M1266.7,620.6L1356.0,588.1M1356.0,588.1L1424.7,563.1M881.5,788.1L927.0,771.5M949.3,763.5L1042.4,729.6M1078.7,716.3L1099.6,708.7M1099.6,708.7L1171.9,682.4M1171.9,682.4L1205.1,670.3M1205.1,670.3L1312.9,631.1M1312.9,631.1L1342.2,620.4M1342.2,620.4L1452.2,580.4M878.7,802.1L972.2,768.1M972.2,768.1L1080.9,728.5M1080.9,728.5L1147.8,704.2M1170.9,695.7L1283.0,655.0M1283.0,655.0L1384.1,618.2M1412.7,607.8L1500.3,575.9M888.4,813.1L913.0,804.1M913.0,804.1L945.1,792.4M945.1,792.4L963.9,785.6M963.9,785.6L1054.1,752.8M1054.1,752.8L1126.6,726.4M1126.6,726.4L1205.2,697.8M1235.9,686.6L1288.0,667.7M1288.0,667.7L1354.9,643.3M1354.9,643.3L1412.7,622.3M1412.7,622.3L1439.1,612.6M918.5,823.6L956.8,809.7M956.8,809.7L1050.3,775.6M1058.8,772.5L1132.4,745.7M1132.4,745.7L1208.9,717.9M1229.8,710.3L1324.7,675.8M1324.7,675.8L1393.9,650.6M1393.9,650.6L1500.3,611.9M905.2,853.5L980.4,826.2M980.4,826.2L1066.7,794.8M1066.7,794.8L1171.5,756.6M1192.5,749.0L1244.9,729.9M1265.6,722.4L1376.8,681.9M1376.8,681.9L1404.9,671.7M1421.2,665.8L1523.1,628.6M911.1,871.9L933.5,863.7M933.5,863.7L1045.4,823.0M1045.4,823.0L1133.4,791.0M1156.1,782.7L1234.8,754.1M1234.8,754.1L1295.6,732.0M1330.7,719.2L1374.5,703.3M1374.5,703.3L1436.9,680.5M1436.9,680.5L1487.4,662.1M937.8,881.5L994.6,860.9M994.6,860.9L1048.7,841.2M1048.7,841.2L1083.9,828.4M1083.9,828.4L1191.4,789.2M1224.2,777.3L1316.1,743.8M1316.1,743.8L1344.9,733.4M1344.9,733.4L1436.2,700.1M1436.2,700.1L1545.5,660.4M949.8,899.0L982.1,887.2M1003.8,879.3L1071.7,854.6M1071.7,854.6L1150.3,826.0M1150.3,826.0L1227.5,797.9M1227.5,797.9L1283.9,777.4M1283.9,777.4L1359.1,750.0M1374.3,744.5L1407.5,732.4M1422.7,726.9L1469.7,709.8M955.4,914.3L1047.6,880.7M1047.6,880.7L1146.0,844.9M1153.6,842.1L1229.7,814.4M1266.8,800.9L1325.5,779.5M1325.5,779.5L1367.4,764.3M1392.4,755.2L1476.3,724.7M955.2,941.6L1066.2,901.2M1066.2,901.2L1098.9,889.3M1098.9,889.3L1187.8,856.9M1187.8,856.9L1238.5,838.5M1238.5,838.5L1312.6,811.5M1312.6,811.5L1336.2,802.9M1350.6,797.7L1443.8,763.7M1449.6,761.6L1479.3,750.8M950.9,968.7L979.2,958.4M979.2,958.4L1029.3,940.1M1029.3,940.1L1118.3,907.7M1146.9,897.3L1223.9,869.3M1223.9,869.3L1314.3,836.4M1314.3,836.4L1403.3,804.0M1424.1,796.4L1515.5,763.2M976.8,982.6L1073.1,947.6M1073.1,947.6L1152.0,918.8M1171.9,911.6L1259.0,879.9M1259.0,879.9L1357.5,844.0M1369.1,839.8L1471.1,802.7M1471.1,802.7L1507.9,789.3M955.9,1011.1L1067.7,970.4M1067.7,970.4L1157.8,937.6M1157.8,937.6L1200.7,922.0M1200.7,922.0L1235.6,909.3M1235.6,909.3L1295.3,887.6M1295.3,887.6L1324.9,876.8M1341.8,870.7L1360.7,863.8M1397.1,850.6L1497.2,814.1M965.7,1022.8L1044.4,994.2M1055.0,990.4L1081.8,980.6M1092.1,976.8L1196.6,938.8M1218.6,930.8L1257.4,916.7M1257.4,916.7L1276.4,909.8M1305.2,899.3L1326.4,891.6M1341.2,886.2L1405.5,862.8M1405.5,862.8L1431.8,853.2M1431.8,853.2L1475.9,837.1M1475.9,837.1L1507.2,825.8M1517.5,822.0L1544.2,812.3M993.0,1026.0L1061.4,1001.1M1082.4,993.5L1177.3,958.9M1182.6,957.0L1264.0,927.4M1284.9,919.8L1362.4,891.6M1362.4,891.6L1381.2,884.7M1395.6,879.5L1468.9,852.8M1498.2,842.1L1606.9,802.6M999.5,1046.0L1097.6,1010.3M1097.6,1010.3L1162.2,986.8M1192.8,975.6L1290.9,939.9M1290.9,939.9L1339.2,922.3M1339.2,922.3L1416.6,894.2M1446.9,883.1L1486.8,868.6M1521.1,856.1L1545.1,847.4M995.4,1065.5L1079.1,1035.0M1079.1,1035.0L1118.6,1020.7M1139.7,1013.0L1179.5,998.5M1187.0,995.8L1214.3,985.9M1214.3,985.9L1237.9,977.2M1254.8,971.1L1282.5,961.0M1282.5,961.0L1386.0,923.3M1417.1,912.0L1452.4,899.2M1452.4,899.2L1476.9,890.3M1476.9,890.3L1583.3,851.5" stroke="#f2f1e4" stroke-width="2.2" fill="none" clip-path="url(#cBe)"/>
<path d="M1317.5,335.5L1330.6,371.5M1330.6,371.5L1344.0,408.5M1344.0,408.5L1354.0,435.9M1354.0,435.9L1366.0,469.0M1366.0,469.0L1397.6,555.8M1397.6,555.8L1419.6,616.1M1419.6,616.1L1460.2,727.7M1467.9,749.0L1507.6,857.8M1507.6,857.8L1529.6,918.3M1303.7,337.2L1339.3,435.2M1344.7,450.0L1362.0,497.5M1362.0,497.5L1381.4,550.8M1381.4,550.8L1419.9,656.5M1432.3,690.5L1441.5,715.9M1451.0,742.1L1485.2,836.0M1485.2,836.0L1526.0,948.0M1287.6,342.3L1326.1,448.0M1333.6,468.4L1345.7,501.7M1353.0,521.7L1382.7,603.5M1382.7,603.5L1394.1,634.6M1394.1,634.6L1435.0,747.1M1435.0,747.1L1460.0,815.9M1469.2,841.0L1484.9,884.4M1260.6,337.2L1294.6,430.6M1301.7,450.3L1337.0,547.2M1340.7,557.2L1367.2,630.0M1379.3,663.3L1394.7,705.5M1396.7,711.2L1419.0,772.4M1425.9,791.3L1458.9,881.9M1243.0,361.4L1268.3,430.9M1268.3,430.9L1289.1,488.1M1293.2,499.4L1310.4,546.6M1315.9,561.8L1353.8,665.8M1353.8,665.8L1382.6,744.8M1387.2,757.5L1412.6,827.3M1412.6,827.3L1433.8,885.5M1433.8,885.5L1471.6,989.3M1212.1,351.7L1243.7,438.3M1245.3,442.7L1267.9,504.9M1279.0,535.2L1314.7,633.5M1314.7,633.5L1352.3,736.8M1359.1,755.6L1372.0,790.9M1383.5,822.5L1392.1,846.2M1392.1,846.2L1418.0,917.3M1208.1,378.2L1242.1,471.6M1245.7,481.6L1257.3,513.6M1257.3,513.6L1266.9,539.8M1266.9,539.8L1290.7,605.2M1290.7,605.2L1306.2,647.9M1306.2,647.9L1328.6,709.3M1328.6,709.3L1349.5,766.7M1349.5,766.7L1385.3,865.1M1385.3,865.1L1403.8,915.9M1195.4,385.4L1211.9,430.7M1211.9,430.7L1226.7,471.3M1226.7,471.3L1242.0,513.5M1252.6,542.6L1280.3,618.5M1280.3,618.5L1295.2,659.7M1297.4,665.5L1311.5,704.4M1311.5,704.4L1337.6,776.2M1343.2,791.5L1376.0,881.7M1376.0,881.7L1388.2,915.1M1167.1,385.7L1181.7,425.8M1186.8,439.9L1216.9,522.6M1216.9,522.6L1231.9,563.8M1236.2,575.5L1275.4,683.2M1275.4,683.2L1314.3,790.3M1323.5,815.5L1349.8,887.7M1349.8,887.7L1369.1,940.7M1136.6,387.3L1154.9,437.3M1161.7,456.1L1200.2,561.8M1207.1,580.8L1233.2,652.6M1235.9,660.0L1260.5,727.6M1260.5,727.6L1297.2,828.3M1308.2,858.6L1343.5,955.6M1115.0,381.8L1145.9,466.7M1145.9,466.7L1160.1,505.6M1162.8,513.2L1198.0,609.9M1198.0,609.9L1222.5,677.2M1222.5,677.2L1253.5,762.5M1261.3,783.8L1283.5,844.7M1283.5,844.7L1295.9,878.9M1295.9,878.9L1307.6,911.1M1307.6,911.1L1345.0,1013.6M1107.9,397.7L1131.4,462.2M1131.4,462.2L1154.9,526.6M1154.9,526.6L1186.6,613.9M1186.6,613.9L1205.4,665.6M1214.7,691.0L1225.3,720.3M1225.3,720.3L1238.3,756.0M1238.3,756.0L1271.4,846.8M1271.4,846.8L1285.1,884.5M1291.6,902.5L1331.8,1012.8M1084.1,387.4L1109.4,456.9M1116.5,476.5L1148.7,564.8M1148.7,564.8L1163.9,606.6M1163.9,606.6L1189.1,675.8M1189.1,675.8L1196.0,694.9M1205.7,721.4L1231.6,792.6M1231.6,792.6L1256.5,861.1M1256.5,861.1L1288.5,949.1M1071.2,428.0L1097.7,500.9M1103.7,517.2L1140.0,617.0M1140.0,617.0L1168.0,694.0M1171.3,703.2L1200.6,783.6M1204.3,793.7L1244.3,903.7M1257.1,938.8L1285.2,1016.0M1037.2,410.4L1051.8,450.6M1051.8,450.6L1073.5,510.2M1073.5,510.2L1105.9,599.2M1105.9,599.2L1137.3,685.6M1137.3,685.6L1153.6,730.3M1153.6,730.3L1164.8,760.9M1164.8,760.9L1198.8,854.5M1200.2,858.4L1238.3,963.1M1020.1,413.9L1035.8,456.9M1047.6,489.3L1080.7,580.4M1080.7,580.4L1092.6,613.0M1095.2,620.1L1131.0,718.6M1131.0,718.6L1170.3,826.6M1170.3,826.6L1198.1,903.0M1200.9,910.6L1208.9,932.5M1208.9,932.5L1248.6,1041.6M1007.0,435.0L1044.0,536.6M1054.4,565.2L1081.8,640.3M1087.9,657.3L1100.2,691.0M1105.2,704.8L1145.9,816.5M1145.9,816.5L1153.0,836.1M1153.0,836.1L1164.7,868.2M1164.7,868.2L1203.0,973.5M1203.0,973.5L1240.2,1075.6M978.4,424.5L993.9,467.2M993.9,467.2L1021.1,542.0M1021.1,542.0L1033.8,576.8M1033.8,576.8L1060.4,649.9M1060.4,649.9L1071.4,680.0M1079.1,701.2L1111.7,790.9M1111.7,790.9L1140.5,870.0M1140.5,870.0L1159.4,921.9M1172.8,958.8L1202.6,1040.6M962.2,465.9L993.7,552.5M993.7,552.5L1013.6,607.4M1013.6,607.4L1040.2,680.4M1046.5,697.7L1055.0,721.1M1055.0,721.1L1095.2,831.4M1108.2,867.2L1119.5,898.3M1133.1,935.6L1161.6,1013.9M948.5,464.8L975.4,538.8M975.4,538.8L1005.4,621.1M1017.6,654.7L1050.6,745.3M1050.6,745.3L1065.3,785.8M1075.6,814.0L1113.9,919.4M1113.9,919.4L1129.1,961.1M1133.4,973.0L1156.8,1037.2M918.6,453.6L956.8,558.4M956.8,558.4L977.4,615.1M987.0,641.5L1004.9,690.7M1017.5,725.2L1038.0,781.6M1042.9,795.0L1083.8,907.3M1091.0,927.0L1106.4,969.5M1109.4,977.7L1118.3,1002.0M904.1,485.7L940.8,586.7M949.1,609.3L960.8,641.5M966.9,658.4L987.2,714.1M987.2,714.1L1008.6,772.8M1017.3,796.9L1033.1,840.1M1033.1,840.1L1043.6,869.0M1045.8,875.0L1062.8,921.7M1062.8,921.7L1072.3,948.0M1072.3,948.0L1109.9,1051.1M882.3,499.2L918.3,598.0M918.3,598.0L939.7,656.8M942.6,664.7L951.2,688.5M951.2,688.5L967.8,733.9M975.0,753.8L986.8,786.3M986.8,786.3L1026.2,894.5M1028.0,899.4L1040.6,933.9M1052.9,967.7L1092.0,1075.3M852.5,473.1L888.0,570.7M892.6,583.3L924.5,670.9M924.5,670.9L937.7,707.2M937.7,707.2L966.9,787.4M966.9,787.4L981.7,828.1M981.7,828.1L989.4,849.4M989.4,849.4L997.0,870.1M997.0,870.1L1024.0,944.3M1024.0,944.3L1043.5,998.0M1043.5,998.0L1051.6,1020.1M1053.1,1024.2L1081.4,1101.9M829.8,490.7L849.1,543.7M849.1,543.7L868.6,597.3M868.6,597.3L909.2,709.0M913.5,720.8L920.7,740.6M929.4,764.4L969.8,875.4M969.8,875.4L1001.3,961.9M1014.1,997.0L1035.7,1056.5M824.2,520.8L844.3,575.9M856.3,608.9L885.9,690.2M892.8,709.2L924.9,797.4M932.8,819.1L956.6,884.6M962.3,900.2L978.0,943.2M978.0,943.2L1007.3,1023.9M1010.7,1033.2L1031.0,1089.0M799.9,515.7L830.7,600.4M832.9,606.4L862.3,687.1M862.3,687.1L880.6,737.4M880.6,737.4L892.4,769.8M901.5,794.9L921.5,849.8M921.5,849.8L931.5,877.1M940.4,901.7L962.1,961.3M964.4,967.7L982.0,1015.9M994.2,1049.5L1003.3,1074.6M770.8,520.9L783.3,555.4M783.3,555.4L821.9,661.3M832.2,689.6L846.2,728.1M851.9,743.7L879.5,819.8M879.5,819.8L891.9,853.7M896.4,866.0L925.3,945.5M925.3,945.5L950.5,1014.8M950.5,1014.8L973.8,1078.8" stroke="#f2f1e4" stroke-width="2.2" fill="none" clip-path="url(#cBe)"/>
</g>
<path d="M683.8,70.0 L683.8,130.0 L732.4,339.7 L845.0,775.0 L850.0,830.0" stroke="#e3f2ea" stroke-width="6" fill="none" stroke-linejoin="round" stroke-linecap="round" />
<path d="M640.0,70.0 L637.2,137.8 L610.0,246.5 L598.4,363.0 L555.7,440.7 L478.0,600.0" stroke="#e3f2ea" stroke-width="5" fill="none" stroke-linejoin="round" stroke-linecap="round" />
<path d="M478.0,300.0 L560.0,270.0 L640.0,250.0 L700.0,262.0 L760.0,250.0 L800.0,230.0" stroke="#e3f2ea" stroke-width="3" fill="none" stroke-linejoin="round" stroke-linecap="round" />
<path d="M652.8,547.0 L748.0,676.0" stroke="#e3f2ea" stroke-width="5" fill="none" stroke-linejoin="round" stroke-linecap="round" />
<path d="M478.0,659.0 L560.0,600.0 L648.0,548.5 L700.0,520.0" stroke="#e3f2ea" stroke-width="5" fill="none" stroke-linejoin="round" stroke-linecap="round" />
<path d="M478.0,605.0 L560.0,622.0 L620.0,640.0 L700.0,667.0 L760.0,690.0" stroke="#e3f2ea" stroke-width="5" fill="none" stroke-linejoin="round" stroke-linecap="round" />
<path d="M625.7,540.0 L660.0,565.0 L698.7,596.0" stroke="#e3f2ea" stroke-width="4" fill="none" stroke-linejoin="round" stroke-linecap="round" />
<path d="M760.0,70.0 L800.0,120.0 L830.0,180.0 L860.0,230.0" stroke="#e3f2ea" stroke-width="3" fill="none" stroke-linejoin="round" stroke-linecap="round" />
<path d="M655.0,545.0 L676.0,521.0 L781.0,515.0 L823.0,676.0 L748.0,676.0 Z" fill="#d5e8df"/>
<path d="M715.5,541.0 L762.9,622.9" stroke="#c4dfca" stroke-width="36" fill="none" stroke-linejoin="round" stroke-linecap="round" />
<path d="M729.5,349.0 L847.0,779.0" stroke="#e2f1ea" stroke-width="5" fill="none" stroke-linejoin="round" stroke-linecap="round" />
<path d="M660.0,408.0 L672.0,406.0 L674.0,428.0 L661.0,429.0 Z" fill="#c2dcc4"/>
<path d="M1000.0,76.0 L1100.0,118.0 L1200.0,150.0 L1300.0,190.0 L1395.0,215.0" stroke="#f5f5e6" stroke-width="5" fill="none" stroke-linejoin="round" stroke-linecap="round" />
<path d="M1140.0,76.0 L1230.0,130.0 L1290.0,170.0 L1395.0,250.0" stroke="#f5f5e6" stroke-width="4" fill="none" stroke-linejoin="round" stroke-linecap="round" />
<path d="M1395.0,95.0 L1350.0,150.0 L1320.0,230.0 L1260.0,330.0" stroke="#f5f5e6" stroke-width="5" fill="none" stroke-linejoin="round" stroke-linecap="round" />
<path d="M1200.0,500.0 L1240.0,560.0 L1288.0,624.0" stroke="#f5f5e6" stroke-width="4" fill="none" stroke-linejoin="round" stroke-linecap="round" />
<path d="M957.0,830.0 L1009.0,748.0" stroke="#f5f5e6" stroke-width="6" fill="none" stroke-linejoin="round" stroke-linecap="round" />
<path d="M1175.4,695.0 L1219.0,830.0" stroke="#f5f5e6" stroke-width="6" fill="none" stroke-linejoin="round" stroke-linecap="round" />
<path d="M1060.0,830.0 L1300.0,725.0 L1395.0,688.0" stroke="#f5f5e6" stroke-width="5" fill="none" stroke-linejoin="round" stroke-linecap="round" />
<path d="M930.0,826.0 L1100.0,804.0 L1300.0,780.0 L1395.0,766.0" stroke="#f5f5e6" stroke-width="4" fill="none" stroke-linejoin="round" stroke-linecap="round" />
<path d="M964.7,70.0C964.8,72.7 964.5,81.5 965.5,86.0C966.5,90.5 958.1,90.2 971.0,97.0C983.9,103.8 1021.5,118.2 1043.0,126.7C1064.5,135.2 1083.8,141.7 1100.0,148.0C1116.2,154.3 1130.0,160.1 1140.0,164.7C1150.0,169.2 1156.7,173.5 1160.0,175.3" stroke="#c6c9c0" stroke-width="5" fill="none"/>
<path d="M1140.0,164.7C1143.3,166.5 1153.3,170.9 1160.0,175.3C1166.7,179.8 1171.6,185.9 1179.9,191.4C1188.2,196.9 1200.5,205.1 1209.7,208.3C1218.9,211.5 1227.0,211.0 1235.0,210.5C1243.0,210.0 1252.2,208.1 1257.5,205.3C1262.8,202.6 1264.2,198.1 1267.0,194.0C1269.8,189.9 1271.1,184.8 1274.4,180.5C1277.7,176.2 1281.2,171.5 1287.0,168.0C1292.8,164.5 1302.9,163.0 1309.2,159.6C1315.5,156.2 1321.7,152.9 1325.0,147.6C1328.3,142.3 1330.0,133.0 1329.0,127.7C1328.0,122.4 1324.7,118.6 1319.2,115.8C1313.7,113.0 1301.8,113.4 1296.0,110.8C1290.2,108.2 1286.8,106.7 1284.3,99.9C1281.8,93.1 1281.8,75.0 1281.3,70.0" stroke="#c6c9c0" stroke-width="7.5" fill="none"/>
<path d="M930.0,94.0 L990.0,129.0 L1062.0,186.0 L1140.0,229.0 L1212.0,268.0 L1245.0,285.0" stroke="#a9a9a0" stroke-width="7" fill="none" stroke-linejoin="round"  stroke-dasharray="1 4" stroke-opacity="0.55" stroke-linecap="butt"/>
<path d="M930.0,91.5 L990.0,126.5 L1062.0,183.5 L1140.0,226.5 L1212.0,265.5 L1245.0,282.5" stroke="#a9a9a0" stroke-width="0.8" fill="none" stroke-linejoin="round" stroke-linecap="round" stroke-opacity="0.6"/>
<path d="M930.0,96.5 L990.0,131.5 L1062.0,188.5 L1140.0,231.5 L1212.0,270.5 L1245.0,287.5" stroke="#a9a9a0" stroke-width="0.8" fill="none" stroke-linejoin="round" stroke-linecap="round" stroke-opacity="0.6"/>
<path d="M935.0,92.0 L985.0,112.0 L1030.0,140.0 L1075.0,170.0" stroke="#a9a9a0" stroke-width="6" fill="none" stroke-linejoin="round"  stroke-dasharray="1 4" stroke-opacity="0.45" stroke-linecap="butt"/>
<path d="M935.0,92.0 L985.0,112.0 L1030.0,140.0 L1075.0,170.0" stroke="#a9a9a0" stroke-width="0.8" fill="none" stroke-linejoin="round" stroke-linecap="round" stroke-opacity="0.5"/>
<path d="M920.0,152.7 L1081.5,241.0 L1187.0,299.0 L1210.0,311.5 L1203.0,420.0 L1192.9,498.3 L1161.0,533.2 L1131.9,574.7 L1288.7,624.8 L1175.4,695.0 L1137.8,721.0 L1011.5,747.0 L851.5,778.5 L734.2,349.2 L822.7,257.0 Z" fill="#e3db95"/>
<ellipse cx="891" cy="727" rx="8" ry="13" fill="#d4cf88"/>
<path d="M920.0,152.7 L1081.5,241.0 L921.7,363.7 L897.0,383.0 L844.5,331.8 L839.0,305.5 L831.9,257.5 L822.7,257.0 Z" fill="#f1b68b"/>
<path d="M1081.5,241.0 L1187.0,299.0 L1058.9,347.9 L1067.7,370.7 L969.2,409.5 L921.7,363.7 Z" fill="#e3ae98"/>
<path d="M906.7,612.0 L973.8,575.7 L992.0,662.6 L921.8,678.0 Z" fill="#7dd7ae"/>
<path d="M1116.4,495.5 L1150.0,470.0 L1203.0,440.0 L1200.0,490.0 L1192.9,498.3 L1161.0,533.2 Z" fill="#7dd7ae"/>
<g stroke-opacity="0.16">
<path d="M761.7,-21.6L799.8,-7.7M799.8,-7.7L822.3,0.5M833.9,4.7L894.3,26.7M923.1,37.2L977.7,57.0M999.5,65.0L1041.0,80.1M1078.4,93.7L1098.2,100.9M1133.8,113.8L1172.5,127.9M1187.4,133.4L1223.8,146.6M1223.8,146.6L1250.7,156.4M1274.3,165.0L1321.8,182.3M1321.8,182.3L1387.1,206.1M1397.8,209.9L1463.0,233.7M1463.0,233.7L1478.9,239.5M1478.9,239.5L1546.1,263.9M782.9,0.0L841.6,21.4M867.0,30.7L894.5,40.7M909.6,46.2L944.2,58.7M969.8,68.1L1035.0,91.8M1035.0,91.8L1108.7,118.6M1108.7,118.6L1171.0,141.3M1180.8,144.8L1233.0,163.8M1259.5,173.5L1279.3,180.7M1314.3,193.4L1365.1,211.9M1365.1,211.9L1385.0,219.2M1419.6,231.8L1473.3,251.3M1473.3,251.3L1499.5,260.8M777.1,15.2L825.5,32.8M832.6,35.4L906.7,62.4M917.1,66.1L951.6,78.7M951.6,78.7L1017.9,102.8M1038.5,110.3L1100.8,133.0M1117.1,138.9L1168.6,157.7M1168.6,157.7L1185.1,163.7M1193.5,166.7L1251.9,188.0M1251.9,188.0L1325.4,214.8M1325.4,214.8L1355.1,225.5M1355.1,225.5L1429.3,252.6M1433.5,254.1L1470.5,267.6M1480.2,271.1L1497.0,277.2M766.9,22.8L793.6,32.6M825.1,44.0L857.4,55.8M876.6,62.8L933.1,83.4M966.0,95.3L1004.6,109.4M1032.6,119.6L1074.9,135.0M1074.9,135.0L1117.5,150.5M1125.4,153.4L1187.4,175.9M1187.4,175.9L1259.0,202.0M1259.0,202.0L1308.5,220.0M1341.2,231.9L1362.5,239.6M1371.0,242.7L1408.4,256.3M1426.5,262.9L1484.1,283.9M764.3,44.1L828.9,67.7M853.4,76.6L922.2,101.6M932.8,105.5L996.6,128.7M1014.0,135.0L1078.0,158.3M1088.5,162.1L1115.7,172.0M1143.0,182.0L1179.6,195.3M1179.6,195.3L1197.7,201.9M1222.6,211.0L1266.0,226.8M1301.4,239.7L1332.5,251.0M1337.4,252.7L1380.9,268.6M1400.7,275.8L1415.1,281.0M1431.8,287.1L1492.1,309.1M745.6,56.6L807.2,79.0M831.4,87.9L897.2,111.8M911.8,117.1L931.7,124.4M941.8,128.0L978.7,141.5M1014.3,154.4L1069.5,174.5M1102.3,186.5L1135.3,198.5M1162.0,208.2L1209.9,225.6M1227.6,232.0L1291.9,255.5M1319.6,265.5L1336.6,271.7M1336.6,271.7L1392.5,292.1M1429.5,305.6L1492.3,328.4M762.2,80.6L784.9,88.9M799.2,94.1L816.0,100.2M838.0,108.2L879.0,123.2M883.6,124.8L946.7,147.8M966.7,155.1L1010.0,170.8M1010.0,170.8L1079.1,196.0M1079.1,196.0L1137.6,217.3M1147.1,220.7L1166.6,227.8M1166.6,227.8L1184.2,234.2M1218.8,246.8L1252.5,259.1M1270.4,265.6L1342.2,291.7M1342.2,291.7L1407.5,315.5M1436.0,325.9L1477.7,341.0M751.9,98.5L811.1,120.0M811.1,120.0L851.4,134.7M881.7,145.7L923.5,160.9M947.1,169.5L1014.4,194.0M1014.4,194.0L1036.1,201.9M1047.6,206.1L1082.5,218.8M1082.5,218.8L1122.3,233.3M1135.3,238.0L1176.3,253.0M1176.3,253.0L1211.3,265.7M1222.7,269.9L1252.7,280.8M1252.7,280.8L1277.2,289.7M1277.2,289.7L1297.9,297.2M1297.9,297.2L1328.2,308.2M1328.2,308.2L1368.7,323.0M1375.6,325.5L1438.6,348.4M1458.8,355.8L1494.4,368.7M714.3,102.6L765.1,121.1M797.5,132.9L845.2,150.3M845.2,150.3L866.6,158.1M866.6,158.1L918.0,176.8M918.0,176.8L986.1,201.5M1009.9,210.2L1070.8,232.4M1093.0,240.5L1155.2,263.1M1177.3,271.1L1243.6,295.3M1243.6,295.3L1273.5,306.2M1298.1,315.1L1321.2,323.5M1321.2,323.5L1364.3,339.2M1395.7,350.6L1462.9,375.1M725.0,119.9L747.2,127.9M747.2,127.9L783.1,141.0M817.2,153.4L881.6,176.8M902.2,184.4L956.9,204.2M965.2,207.3L1031.7,231.5M1059.4,241.6L1118.6,263.1M1134.0,268.7L1200.5,292.9M1200.5,292.9L1218.9,299.6M1218.9,299.6L1271.9,318.9M1281.4,322.4L1301.5,329.7M1301.5,329.7L1367.4,353.6M1377.2,357.2L1395.8,364.0M1409.6,369.0L1426.9,375.3M1458.4,386.8L1476.5,393.4M704.9,125.6L723.5,132.4M760.2,145.7L827.0,170.0M827.0,170.0L896.0,195.1M908.2,199.6L975.4,224.1M975.4,224.1L1045.9,249.7M1063.7,256.2L1121.6,277.3M1121.6,277.3L1145.8,286.1M1150.0,287.6L1198.3,305.2M1198.3,305.2L1247.1,322.9M1274.2,332.8L1328.0,352.4M1362.7,365.0L1417.1,384.8M1432.5,390.4L1456.4,399.1M723.3,146.4L777.8,166.2M777.8,166.2L851.0,192.9M879.0,203.1L916.0,216.5M939.0,224.9L1013.0,251.8M1032.4,258.9L1067.1,271.5M1067.1,271.5L1139.2,297.8M1145.7,300.1L1196.1,318.5M1222.9,328.2L1284.4,350.6M1306.7,358.8L1367.7,380.9M1379.6,385.3L1435.7,405.7M1435.7,405.7L1507.4,431.8M711.2,156.8L735.0,165.5M735.0,165.5L773.1,179.3M773.1,179.3L845.6,205.7M871.6,215.2L922.4,233.7M927.4,235.5L998.8,261.5M998.8,261.5L1051.1,280.5M1085.3,293.0L1123.8,307.0M1146.4,315.2L1187.7,330.2M1187.7,330.2L1230.4,345.8M1230.4,345.8L1291.7,368.1M1291.7,368.1L1316.2,377.0M1352.1,390.0L1403.2,408.7M1436.8,420.9L1458.1,428.6M705.9,175.5L738.6,187.4M750.9,191.9L808.3,212.8M808.3,212.8L845.7,226.4M845.7,226.4L862.5,232.5M871.5,235.8L892.8,243.5M899.5,245.9L918.1,252.7M934.6,258.7L999.4,282.3M1007.3,285.2L1068.3,307.4M1068.3,307.4L1143.2,334.7M1152.6,338.1L1193.1,352.8M1193.1,352.8L1240.2,370.0M1240.2,370.0L1268.0,380.1M1295.0,389.9L1322.9,400.1M1354.6,411.6L1418.5,434.9M1418.5,434.9L1483.2,458.4M690.6,189.6L718.3,199.7M753.1,212.3L802.1,230.2M802.1,230.2L869.5,254.7M869.5,254.7L907.6,268.6M914.1,270.9L943.7,281.7M974.3,292.9L1028.8,312.7M1028.8,312.7L1067.1,326.6M1083.8,332.7L1101.0,338.9M1135.5,351.5L1199.4,374.8M1220.0,382.3L1279.6,404.0M1295.4,409.7L1345.3,427.9M1379.8,440.4L1395.1,446.0M1395.1,446.0L1450.1,466.0M700.4,216.7L727.4,226.6M734.3,229.1L786.8,248.2M801.3,253.5L858.4,274.2M866.9,277.3L929.7,300.2M929.7,300.2L993.1,323.2M1021.1,333.4L1087.9,357.8M1101.8,362.8L1137.6,375.9M1137.6,375.9L1172.2,388.5M1172.2,388.5L1202.0,399.3M1202.0,399.3L1242.7,414.1M1267.7,423.2L1332.0,446.6M1342.9,450.6L1383.9,465.5M1390.2,467.8L1454.9,491.3M704.2,234.3L762.4,255.5M789.9,265.5L804.0,270.6M827.5,279.2L860.4,291.1M888.0,301.2L931.0,316.8M931.0,316.8L990.4,338.5M990.4,338.5L1011.0,346.0M1011.0,346.0L1070.5,367.6M1077.1,370.0L1103.0,379.4M1126.0,387.8L1200.9,415.1M1214.0,419.8L1238.5,428.8M1238.5,428.8L1286.0,446.0M1320.5,458.6L1360.2,473.1M1360.2,473.1L1405.5,489.5M1415.6,493.2L1430.7,498.7M690.9,245.0L756.4,268.8M777.4,276.5L835.6,297.6M835.6,297.6L871.8,310.8M885.2,315.7L900.6,321.3M900.6,321.3L953.8,340.7M953.8,340.7L994.8,355.6M994.8,355.6L1043.0,373.1M1043.0,373.1L1090.8,390.5M1090.8,390.5L1141.5,409.0M1147.9,411.3L1212.0,434.7M1212.0,434.7L1257.3,451.1M1257.3,451.1L1282.5,460.3M1282.5,460.3L1327.4,476.6M1335.5,479.6L1351.2,485.3M1381.2,496.2L1424.5,512.0M685.0,268.0L717.5,279.8M733.7,285.7L761.9,295.9M761.9,295.9L777.4,301.6M812.5,314.4L872.8,336.3M872.8,336.3L937.7,360.0M937.7,360.0L968.3,371.1M968.3,371.1L1037.0,396.1M1045.4,399.1L1092.0,416.1M1129.5,429.7L1158.6,440.3M1158.6,440.3L1219.0,462.3M1219.0,462.3L1250.5,473.8M1250.5,473.8L1280.2,484.6M1280.2,484.6L1348.5,509.5M1354.1,511.5L1384.8,522.7M1394.8,526.3L1430.7,539.4M679.8,277.4L700.6,285.0M700.6,285.0L715.3,290.3M750.4,303.1L818.0,327.7M834.8,333.9L904.8,359.3M924.0,366.3L954.1,377.3M974.4,384.7L997.0,392.9M1033.7,406.2L1094.4,428.3M1102.8,431.4L1125.0,439.4M1125.0,439.4L1176.6,458.2M1213.0,471.5L1250.0,485.0M1275.3,494.2L1345.2,519.6M1366.2,527.3L1383.3,533.5M657.0,293.8L723.7,318.0M723.7,318.0L756.3,329.9M756.3,329.9L787.5,341.3M787.5,341.3L856.6,366.4M856.6,366.4L895.6,380.6M895.6,380.6L952.8,401.4M958.3,403.4L1013.1,423.4M1013.1,423.4L1066.4,442.8M1066.4,442.8L1139.3,469.3M1139.3,469.3L1175.2,482.4M1185.1,486.0L1212.8,496.1M1212.8,496.1L1253.9,511.0M1287.7,523.3L1350.5,546.2M1368.2,552.6L1414.8,569.6M669.4,318.2L691.7,326.3M705.8,331.4L751.5,348.0M772.6,355.7L807.9,368.6M839.6,380.1L886.8,397.3M886.8,397.3L932.6,414.0M932.6,414.0L983.9,432.6M1019.5,445.6L1055.6,458.7M1055.6,458.7L1105.6,476.9M1105.6,476.9L1125.4,484.1M1139.9,489.4L1203.9,512.7M1203.9,512.7L1270.5,537.0M1276.8,539.2L1350.4,566.0M1382.1,577.6L1432.3,595.9M639.6,328.5L677.2,342.2M704.8,352.2L760.4,372.5M760.4,372.5L807.3,389.5M815.2,392.4L856.3,407.3M883.3,417.2L899.1,422.9M924.4,432.1L986.4,454.7M986.4,454.7L1009.0,462.9M1009.0,462.9L1050.5,478.0M1077.4,487.8L1116.3,502.0M1116.3,502.0L1189.4,528.6M1211.8,536.8L1286.9,564.1M1286.9,564.1L1316.3,574.8M1316.3,574.8L1386.2,600.3M663.3,352.2L688.7,361.4M688.7,361.4L763.2,388.5M763.2,388.5L829.4,412.6M864.9,425.5L931.3,449.7M947.8,455.7L981.9,468.1M1005.0,476.5L1044.5,490.9M1044.5,490.9L1058.7,496.1M1058.7,496.1L1099.1,510.8M1099.1,510.8L1174.0,538.0M1174.0,538.0L1232.6,559.4M1260.0,569.3L1289.0,579.9M1289.0,579.9L1338.2,597.8M1349.0,601.7L1386.9,615.5M621.5,354.5L655.4,366.9M692.7,380.4L763.3,406.1M763.3,406.1L836.3,432.7M847.1,436.6L870.4,445.1M883.6,449.9L930.7,467.0M930.7,467.0L966.4,480.0M986.1,487.2L1058.1,513.4M1095.1,526.9L1128.0,538.9M1153.1,548.0L1211.1,569.1M1211.1,569.1L1232.5,576.9M1239.8,579.6L1301.2,601.9M1321.7,609.3L1338.0,615.3M1338.0,615.3L1411.4,642.0M618.9,371.4L634.8,377.2M634.8,377.2L697.8,400.1M730.9,412.2L745.2,417.4M745.2,417.4L769.0,426.0M784.1,431.5L818.4,444.0M818.4,444.0L863.3,460.3M894.5,471.7L935.0,486.4M950.4,492.1L1000.1,510.1M1000.1,510.1L1070.7,535.8M1086.9,541.7L1143.6,562.4M1172.2,572.8L1243.6,598.8M1270.9,608.7L1299.7,619.2M1299.7,619.2L1325.4,628.5M1357.8,640.4L1412.0,660.1M618.5,388.3L636.5,394.8M636.5,394.8L699.0,417.6M699.0,417.6L717.9,424.5M737.5,431.6L757.7,439.0M757.7,439.0L790.6,450.9M790.6,450.9L814.7,459.7M832.4,466.2L860.8,476.5M871.0,480.2L903.5,492.0M920.6,498.2L975.0,518.0M975.0,518.0L1019.9,534.4M1040.9,542.0L1064.2,550.5M1064.2,550.5L1079.2,556.0M1114.3,568.8L1163.9,586.8M1168.9,588.6L1193.9,597.7M1193.9,597.7L1212.7,604.6M1212.7,604.6L1236.8,613.3M1236.8,613.3L1257.8,621.0M1268.2,624.8L1340.4,651.0M1360.3,658.3L1429.9,683.6M630.4,403.5L663.4,415.5M671.7,418.5L692.7,426.2M722.0,436.9L791.1,462.0M791.1,462.0L831.9,476.8M831.9,476.8L856.3,485.7M856.3,485.7L930.4,512.7M959.4,523.2L1011.2,542.1M1011.2,542.1L1066.8,562.4M1066.8,562.4L1122.3,582.5M1132.4,586.2L1166.9,598.8M1193.9,608.6L1216.2,616.7M1216.2,616.7L1259.1,632.3M1259.1,632.3L1299.0,646.9M1299.0,646.9L1322.0,655.2M1354.5,667.1L1418.8,690.4M601.5,415.0L657.3,435.3M657.3,435.3L729.5,461.6M729.5,461.6L790.9,483.9M822.3,495.4L846.2,504.1M877.6,515.5L921.9,531.6M955.6,543.9L1021.5,567.8M1053.5,579.5L1128.2,606.7M1128.2,606.7L1155.8,616.7M1178.5,625.0L1210.0,636.5M1210.0,636.5L1231.3,644.2M1267.2,657.3L1302.0,669.9M1332.2,680.9L1395.2,703.9M595.5,423.6L664.8,448.8M664.8,448.8L722.7,469.9M722.7,469.9L761.5,484.0M789.9,494.3L852.3,517.0M860.0,519.8L878.3,526.5M878.3,526.5L921.9,542.4M942.6,549.9L1014.0,575.9M1014.0,575.9L1072.7,597.3M1072.7,597.3L1098.9,606.8M1117.7,613.7L1189.1,639.6M1193.7,641.3L1209.7,647.1M1224.2,652.4L1277.3,671.8M1277.3,671.8L1340.7,694.8M601.4,445.1L632.1,456.3M647.6,461.9L667.6,469.2M667.6,469.2L725.9,490.4M725.9,490.4L743.7,496.9M769.6,506.3L843.3,533.2M857.7,538.4L896.0,552.4M906.6,556.2L929.8,564.6M966.5,578.0L1020.4,597.6M1020.4,597.6L1060.4,612.2M1076.6,618.1L1119.0,633.5M1119.0,633.5L1174.6,653.7M1187.3,658.4L1241.4,678.0M1263.3,686.0L1280.2,692.2M1298.9,699.0L1368.0,724.1M600.9,456.9L626.5,466.2M650.5,474.9L709.6,496.4M734.3,505.4L784.6,523.7M794.7,527.4L839.0,543.5M855.6,549.6L907.8,568.6M907.8,568.6L981.5,595.4M990.0,598.5L1039.0,616.3M1039.0,616.3L1066.4,626.3M1066.4,626.3L1092.3,635.7M1092.3,635.7L1164.3,661.9M1164.3,661.9L1224.5,683.9M1242.4,690.4L1310.9,715.3M1321.6,719.2L1356.4,731.8M597.7,472.0L615.5,478.5M615.5,478.5L639.1,487.1M669.0,498.0L712.6,513.8M725.5,518.5L744.2,525.3M760.9,531.4L829.6,556.4M829.6,556.4L871.7,571.7M899.3,581.8L959.0,603.5M959.0,603.5L990.5,615.0M1003.9,619.9L1041.1,633.4M1041.1,633.4L1082.6,648.5M1111.3,658.9L1146.2,671.6M1146.2,671.6L1216.2,697.1M1216.2,697.1L1264.6,714.7M1299.1,727.3L1316.2,733.5M1321.2,735.3L1339.5,742.0M596.1,492.2L621.4,501.4M635.4,506.5L698.7,529.6M722.3,538.1L788.4,562.2M805.9,568.5L835.2,579.2M850.0,584.6L922.9,611.1M955.8,623.1L994.5,637.2M1023.6,647.8L1082.2,669.1M1082.2,669.1L1110.4,679.4M1116.7,681.7L1144.3,691.7M1178.2,704.1L1245.2,728.5M1273.3,738.7L1347.6,765.7M582.3,510.7L645.5,533.7M645.5,533.7L692.8,550.9M716.4,559.5L761.6,576.0M766.8,577.9L824.7,598.9M832.2,601.7L901.1,626.8M901.1,626.8L964.2,649.7M973.1,652.9L1010.1,666.4M1028.9,673.3L1058.4,684.0M1092.6,696.5L1164.3,722.6M1188.3,731.3L1255.0,755.6M1255.0,755.6L1302.1,772.7M1302.1,772.7L1323.2,780.4M562.8,527.3L629.4,551.6M629.4,551.6L649.0,558.7M649.0,558.7L681.2,570.4M681.2,570.4L718.7,584.1M718.7,584.1L776.3,605.1M796.7,612.5L845.2,630.1M877.3,641.8L899.4,649.9M899.4,649.9L970.2,675.7M997.0,685.4L1049.6,704.5M1049.6,704.5L1074.1,713.5M1074.1,713.5L1134.0,735.3M1134.0,735.3L1177.7,751.2M1182.0,752.7L1203.9,760.7M1203.9,760.7L1272.8,785.8M1272.8,785.8L1295.2,793.9M583.3,552.6L638.8,572.7M638.8,572.7L706.0,597.2M706.0,597.2L768.4,619.9M768.4,619.9L795.1,629.6M829.5,642.2L864.0,654.7M870.8,657.2L925.8,677.2M925.8,677.2L951.2,686.4M960.2,689.7L1025.4,713.5M1059.1,725.7L1131.1,751.9M1131.1,751.9L1202.5,777.9M1202.5,777.9L1247.1,794.1M1255.6,797.2L1324.4,822.3M556.1,554.8L576.0,562.1M576.0,562.1L604.9,572.6M642.1,586.1L671.2,596.7M699.2,606.9L769.6,632.5M777.1,635.3L812.5,648.2M812.5,648.2L876.5,671.4M876.5,671.4L945.6,696.6M945.6,696.6L974.1,707.0M974.1,707.0L1029.4,727.1M1029.4,727.1L1060.1,738.2M1095.8,751.2L1142.7,768.3M1154.7,772.7L1184.3,783.5M1213.3,794.0L1264.4,812.6M1278.5,817.7L1327.3,835.5M555.0,579.6L617.7,602.4M655.2,616.1L687.8,627.9M687.8,627.9L740.1,647.0M740.1,647.0L763.9,655.6M786.0,663.7L850.2,687.0M850.2,687.0L877.9,697.1M909.0,708.4L977.4,733.3M998.2,740.9L1028.8,752.0M1044.5,757.7L1105.8,780.1M1105.8,780.1L1169.2,803.2M1203.4,815.6L1219.2,821.4M1219.2,821.4L1248.9,832.1M1258.2,835.5L1297.5,849.8M537.7,585.5L571.7,597.8M584.7,602.5L610.4,611.9M620.2,615.5L693.5,642.2M699.2,644.2L763.1,667.5M788.2,676.6L833.4,693.1M855.2,701.0L890.7,713.9M890.7,713.9L928.7,727.8M944.3,733.4L965.8,741.3M989.5,749.9L1059.9,775.5M1059.9,775.5L1094.9,788.3M1105.1,792.0L1167.4,814.7M1167.4,814.7L1215.4,832.1M1215.4,832.1L1250.5,844.9M1258.1,847.6L1291.9,859.9M536.1,608.6L582.0,625.3M614.7,637.2L669.5,657.1M675.0,659.1L744.8,684.6M770.4,693.9L834.8,717.3M834.8,717.3L891.6,738.0M911.3,745.2L962.7,763.9M998.0,776.7L1017.6,783.9M1017.6,783.9L1090.6,810.4M1102.0,814.6L1166.8,838.2M1198.5,849.7L1241.3,865.3M1241.3,865.3L1292.2,883.8M547.8,627.2L575.6,637.3M581.1,639.3L649.6,664.2M649.6,664.2L682.5,676.2M709.8,686.2L731.6,694.1M731.6,694.1L760.5,704.6M760.5,704.6L832.4,730.8M832.4,730.8L891.2,752.2M913.9,760.4L936.3,768.6M957.6,776.3L992.2,788.9M992.2,788.9L1024.8,800.8M1024.8,800.8L1094.0,826.0M1094.0,826.0L1160.4,850.1M1160.4,850.1L1216.2,870.5M1221.3,872.3L1246.3,881.4M530.2,640.4L590.9,662.5M611.4,670.0L639.4,680.1M657.3,686.7L690.6,698.8M724.5,711.1L764.1,725.5M788.3,734.3L857.2,759.4M875.0,765.9L947.7,792.4M963.4,798.1L992.4,808.6M1005.6,813.4L1065.6,835.3M1099.7,847.7L1123.0,856.2M1149.5,865.8L1175.8,875.4M1175.8,875.4L1248.4,901.8M1266.7,908.4L1326.0,930.0M526.9,651.2L582.2,671.4M582.2,671.4L640.2,692.5M670.5,703.5L695.4,712.6M701.1,714.6L735.7,727.2M763.1,737.2L815.9,756.4M828.0,760.8L901.3,787.5M922.3,795.1L990.9,820.1M990.9,820.1L1059.9,845.2M1083.9,854.0L1128.7,870.3M1157.2,880.6L1225.0,905.3M1237.5,909.9L1259.9,918.0M521.1,663.1L571.6,681.5M608.5,694.9L669.3,717.0M678.5,720.4L700.1,728.3M723.2,736.7L768.4,753.1M768.4,753.1L806.3,766.9M806.3,766.9L844.7,780.9M867.9,789.3L914.6,806.3M914.6,806.3L949.9,819.2M973.6,827.8L1018.6,844.2M1050.8,855.9L1077.3,865.5M1085.4,868.5L1099.8,873.8M1099.8,873.8L1173.9,900.7M1207.3,912.9L1280.2,939.4M537.8,691.7L590.5,710.9M590.5,710.9L660.6,736.4M696.6,749.5L756.7,771.4M784.2,781.4L812.0,791.5M812.0,791.5L875.0,814.4M875.0,814.4L911.5,827.7M942.7,839.1L972.7,850.0M1001.4,860.4L1026.1,869.4M1026.1,869.4L1060.8,882.1M1097.0,895.2L1136.4,909.6M1136.4,909.6L1195.2,931.0M1211.0,936.7L1235.5,945.6M1235.5,945.6L1256.3,953.2M507.1,697.3L568.9,719.7M568.9,719.7L629.2,741.7M641.0,746.0L684.9,762.0M684.9,762.0L745.4,784.0M782.7,797.5L847.3,821.1M847.3,821.1L898.8,839.8M912.7,844.9L946.0,857.0M978.8,868.9L1016.5,882.7M1037.1,890.1L1075.3,904.1M1101.4,913.6L1153.6,932.6M1153.6,932.6L1183.5,943.4M1207.4,952.1L1257.9,970.5M505.3,712.2L534.7,722.9M551.1,728.9L615.7,752.4M615.7,752.4L687.8,778.6M687.8,778.6L749.1,800.9M756.8,803.7L824.5,828.4M851.8,838.3L890.9,852.6M890.9,852.6L964.2,879.3M979.3,884.8L1034.2,904.7M1034.2,904.7L1052.3,911.3M1052.3,911.3L1108.3,931.7M1122.9,937.0L1140.6,943.4M1173.7,955.5L1205.1,966.9M1205.1,966.9L1237.0,978.5M510.0,724.6L564.9,744.6M569.2,746.1L613.9,762.4M613.9,762.4L688.9,789.7M696.6,792.5L737.6,807.4M771.4,819.7L834.6,842.7M834.6,842.7L861.4,852.5M896.0,865.1L958.5,887.8M966.1,890.6L1034.4,915.5M1040.3,917.6L1071.7,929.0M1085.2,933.9L1103.1,940.5M1103.1,940.5L1162.4,962.0M1162.4,962.0L1224.9,984.8M504.8,743.0L524.3,750.2M524.3,750.2L560.5,763.3M560.5,763.3L602.2,778.5M639.6,792.1L697.6,813.2M697.6,813.2L716.2,820.0M716.2,820.0L749.2,832.0M749.2,832.0L794.8,848.6M820.0,857.7L865.3,874.2M886.2,881.9L930.7,898.0M930.7,898.0L976.3,914.7M976.3,914.7L1048.7,941.0M1062.9,946.2L1093.2,957.2M1093.2,957.2L1134.2,972.1M1162.2,982.3L1203.4,997.3M1227.7,1006.2L1252.1,1015.0" stroke="#ffffff" stroke-width="2" fill="none" clip-path="url(#cQ)"/>
<path d="M500.8,714.9L512.7,682.3M512.7,682.3L528.8,637.9M528.8,637.9L536.2,617.6M547.9,585.4L564.7,539.3M564.7,539.3L589.4,471.4M590.8,467.6L612.7,407.4M614.2,403.3L635.6,344.6M635.6,344.6L659.3,279.4M659.3,279.4L668.9,253.0M671.8,245.1L698.6,171.3M702.0,162.1L707.6,146.8M709.4,141.8L722.4,106.1M727.6,91.9L753.3,21.1M764.7,-10.3L786.3,-69.4M526.9,708.5L537.1,680.4M541.5,668.4L555.5,629.8M555.5,629.8L570.1,589.6M577.4,569.8L600.6,506.0M610.6,478.5L617.7,458.9M627.3,432.7L633.5,415.7M639.6,398.9L649.0,373.0M650.4,369.0L676.7,296.8M676.7,296.8L703.0,224.5M716.1,188.5L740.4,121.7M740.4,121.7L757.3,75.5M761.4,64.2L774.9,27.1M774.9,27.1L784.4,1.1M784.4,1.1L800.8,-44.2M549.4,714.2L557.6,691.7M559.0,687.9L564.8,672.1M564.8,672.1L583.1,621.8M583.1,621.8L605.6,560.0M618.8,523.5L644.5,453.1M646.9,446.5L659.1,413.0M664.9,396.8L671.9,377.7M671.9,377.7L698.8,303.8M709.8,273.6L727.9,223.8M740.4,189.4L754.0,152.3M754.0,152.3L759.9,136.0M759.9,136.0L769.1,110.8M781.3,77.2L802.4,19.1M802.4,19.1L824.6,-41.8M567.8,707.8L594.8,633.7M601.6,615.0L616.7,573.4M616.7,573.4L622.0,559.0M622.0,559.0L632.8,529.4M635.7,521.3L642.7,502.0M642.7,502.0L659.0,457.2M659.0,457.2L683.4,390.3M683.4,390.3L690.2,371.6M703.8,334.3L720.1,289.5M723.7,279.5L750.8,205.1M750.8,205.1L761.4,175.9M771.6,147.9L788.0,102.8M801.5,65.8L820.4,13.8M822.1,9.2L838.6,-36.0M568.1,744.7L589.3,686.4M589.3,686.4L602.8,649.3M612.0,624.0L628.7,578.2M633.4,565.1L643.1,538.4M645.6,531.7L659.4,493.7M671.2,461.2L683.5,427.5M683.5,427.5L706.7,363.9M709.9,354.9L727.8,305.8M735.8,284.0L743.6,262.4M754.3,232.9L769.4,191.6M782.1,156.7L793.8,124.5M793.8,124.5L814.2,68.3M821.1,49.4L829.6,26.2M829.6,26.2L844.1,-13.6M596.6,733.0L614.3,684.2M627.8,647.2L639.6,614.7M647.0,594.4L662.7,551.4M675.0,517.4L691.1,473.3M703.1,440.4L727.3,373.7M727.3,373.7L752.6,304.2M755.3,296.9L768.2,261.6M768.2,261.6L790.8,199.4M790.8,199.4L809.9,146.9M809.9,146.9L829.8,92.1M831.4,87.8L848.7,40.3M850.9,34.1L869.7,-17.4M611.1,735.6L630.1,683.3M630.1,683.3L654.6,615.9M654.6,615.9L661.5,597.0M661.5,597.0L674.4,561.6M684.1,535.0L693.1,510.3M693.1,510.3L719.1,438.9M730.9,406.3L751.8,349.0M762.6,319.3L769.5,300.4M783.1,262.9L802.1,210.8M805.1,202.7L820.1,161.3M833.7,124.0L842.9,98.6M842.9,98.6L857.9,57.6M870.8,22.0L878.6,0.6M626.0,758.1L633.8,736.7M633.8,736.7L657.9,670.5M660.9,662.1L678.4,614.1M678.4,614.1L691.5,578.1M694.1,570.9L702.4,548.1M713.1,518.7L720.9,497.2M728.0,477.7L737.8,450.8M748.3,422.1L758.6,393.8M761.0,387.1L777.6,341.4M777.6,341.4L792.7,300.0M794.5,295.2L805.7,264.3M808.3,257.1L822.9,217.0M825.1,211.1L845.0,156.4M845.0,156.4L865.7,99.4M877.4,67.5L903.5,-4.3M656.5,748.1L682.6,676.3M682.6,676.3L694.9,642.4M702.3,622.2L723.1,565.1M728.9,549.2L735.8,530.1M740.4,517.6L764.4,451.6M767.6,442.8L781.6,404.3M781.6,404.3L791.6,376.9M793.5,371.5L806.3,336.4M816.0,309.9L822.5,292.1M824.8,285.7L835.9,255.1M839.3,245.8L848.7,219.9M857.9,194.6L871.3,158.0M872.8,153.8L897.2,86.8M897.2,86.8L923.4,14.8M666.4,770.3L675.9,744.3M682.4,726.4L708.4,655.0M718.3,627.6L739.7,568.9M739.7,568.9L758.5,517.3M761.7,508.6L778.3,462.8M778.3,462.8L804.8,390.0M804.8,390.0L814.8,362.6M825.7,332.7L831.0,317.9M831.0,317.9L838.1,298.5M849.9,266.2L856.9,246.9M866.0,221.8L887.2,163.8M894.3,144.1L917.1,81.6M917.1,81.6L931.0,43.4M685.2,773.1L703.5,722.6M710.8,702.6L728.2,654.9M739.0,625.1L761.8,562.6M772.8,532.3L783.3,503.4M787.4,492.3L799.4,459.4M806.3,440.2L813.8,419.7M820.8,400.4L834.5,362.8M836.7,356.7L854.3,308.5M854.3,308.5L875.8,249.2M887.1,218.2L900.7,180.9M909.6,156.4L920.2,127.4M931.0,97.7L947.5,52.5M951.5,41.4L972.9,-17.6M712.4,769.5L723.9,738.0M723.9,738.0L748.6,670.1M748.6,670.1L774.0,600.2M778.5,588.0L787.4,563.3M787.4,563.3L808.0,506.9M811.8,496.5L826.0,457.3M826.0,457.3L831.9,441.2M831.9,441.2L852.7,384.1M852.7,384.1L878.9,312.1M884.0,298.1L897.5,260.9M906.4,236.6L917.6,205.8M925.3,184.7L946.8,125.4M959.3,91.2L978.9,37.4M729.9,789.1L742.3,755.1M747.8,740.1L754.2,722.3M763.5,696.8L776.6,660.9M776.6,660.9L792.2,618.1M792.2,618.1L801.9,591.3M801.9,591.3L826.0,525.2M826.0,525.2L849.0,461.9M852.3,452.9L876.2,387.3M876.2,387.3L891.5,345.3M891.5,345.3L910.5,293.0M910.5,293.0L935.8,223.4M935.8,223.4L944.2,200.5M952.2,178.4L962.4,150.5M962.4,150.5L974.8,116.4M980.5,100.5L1002.0,41.5M744.0,794.7L764.5,738.5M764.5,738.5L772.0,717.8M778.5,700.0L788.5,672.6M793.6,658.6L801.8,635.9M808.5,617.7L823.3,576.9M823.3,576.9L849.1,505.9M849.1,505.9L864.9,462.7M873.8,438.1L888.8,396.9M901.6,361.7L923.6,301.2M923.6,301.2L946.8,237.6M946.8,237.6L974.1,162.7M974.1,162.7L995.8,102.9M995.8,102.9L1022.5,29.7M759.5,810.0L782.2,747.9M788.0,732.0L808.1,676.6M808.1,676.6L826.9,625.1M834.6,603.8L840.0,588.9M841.7,584.4L860.0,533.9M864.3,522.3L886.8,460.5M886.8,460.5L896.8,432.9M910.0,396.7L924.7,356.3M932.5,334.8L955.8,270.8M960.7,257.3L977.3,211.7M990.3,176.0L1013.1,113.3M1022.0,88.8L1045.1,25.5M783.6,799.7L798.2,759.8M806.9,735.8L827.5,679.1M833.1,663.9L841.5,640.7M854.1,606.1L873.1,554.0M873.1,554.0L887.2,515.2M889.6,508.6L912.0,447.1M912.0,447.1L933.4,388.4M944.1,358.8L969.1,290.3M976.5,269.7L1003.5,195.5M1012.9,169.7L1035.3,108.2M1048.0,73.4L1064.2,28.8M796.0,809.8L809.4,772.8M809.4,772.8L828.5,720.5M828.5,720.5L846.9,669.8M850.5,659.9L858.4,638.2M858.4,638.2L871.6,602.0M871.6,602.0L896.5,533.5M896.5,533.5L916.3,479.1M918.7,472.5L934.8,428.4M934.8,428.4L959.5,360.5M961.5,355.0L975.9,315.5M975.9,315.5L988.2,281.7M988.2,281.7L1010.2,221.3M1010.2,221.3L1035.9,150.5M1048.9,114.9L1055.6,96.6M1055.6,96.6L1077.9,35.1M814.5,820.0L822.1,799.3M830.9,775.0L839.1,752.5M843.7,739.8L860.8,693.0M866.2,678.1L877.7,646.6M888.3,617.5L903.7,575.1M903.7,575.1L929.5,504.1M929.5,504.1L939.9,475.5M939.9,475.5L948.1,453.0M957.3,427.8L974.2,381.4M979.2,367.7L1000.2,309.8M1000.2,309.8L1007.8,289.0M1007.8,289.0L1013.3,273.8M1022.2,249.4L1032.7,220.7M1040.5,199.3L1065.8,129.8M1068.5,122.4L1080.4,89.5M1080.4,89.5L1086.5,72.7M834.2,839.6L856.0,779.7M868.4,745.7L894.2,674.7M894.2,674.7L913.3,622.2M918.5,607.9L943.8,538.4M943.8,538.4L954.7,508.5M966.1,477.1L988.9,414.7M988.9,414.7L1012.1,350.8M1019.5,330.6L1043.9,263.4M1043.9,263.4L1057.6,225.7M1069.7,192.7L1090.0,136.7M1095.6,121.5L1106.2,92.3M842.3,847.9L863.7,789.0M865.2,784.8L880.5,742.8M880.5,742.8L893.2,707.9M905.3,674.6L928.4,611.2M938.0,584.8L958.1,529.7M963.6,514.6L977.1,477.3M982.8,461.6L989.7,442.7M989.7,442.7L1001.5,410.3M1005.4,399.7L1028.6,335.8M1032.5,325.3L1038.8,308.0M1047.0,285.4L1065.6,234.4M1076.4,204.7L1100.1,139.5M1113.4,102.9L1123.7,74.6M876.6,824.2L886.5,797.1M886.5,797.1L899.3,762.0M899.3,762.0L911.0,729.8M911.0,729.8L929.8,678.2M929.8,678.2L954.0,611.7M954.0,611.7L964.4,583.2M969.1,570.3L985.7,524.6M993.2,504.0L1005.4,470.4M1005.4,470.4L1020.6,428.7M1027.5,409.9L1043.7,365.2M1050.9,345.5L1056.5,330.2M1060.5,319.0L1074.4,281.0M1076.7,274.5L1089.9,238.2M1089.9,238.2L1095.1,224.0M1095.1,224.0L1104.7,197.6M1109.2,185.3L1135.4,113.3M1135.4,113.3L1162.0,40.3M887.4,860.3L898.7,829.2M898.7,829.2L913.7,788.0M919.9,770.9L935.4,728.2M935.4,728.2L955.7,672.6M959.9,661.0L978.0,611.2M978.0,611.2L991.5,574.3M991.5,574.3L1006.7,532.4M1012.8,515.7L1029.6,469.6M1040.5,439.5L1061.5,381.9M1071.8,353.6L1094.5,291.2M1108.2,253.7L1113.4,239.3M1113.4,239.3L1135.4,178.9M1135.4,178.9L1140.5,164.8M1140.5,164.8L1150.6,137.1M915.9,834.0L936.4,777.7M936.4,777.7L955.2,725.9M955.2,725.9L974.5,672.8M979.5,659.2L996.9,611.4M1010.5,574.0L1036.4,502.8M1036.4,502.8L1058.7,441.5M1058.7,441.5L1077.7,389.4M1077.7,389.4L1085.5,368.1M1092.6,348.3L1100.5,326.7M1110.0,300.5L1132.2,239.6M1132.2,239.6L1153.4,181.4M1153.4,181.4L1165.0,149.6M1172.2,129.8L1177.4,115.5M933.2,843.5L948.6,801.2M952.3,791.1L978.0,720.4M978.0,720.4L992.2,681.4M1002.7,652.6L1016.4,615.0M1016.4,615.0L1026.3,587.6M1026.3,587.6L1044.9,536.5M1051.4,518.7L1063.0,486.9M1068.4,471.9L1085.9,424.0M1088.9,415.7L1112.0,352.3M1113.3,348.5L1139.0,278.0M1149.7,248.5L1161.8,215.3M1161.8,215.3L1169.7,193.7M1179.2,167.6L1188.1,143.1M1194.5,125.4L1217.8,61.5M941.1,873.1L947.9,854.6M947.9,854.6L960.9,819.0M967.4,800.9L975.3,779.3M979.3,768.3L998.3,716.1M1011.5,679.8L1037.6,608.1M1046.3,584.3L1054.4,561.9M1054.4,561.9L1078.5,495.6M1088.9,467.1L1098.8,440.0M1100.4,435.5L1112.6,402.0M1117.1,389.8L1127.4,361.5M1127.4,361.5L1137.6,333.4M1143.1,318.2L1148.9,302.4M1148.9,302.4L1168.4,248.7M1170.3,243.6L1180.6,215.3M1185.1,202.9L1206.8,143.1M1206.8,143.1L1228.9,82.4M965.5,867.7L974.9,842.0M974.9,842.0L982.8,820.3M994.2,789.0L1015.8,729.6M1015.8,729.6L1041.4,659.3M1045.6,647.8L1058.5,612.3M1058.5,612.3L1069.4,582.3M1078.5,557.3L1101.2,495.1M1109.5,472.1L1122.3,436.9M1132.1,410.1L1155.4,346.0M1159.1,335.8L1169.1,308.3M1169.1,308.3L1177.9,284.3M1183.8,267.9L1206.3,206.0M1217.2,176.2L1244.2,101.9M991.6,867.7L1016.0,800.7M1016.0,800.7L1033.0,754.0M1041.1,731.7L1048.4,711.6M1055.6,691.9L1081.0,622.1M1081.0,622.1L1095.9,581.1M1108.0,548.0L1122.4,508.4M1126.1,498.2L1149.6,433.5M1149.6,433.5L1165.0,391.3M1171.2,374.3L1195.2,308.3M1195.2,308.3L1222.0,234.5M1229.2,214.9L1238.8,188.5M1238.8,188.5L1252.9,149.7M1003.9,871.9L1025.8,811.9M1033.8,789.8L1051.1,742.3M1053.3,736.2L1065.9,701.7M1079.3,664.7L1087.2,642.9M1092.3,629.0L1109.5,581.9M1119.8,553.6L1144.6,485.4M1149.2,472.6L1156.4,453.0M1161.7,438.3L1168.7,419.0M1168.7,419.0L1195.0,347.0M1195.0,347.0L1205.3,318.7M1205.3,318.7L1223.8,267.8M1223.8,267.8L1229.5,252.2M1238.0,228.7L1247.5,202.5M1251.8,190.8L1268.4,145.2M1018.0,891.9L1037.0,839.6M1042.1,825.6L1061.2,773.3M1063.9,765.8L1089.7,694.9M1094.2,682.4L1105.4,651.6M1105.4,651.6L1130.6,582.5M1130.6,582.5L1136.1,567.5M1138.0,562.2L1154.9,515.8M1159.0,504.3L1181.1,443.7M1193.0,411.1L1201.8,386.8M1201.8,386.8L1221.9,331.6M1221.9,331.6L1233.7,299.1M1243.9,271.2L1269.2,201.7M1271.9,194.3L1299.0,119.9M1036.0,891.0L1044.3,868.0M1049.5,853.7L1058.6,828.6M1064.6,812.2L1081.4,766.2M1081.4,766.2L1100.3,714.1M1113.2,678.8L1140.4,604.1M1150.7,575.8L1169.3,524.6M1169.3,524.6L1189.7,468.5M1199.8,440.7L1223.2,376.5M1226.4,367.9L1249.4,304.5M1262.7,268.1L1270.1,247.7M1279.5,221.7L1295.2,178.7M1054.3,912.4L1076.4,851.9M1087.0,822.6L1103.1,778.4M1113.0,751.2L1128.9,707.6M1128.9,707.6L1155.8,633.8M1162.4,615.6L1185.3,552.7M1187.9,545.6L1214.9,471.3M1222.6,450.1L1242.4,395.8M1242.4,395.8L1257.9,353.3M1257.9,353.3L1268.1,325.2M1268.1,325.2L1281.3,289.0M1283.3,283.4L1293.0,256.7M1293.0,256.7L1309.2,212.1M1309.2,212.1L1322.9,174.5M1070.8,919.7L1079.6,895.6M1079.6,895.6L1085.9,878.4M1085.9,878.4L1097.7,845.8M1097.7,845.8L1114.6,799.4M1127.6,763.6L1148.7,705.8M1148.7,705.8L1156.2,685.0M1156.2,685.0L1165.6,659.2M1167.6,653.7L1184.9,606.3M1184.9,606.3L1206.8,546.2M1209.7,538.2L1223.9,499.2M1223.9,499.2L1234.5,469.9M1234.5,469.9L1245.4,440.0M1255.1,413.3L1265.0,386.2M1267.7,378.9L1292.4,310.8M1292.4,310.8L1302.4,283.4M1310.0,262.6L1336.0,191.1M1336.0,191.1L1341.5,175.9M1095.6,910.3L1117.2,850.8M1126.5,825.4L1147.3,768.1M1147.3,768.1L1172.8,698.2M1182.7,671.0L1196.6,632.6M1208.2,600.9L1220.1,568.1M1229.6,542.0L1238.3,518.3M1238.3,518.3L1250.7,484.1M1260.2,458.1L1268.9,434.2M1268.9,434.2L1290.7,374.2M1294.2,364.6L1317.3,301.2M1317.3,301.2L1322.4,287.1M1322.4,287.1L1337.6,245.5M1337.6,245.5L1353.6,201.3M1105.2,943.0L1116.8,910.9M1116.8,910.9L1142.0,841.8M1142.0,841.8L1162.9,784.3M1174.2,753.4L1192.4,703.2M1192.4,703.2L1204.0,671.4M1204.0,671.4L1222.7,619.9M1227.9,605.9L1246.9,553.5M1256.7,526.7L1270.0,490.1M1280.9,460.3L1307.2,388.0M1307.2,388.0L1326.2,335.7M1333.8,314.9L1355.5,255.2M1355.5,255.2L1377.4,194.9M1130.5,940.4L1156.9,867.8M1156.9,867.8L1172.3,825.4M1180.8,802.2L1205.9,733.3M1217.8,700.3L1239.6,640.7M1239.6,640.7L1259.3,586.4M1272.1,551.3L1277.7,535.9M1277.7,535.9L1288.7,505.7M1288.7,505.7L1311.7,442.5M1314.5,434.7L1335.2,377.8M1347.7,343.5L1366.7,291.4M1366.7,291.4L1378.7,258.3M1387.8,233.3L1414.6,159.8M1159.7,932.3L1182.5,869.6M1182.5,869.6L1193.5,839.4M1193.5,839.4L1209.6,795.1M1215.3,779.6L1226.4,748.9M1226.4,748.9L1246.7,693.3M1246.7,693.3L1265.4,641.8M1271.5,625.0L1290.7,572.4M1290.7,572.4L1298.7,550.3M1304.2,535.2L1314.8,506.2M1317.9,497.6L1343.2,428.1M1355.4,394.7L1376.0,338.1M1376.0,338.1L1395.7,283.8M1397.9,277.8L1424.0,206.1M1173.8,949.9L1198.6,881.6M1198.6,881.6L1216.0,833.8M1227.6,802.1L1247.0,748.6M1253.6,730.5L1268.1,690.8M1271.9,680.3L1297.3,610.6M1297.3,610.6L1306.1,586.3M1314.3,563.9L1331.9,515.4M1337.3,500.7L1343.5,483.6M1343.5,483.6L1351.0,463.0M1356.9,446.7L1370.1,410.4M1371.6,406.3L1397.5,335.3M1397.5,335.3L1420.8,271.3M1420.8,271.3L1445.7,202.8M1186.1,958.3L1191.3,944.0M1201.4,916.2L1206.6,901.9M1206.6,901.9L1224.8,851.9M1237.7,816.6L1260.0,755.2M1266.2,738.2L1285.7,684.5M1297.4,652.3L1307.7,624.2M1318.6,594.2L1326.7,571.8M1335.8,547.0L1346.1,518.7M1346.1,518.7L1367.1,460.9M1367.1,460.9L1391.4,394.0M1399.7,371.3L1419.2,317.8M1432.8,280.3L1441.8,255.8M1448.0,238.7L1472.7,170.9M1207.1,949.9L1231.9,881.7M1235.7,871.4L1244.5,847.1M1244.5,847.1L1250.5,830.6M1255.5,816.8L1272.5,770.1M1277.4,756.8L1296.7,703.7M1307.7,673.6L1324.5,627.2M1329.6,613.2L1342.4,578.2M1342.4,578.2L1348.9,560.4M1348.9,560.4L1365.7,514.2M1368.3,507.1L1390.0,447.3M1399.9,420.1L1410.2,391.9M1410.2,391.9L1416.4,374.8M1419.3,366.7L1443.6,300.0M1457.1,263.0L1476.7,209.2M1219.0,965.0L1245.2,893.0M1245.2,893.0L1256.6,861.6M1256.6,861.6L1276.0,808.3M1276.0,808.3L1299.5,743.8M1304.7,729.4L1316.3,697.5M1320.9,685.0L1347.5,611.9M1353.5,595.5L1380.3,521.8M1380.3,521.8L1398.4,472.2M1398.4,472.2L1415.3,425.7M1415.3,425.7L1438.8,360.9M1438.8,360.9L1458.7,306.4M1465.8,286.8L1489.9,220.5M1245.3,957.3L1261.4,913.1M1266.2,899.9L1284.4,850.0M1287.1,842.5L1305.6,791.7M1305.6,791.7L1329.9,724.9M1329.9,724.9L1352.1,664.0M1360.1,641.9L1376.7,596.4M1376.7,596.4L1393.6,550.0M1402.7,525.0L1419.0,480.2M1419.0,480.2L1430.5,448.5M1430.5,448.5L1454.1,383.7M1454.1,383.7L1464.3,355.7M1464.3,355.7L1490.4,283.9M1490.4,283.9L1515.3,215.6M1253.9,979.1L1265.6,947.0M1279.1,909.8L1295.6,864.5M1295.6,864.5L1309.5,826.3M1309.5,826.3L1315.3,810.3M1328.4,774.4L1350.7,713.2M1350.7,713.2L1362.1,681.6M1362.1,681.6L1368.9,663.1M1368.9,663.1L1384.2,620.9M1384.2,620.9L1393.0,596.8M1402.4,570.9L1422.7,515.2M1431.0,492.4L1454.4,428.0M1456.0,423.8L1478.8,361.0M1490.5,329.0L1502.8,295.3M1508.5,279.5L1525.1,233.9" stroke="#ffffff" stroke-width="2" fill="none" clip-path="url(#cQ)"/>
</g>
<path d="M897.0,383.0 L973.8,575.7" stroke="#a49c52" stroke-width="1" fill="none" stroke-opacity="0.8"/>
<path d="M819.0,659.0 L906.7,612.0 L973.8,575.7 L1116.4,495.5" stroke="#a49c52" stroke-width="1" fill="none" stroke-opacity="0.8"/>
<path d="M990.7,566.2 L1131.9,574.7" stroke="#a49c52" stroke-width="1" fill="none" stroke-opacity="0.8"/>
<path d="M1131.9,574.7 L1011.5,747.0" stroke="#a49c52" stroke-width="1" fill="none" stroke-opacity="0.8"/>
<path d="M1131.9,574.7 L1175.4,695.0" stroke="#a49c52" stroke-width="1" fill="none" stroke-opacity="0.8"/>
<path d="M973.8,575.7 L992.0,662.6 L1011.5,747.0" stroke="#a49c52" stroke-width="1" fill="none" stroke-opacity="0.8"/>
<path d="M992.0,662.6 L921.8,678.0 L906.7,612.0" stroke="#a49c52" stroke-width="1" fill="none" stroke-opacity="0.8"/>
<path d="M921.8,678.0 L940.0,760.0" stroke="#a49c52" stroke-width="1" fill="none" stroke-opacity="0.8"/>
<path d="M851.5,642.0 L879.4,774.0" stroke="#a49c52" stroke-width="1" fill="none" stroke-opacity="0.8"/>
<path d="M982.7,619.3 L1030.8,608.0 L1040.4,649.0 L1085.0,641.7" stroke="#a49c52" stroke-width="1" fill="none" stroke-opacity="0.8"/>
<path d="M920.0,152.7 L1081.5,241.0 L1187.0,299.0 L1210.0,311.5 L1203.0,420.0 L1192.9,498.3 L1161.0,533.2 L1131.9,574.7 L1288.7,624.8 L1175.4,695.0 L1137.8,721.0 L1011.5,747.0 L851.5,778.5 L734.2,349.2 L822.7,257.0 Z" stroke="#9a9550" stroke-width="1" fill="none" stroke-opacity="0.7"/>
<path d="M920.0,152.7 L1081.5,241.0 L921.7,363.7 L897.0,383.0 L844.5,331.8 L839.0,305.5 L831.9,257.5 L822.7,257.0 Z" stroke="#b08a60" stroke-width="1" fill="none" stroke-opacity="0.6"/>
<path d="M478.0,294.6 L652.8,547.0 L674.6,401.4 L730.4,340.7" stroke="#9fb3a8" stroke-width="1" fill="none"/>
<path d="M478.0,413.5 L550.8,408.6" stroke="#9fb3a8" stroke-width="1" fill="none"/>
<path d="M960.0,95.0 L925.0,88.0 L920.0,152.7" stroke="#9fb3a8" stroke-width="1" fill="none"/>
<path d="M1288.7,624.8 L1395.0,508.0" stroke="#9fb3a8" stroke-width="1" fill="none"/>
<path d="M1288.7,624.8 L1363.6,830.0" stroke="#9fb3a8" stroke-width="1" fill="none"/>
<path d="M822.9,784.8 L851.5,778.5" stroke="#9fb3a8" stroke-width="1" fill="none"/>
<path d="M1119.0,70.0 L1119.0,84.5 L1057.8,98.2 L1053.5,128.8 L1051.4,160.5 L1064.0,186.0" stroke="#8e8e86" stroke-width="0.9" fill="none" stroke-linejoin="round" stroke-linecap="round" stroke-opacity="0.7"/>
<path d="M921.0,150.5 L1082.5,239.0 L1190.0,297.0" stroke="#f5f4ee" stroke-width="2" fill="none" stroke-linejoin="round" stroke-linecap="round" />
<path d="M1081.5,241.0 L1187.0,299.0 L1058.9,347.9 L1067.7,370.7 L969.2,409.5 L921.7,363.7 Z" stroke="#fcf8f2" stroke-width="2.6" fill="none" stroke-linejoin="round"/>
<path d="M1131.9,576.0 L1163.0,535.0 L1200.0,494.0" stroke="#f3f1f6" stroke-width="3" fill="none" stroke-linejoin="round" stroke-linecap="round" />
<text x="845.0" y="84.3" fill="#8f9588" font-family="Liberation Sans, Arial, sans-serif" font-size="13.5" font-weight="bold" letter-spacing="1.6" textLength="67.7" lengthAdjust="spacingAndGlyphs">PHƯỜNG 5</text>
<text x="624.7" y="205.9" fill="#8f9588" font-family="Liberation Sans, Arial, sans-serif" font-size="13.5" font-weight="bold" letter-spacing="1.6" textLength="68.0" lengthAdjust="spacingAndGlyphs">PHƯỜNG 8</text>
<text x="740.6" y="233.3" fill="#8f9588" font-family="Liberation Sans, Arial, sans-serif" font-size="13.5" font-weight="bold" letter-spacing="1.6" textLength="68.4" lengthAdjust="spacingAndGlyphs">PHƯỜNG 6</text>
<text x="493.8" y="277.0" fill="#8f9588" font-family="Liberation Sans, Arial, sans-serif" font-size="13.5" font-weight="bold" letter-spacing="1.6" textLength="76.8" lengthAdjust="spacingAndGlyphs">PHƯỜNG 10</text>
<text x="582.4" y="425.6" fill="#8f9588" font-family="Liberation Sans, Arial, sans-serif" font-size="13.5" font-weight="bold" letter-spacing="1.6" textLength="69.4" lengthAdjust="spacingAndGlyphs">PHƯỜNG 9</text>
<text x="681.9" y="522.7" fill="#8f9588" font-family="Liberation Sans, Arial, sans-serif" font-size="13.5" font-weight="bold" letter-spacing="1.6" textLength="76.7" lengthAdjust="spacingAndGlyphs">PHƯỜNG 15</text>
<text x="548.4" y="546.0" fill="#8f9588" font-family="Liberation Sans, Arial, sans-serif" font-size="13.5" font-weight="bold" letter-spacing="1.6" textLength="76.2" lengthAdjust="spacingAndGlyphs">PHƯỜNG 14</text>
<text x="637.0" y="652.3" fill="#8f9588" font-family="Liberation Sans, Arial, sans-serif" font-size="13.5" font-weight="bold" letter-spacing="1.6" textLength="76.4" lengthAdjust="spacingAndGlyphs">PHƯỜNG 13</text>
<text x="807.3" y="460.5" fill="#bfb16c" font-family="Liberation Sans, Arial, sans-serif" font-size="13.5" font-weight="bold" letter-spacing="1.6" textLength="76.4" lengthAdjust="spacingAndGlyphs">PHƯỜNG 14</text>
<text x="1025.5" y="438.3" fill="#bfb16c" font-family="Liberation Sans, Arial, sans-serif" font-size="13.5" font-weight="bold" letter-spacing="1.6" textLength="76.3" lengthAdjust="spacingAndGlyphs">PHƯỜNG 12</text>
<text x="903.4" y="268.0" fill="#d99b76" font-family="Liberation Sans, Arial, sans-serif" font-size="13.5" font-weight="bold" letter-spacing="1.6" textLength="76.3" lengthAdjust="spacingAndGlyphs">PHƯỜNG 15</text>
<text x="1007.9" y="327.8" fill="#d0968a" font-family="Liberation Sans, Arial, sans-serif" font-size="13.5" font-weight="bold" letter-spacing="1.6" textLength="77.4" lengthAdjust="spacingAndGlyphs">PHƯỜNG 13</text>
<text x="998.9" y="162.5" fill="#ae9f8c" font-family="Liberation Sans, Arial, sans-serif" font-size="13.5" font-weight="bold" letter-spacing="1.6" textLength="75.3" lengthAdjust="spacingAndGlyphs">PHƯỜNG 11</text>
<text x="1075.2" y="131.7" fill="#ae9f8c" font-family="Liberation Sans, Arial, sans-serif" font-size="13.5" font-weight="bold" letter-spacing="1.6" textLength="75.8" lengthAdjust="spacingAndGlyphs">PHƯỜNG 12</text>
<text x="1194.7" y="115.5" fill="#ae9f8c" font-family="Liberation Sans, Arial, sans-serif" font-size="13.5" font-weight="bold" letter-spacing="1.6" textLength="76.5" lengthAdjust="spacingAndGlyphs">PHƯỜNG 14</text>
<text x="1175.6" y="164.8" fill="#ae9f8c" font-family="Liberation Sans, Arial, sans-serif" font-size="13.5" font-weight="bold" letter-spacing="1.6" textLength="76.9" lengthAdjust="spacingAndGlyphs">PHƯỜNG 13</text>
<text x="1222.5" y="268.1" fill="#ae9f8c" font-family="Liberation Sans, Arial, sans-serif" font-size="13.5" font-weight="bold" letter-spacing="1.6" textLength="67.7" lengthAdjust="spacingAndGlyphs">PHƯỜNG 9</text>
<text x="1206.7" y="520.5" fill="#ae9f8c" font-family="Liberation Sans, Arial, sans-serif" font-size="13.5" font-weight="bold" letter-spacing="1.6" textLength="68.9" lengthAdjust="spacingAndGlyphs">PHƯỜNG 3</text>
<text x="1156.6" y="560.2" fill="#ae9f8c" font-family="Liberation Sans, Arial, sans-serif" font-size="13.5" font-weight="bold" letter-spacing="1.6" textLength="67.6" lengthAdjust="spacingAndGlyphs">PHƯỜNG 1</text>
<text x="1261.0" y="575.2" fill="#ae9f8c" font-family="Liberation Sans, Arial, sans-serif" font-size="13.5" font-weight="bold" letter-spacing="1.6" textLength="68.0" lengthAdjust="spacingAndGlyphs">PHƯỜNG 2</text>
<text x="1172.4" y="643.7" fill="#bfb16c" font-family="Liberation Sans, Arial, sans-serif" font-size="13.5" font-weight="bold" letter-spacing="1.6" textLength="67.6" lengthAdjust="spacingAndGlyphs">PHƯỜNG 1</text>
<text x="1062.6" y="538.5" fill="#bfb16c" font-family="Liberation Sans, Arial, sans-serif" font-size="13.5" font-weight="bold" letter-spacing="1.6" textLength="76.4" lengthAdjust="spacingAndGlyphs">PHƯỜNG 10</text>
<text x="1036.3" y="610.3" fill="#bfb16c" font-family="Liberation Sans, Arial, sans-serif" font-size="13.5" font-weight="bold" letter-spacing="1.6" textLength="68.1" lengthAdjust="spacingAndGlyphs">PHƯỜNG 9</text>
<text x="1083.5" y="663.7" fill="#bfb16c" font-family="Liberation Sans, Arial, sans-serif" font-size="13.5" font-weight="bold" letter-spacing="1.6" textLength="67.5" lengthAdjust="spacingAndGlyphs">PHƯỜNG 2</text>
<text x="994.6" y="679.2" fill="#bfb16c" font-family="Liberation Sans, Arial, sans-serif" font-size="13.5" font-weight="bold" letter-spacing="1.6" textLength="68.2" lengthAdjust="spacingAndGlyphs">PHƯỜNG 4</text>
<text x="912.8" y="627.3" fill="#58ae88" font-family="Liberation Sans, Arial, sans-serif" font-size="13.5" font-weight="bold" letter-spacing="1.6" textLength="68.2" lengthAdjust="spacingAndGlyphs">PHƯỜNG 8</text>
<text x="860.3" y="696.2" fill="#bfb16c" font-family="Liberation Sans, Arial, sans-serif" font-size="13.5" font-weight="bold" letter-spacing="1.6" textLength="67.9" lengthAdjust="spacingAndGlyphs">PHƯỜNG 6</text>
<text x="1015.9" y="775.6" fill="#ae9f8c" font-family="Liberation Sans, Arial, sans-serif" font-size="13.5" font-weight="bold" letter-spacing="1.6" textLength="68.9" lengthAdjust="spacingAndGlyphs">PHƯỜNG 9</text>
<text x="1205.8" y="707.6" fill="#ae9f8c" font-family="Liberation Sans, Arial, sans-serif" font-size="13.5" font-weight="bold" letter-spacing="1.6" textLength="68.5" lengthAdjust="spacingAndGlyphs">PHƯỜNG 4</text>
<text x="1215.0" y="773.1" fill="#ae9f8c" font-family="Liberation Sans, Arial, sans-serif" font-size="13.5" font-weight="bold" letter-spacing="1.6" textLength="69.0" lengthAdjust="spacingAndGlyphs">PHƯỜNG 3</text>
<text x="1242.2" y="817.4" fill="#ae9f8c" font-family="Liberation Sans, Arial, sans-serif" font-size="13.5" font-weight="bold" letter-spacing="1.6" textLength="68.8" lengthAdjust="spacingAndGlyphs">PHƯỜNG 2</text>
<text x="1339.3" y="687.6" fill="#8f9588" font-family="Liberation Sans, Arial, sans-serif" font-size="13.5" font-weight="bold" letter-spacing="1.6" textLength="60.7" lengthAdjust="spacingAndGlyphs">PHƯỜNG</text>
<text x="953.3" y="470.0" fill="#bfb16c" font-family="Liberation Sans, Arial, sans-serif" font-size="18" font-weight="bold" letter-spacing="2.5" textLength="88.7" lengthAdjust="spacingAndGlyphs">QUẬN 10</text>
<text x="506.9" y="618.4" fill="#8f9588" font-family="Liberation Sans, Arial, sans-serif" font-size="19.5" font-weight="bold" letter-spacing="2.5" textLength="87.4" lengthAdjust="spacingAndGlyphs">QUẬN 11</text>
<text x="1363.6" y="703.4" fill="#8f9588" font-family="Liberation Sans, Arial, sans-serif" font-size="13.5" font-weight="bold" letter-spacing="1.6" textLength="36.4" lengthAdjust="spacingAndGlyphs">CƯ T</text>
<text x="472.0" y="555.4" fill="#a3aca4" font-family="Liberation Sans, Arial, sans-serif" font-size="21" font-weight="bold" letter-spacing="2" textLength="36.3" lengthAdjust="spacingAndGlyphs">HỐ</text>
<text x="484.8" y="582.4" fill="#a3aca4" font-family="Liberation Sans, Arial, sans-serif" font-size="21" font-weight="bold" letter-spacing="2" textLength="33.1" lengthAdjust="spacingAndGlyphs">NH</text>
<text x="478.0" y="513.4" fill="#8f9588" font-family="Liberation Sans, Arial, sans-serif" font-size="13.5" font-weight="bold" letter-spacing="1.6" textLength="18.0" lengthAdjust="spacingAndGlyphs">G 5</text>
<text x="470.0" y="383.0" fill="#8f9588" font-family="Liberation Sans, Arial, sans-serif" font-size="13.5" font-weight="bold" letter-spacing="1.6" textLength="13.0" lengthAdjust="spacingAndGlyphs">G</text>
<text x="818.0" y="725.0" fill="#8f9588" font-family="Liberation Sans, Arial, sans-serif" font-size="13.5" font-weight="bold" letter-spacing="1.6" textLength="20.0" lengthAdjust="spacingAndGlyphs">G 7</text>
<text x="484.0" y="686.0" fill="#8f9588" font-family="Liberation Sans, Arial, sans-serif" font-size="13.5" font-weight="bold" letter-spacing="1.6" textLength="14.0" lengthAdjust="spacingAndGlyphs">10</text>
<text x="778.6" y="331.3" fill="#b5a463" font-family="Liberation Sans, Arial, sans-serif" font-size="14.5" textLength="86.0" lengthAdjust="spacingAndGlyphs">Bệnh Viện Đa</text>
<text x="768.0" y="349.2" fill="#b5a463" font-family="Liberation Sans, Arial, sans-serif" font-size="14.5" textLength="107.0" lengthAdjust="spacingAndGlyphs">Khoa Bưu Điện 2</text>
<text x="876.0" y="499.2" fill="#b0a466" font-family="Liberation Sans, Arial, sans-serif" font-size="14.5" textLength="112.5" lengthAdjust="spacingAndGlyphs">Công An Quận 10</text>
<text x="904.0" y="407.7" fill="#b3a268" font-family="Liberation Sans, Arial, sans-serif" font-size="14.5" textLength="123.0" lengthAdjust="spacingAndGlyphs">Bệnh Viện Quận 10</text>
<text x="893.6" y="187.5" fill="#cd9270" font-family="Liberation Sans, Arial, sans-serif" font-size="14.5" textLength="94.4" lengthAdjust="spacingAndGlyphs">Công Viên Văn</text>
<text x="886.0" y="205.1" fill="#cd9270" font-family="Liberation Sans, Arial, sans-serif" font-size="14.5" textLength="109.3" lengthAdjust="spacingAndGlyphs">Hóa Lê Thị Riêng</text>
<text x="1077.0" y="284.8" fill="#c98a7a" font-family="Liberation Sans, Arial, sans-serif" font-size="14.5" textLength="86.0" lengthAdjust="spacingAndGlyphs">Bệnh Viện Đa</text>
<text x="1062.6" y="302.2" fill="#c98a7a" font-family="Liberation Sans, Arial, sans-serif" font-size="14.5" textLength="115.0" lengthAdjust="spacingAndGlyphs">Khoa Mắt Sài Gòn</text>
<text x="1269.0" y="223.3" fill="#a8958a" font-family="Liberation Sans, Arial, sans-serif" font-size="15" textLength="131.0" lengthAdjust="spacingAndGlyphs">Bệnh Viện Hoàn Mỹ</text>
<text x="1056.4" y="749.3" fill="#7f8681" font-family="Liberation Sans, Arial, sans-serif" font-size="15" textLength="129.4" lengthAdjust="spacingAndGlyphs">Công Viên Hòa Bình</text>
<text x="0" y="0" transform="translate(696.0,164.0) rotate(68)" text-anchor="middle" dominant-baseline="central" fill="#74827b" font-family="Liberation Sans, Arial, sans-serif" font-size="17" font-weight="normal" font-style="normal" textLength="46" lengthAdjust="spacingAndGlyphs">Ba Gia</text>
<text x="0" y="0" transform="translate(762.5,464.0) rotate(72)" text-anchor="middle" dominant-baseline="central" fill="#74827b" font-family="Liberation Sans, Arial, sans-serif" font-size="16" font-weight="normal" font-style="normal" textLength="112" lengthAdjust="spacingAndGlyphs">Lý Thường Kiệt</text>
<text x="0" y="0" transform="translate(1161.0,225.0) rotate(14)" text-anchor="middle" dominant-baseline="central" fill="#8a8a80" font-family="Liberation Sans, Arial, sans-serif" font-size="15" font-weight="normal" font-style="normal" textLength="103" lengthAdjust="spacingAndGlyphs">Trần Văn Đang</text>
<text x="0" y="0" transform="translate(865.3,373.7) rotate(50)" text-anchor="middle" dominant-baseline="central" fill="#b0a262" font-family="Liberation Sans, Arial, sans-serif" font-size="14" font-weight="normal" font-style="normal" textLength="17" lengthAdjust="spacingAndGlyphs">D1</text>
<text x="0" y="0" transform="translate(842.3,403.9) rotate(55)" text-anchor="middle" dominant-baseline="central" fill="#b0a262" font-family="Liberation Sans, Arial, sans-serif" font-size="14" font-weight="normal" font-style="normal" textLength="17" lengthAdjust="spacingAndGlyphs">D8</text>
<text x="0" y="0" transform="translate(1208.6,601.0) rotate(18)" text-anchor="middle" dominant-baseline="central" fill="#8e8b82" font-family="Liberation Sans, Arial, sans-serif" font-size="15" font-weight="normal" font-style="italic" textLength="78" lengthAdjust="spacingAndGlyphs">Lý Thái Tổ</text>
<text x="0" y="0" transform="translate(927.7,745.0) rotate(-14.4)" text-anchor="middle" dominant-baseline="central" fill="#b0a262" font-family="Liberation Sans, Arial, sans-serif" font-size="15" font-weight="normal" font-style="normal" textLength="84" lengthAdjust="spacingAndGlyphs">Đào Duy Từ</text>
<text x="0" y="0" transform="translate(484.0,742.0) rotate(-90)" text-anchor="middle" dominant-baseline="central" fill="#7f8c86" font-family="Liberation Sans, Arial, sans-serif" font-size="17" font-weight="normal" font-style="normal" textLength="77" lengthAdjust="spacingAndGlyphs">n Phụng</text>
<g opacity="0.75"><circle cx="821" cy="308" r="5.5" fill="#f0a35c"/><path d="M818,308h6M821,305v6" stroke="#fff" stroke-width="1.6"/><circle cx="964.6" cy="384.8" r="5.5" fill="#e8857a"/><path d="M961.6,384.8h6M964.6,381.8v6" stroke="#fff" stroke-width="1.6"/><circle cx="1119.3" cy="258.6" r="5.5" fill="#e8857a"/><path d="M1116.3,258.6h6M1119.3,255.60000000000002v6" stroke="#fff" stroke-width="1.6"/></g>
<circle cx="1331.8" cy="199.4" r="5.5" fill="#e86f6a"/><path d="M1328.8,199.4h6M1331.8,196.4v6" stroke="#fff" stroke-width="1.6"/>
<circle cx="931.2" cy="474.5" r="5" fill="#f3b641"/>
<circle cx="940.4" cy="161.5" r="3" fill="#6fb04a"/><path d="M940.4,163v4" stroke="#6fb04a" stroke-width="1.2"/>
<circle cx="1121" cy="724.5" r="3" fill="#6fb04a"/><path d="M1121,726v4" stroke="#6fb04a" stroke-width="1.2"/>

</svg>

<div id="search">
  <span class="abs" id="s1">Thành Phố Hồ Chí Minh</span>
  <span class="circ" style="left:209px"><svg width="12" height="8" viewBox="0 0 12 8"><path d="M1.5 1.5 L6 6 L10.5 1.5" stroke="#555" stroke-width="1.3" fill="none"/></svg></span>
  <span class="abs" id="slash">/</span>
  <span class="abs" id="s2">Quận 10</span>
  <span class="circ" style="left:348px"><svg width="12" height="8" viewBox="0 0 12 8"><path d="M1.5 1.5 L6 6 L10.5 1.5" stroke="#555" stroke-width="1.3" fill="none"/></svg></span>
</div>

<div id="popup">
  <div class="abs" id="p1">Phường 13</div>
  <div class="abs pg" style="top:71px">Tổng Ca Dương Tính</div>
  <div class="abs pg" style="top:113px">Ca Dương Tính Trong Ngày</div>
  <div class="abs pg" style="top:155px">Tỉ Lệ Vùng Xanh</div>
</div>

<div id="legend">
  <div class="lr" style="top:15px"><i style="background:#2fc08a"></i>Vùng xanh: Cấp 1 (Nguy cơ thấp)</div>
  <div class="lr" style="top:44px"><i style="background:#d9c85c"></i>Vùng vàng: Cấp 2 (Nguy cơ trung bình)</div>
  <div class="lr" style="top:73px"><i style="background:#f58d4d"></i>Vùng cam: Cấp 3 (Nguy cơ cao)</div>
  <div class="lr" style="top:102px"><i style="background:#a80f12"></i>Vùng đỏ: Cấp 4 (Nguy cơ rất cao)</div>
  <div class="lr" style="top:131px"><i style="background:#cfcfcf"></i>Đang cập nhật</div>
</div>
</body>
</html>
